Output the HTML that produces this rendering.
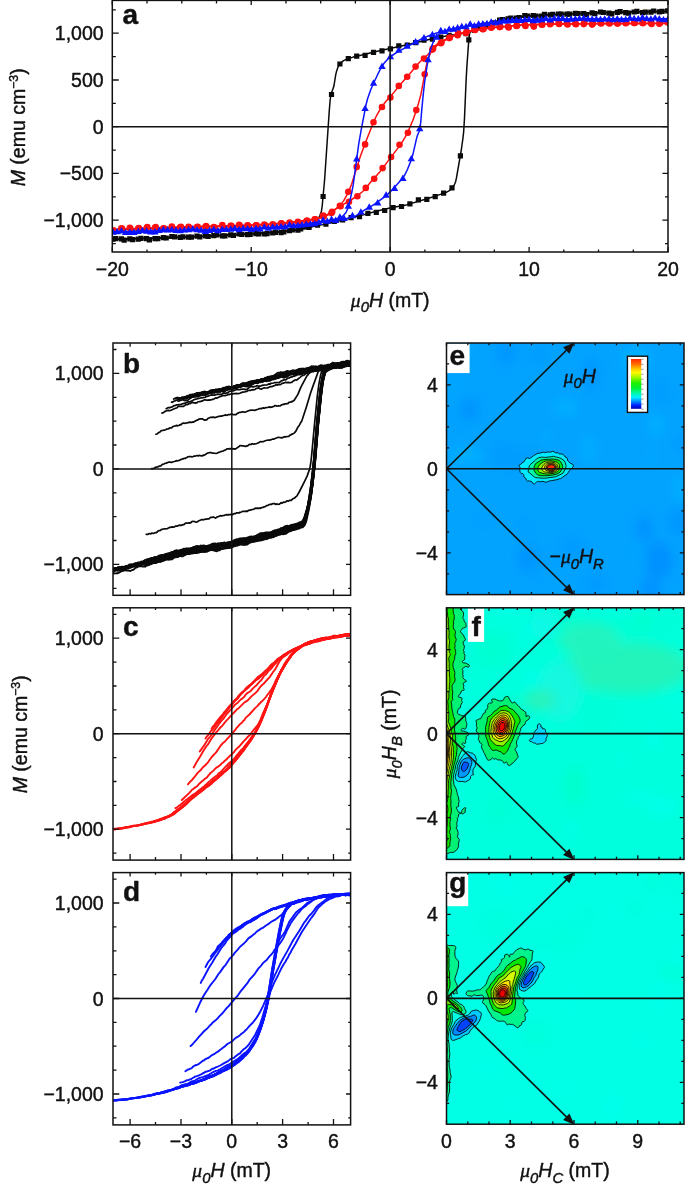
<!DOCTYPE html>
<html lang="en"><head><meta charset="utf-8"><title>Figure</title>
<style>html,body{margin:0;padding:0;background:#fff}svg{display:block;will-change:transform}text{stroke:#111;stroke-width:.42px;stroke-linejoin:round}</style></head>
<body>
<svg width="685" height="1188" viewBox="0 0 685 1188" font-family='"Liberation Sans", sans-serif' fill="#111">
<defs>
<clipPath id="clipA"><rect x="112.3" y="0.4" width="555.7" height="251.6"/></clipPath>
<clipPath id="clipb"><rect x="113.0" y="343" width="237.60000000000002" height="252.3"/></clipPath>
<clipPath id="clipc"><rect x="113.0" y="607.8" width="237.60000000000002" height="252.3"/></clipPath>
<clipPath id="clipd"><rect x="113.0" y="872.6" width="237.60000000000002" height="252.3"/></clipPath>
<clipPath id="clipMe"><rect x="446.5" y="343" width="237.5" height="251.6"/></clipPath>
<clipPath id="clipMf"><rect x="446.5" y="607.8" width="237.5" height="251.6"/></clipPath>
<clipPath id="clipMg"><rect x="446.5" y="872.6" width="237.5" height="251.6"/></clipPath>
<filter id="blur" x="-20%" y="-20%" width="140%" height="140%"><feGaussianBlur stdDeviation="6"/></filter>
<linearGradient id="cb" x1="0" y1="0" x2="0" y2="1"><stop offset="0%" stop-color="#ff2a00"/><stop offset="10%" stop-color="#ff6a00"/><stop offset="20%" stop-color="#ffc800"/><stop offset="27%" stop-color="#fff800"/><stop offset="36%" stop-color="#a8f800"/><stop offset="48%" stop-color="#20f000"/><stop offset="58%" stop-color="#00f030"/><stop offset="68%" stop-color="#00f8a0"/><stop offset="77%" stop-color="#00f0ff"/><stop offset="85%" stop-color="#0090ff"/><stop offset="93%" stop-color="#0020ff"/><stop offset="100%" stop-color="#0000b0"/></linearGradient>
</defs>
<rect width="685" height="1188" fill="#fff"/>
<g clip-path="url(#clipA)">
<path d="M112.3 239.2l42.1-1.2 45.3-1.7 43.8-2.3 32.6-2.1 15.9-1.6 5.5-0.9 4-0.8 4-1.3 3.2-1.4 3.1-1.8 3.2-2.2 2.4-2.2 1.6-2.3 0.8-1.6 1.6-4.3 0.8-5.5 2.4-26.2 4.7-69.4 0.8-9.7 0.8-5.5 0.8-2.9 1.6-4.2 0.8-3.1 1.6-10.1 0.8-3.5 1.6-4.6 0.8-1.7 0.8-1.1 1.6-1.7 2.3-1.6 3.2-1.6 6.4-2 8.7-2 14.3-3.7 28.7-6.2 26.2-6.2 15.1-3.1 15.9-2.4 7.2-1.4 3.9-1.3 18.3-7.3 5.6-2.1 5.5-1.6 8-1.3 10.3-1.3 12.8-1.2 13.5-1 15.1-0.7 50.1-1.7 55.6-1.1" stroke="#0a0a0a" stroke-width="1.5" fill="none" stroke-linejoin="round" stroke-linecap="round"/>
<path d="M110.4 236.6h5.2v5.2h-5.2zM118.8 236.2h5.2v5.2h-5.2zM127.2 236.3h5.2v5.2h-5.2zM135.6 236.5h5.2v5.2h-5.2zM144 236h5.2v5.2h-5.2zM152.4 236h5.2v5.2h-5.2zM160.8 235.1h5.2v5.2h-5.2zM169.2 233.9h5.2v5.2h-5.2zM177.6 234.8h5.2v5.2h-5.2zM186 234.6h5.2v5.2h-5.2zM194.4 233.5h5.2v5.2h-5.2zM202.8 233.2h5.2v5.2h-5.2zM211.2 233h5.2v5.2h-5.2zM219.7 233.2h5.2v5.2h-5.2zM228.1 232.2h5.2v5.2h-5.2zM236.5 231.2h5.2v5.2h-5.2zM244.9 232.1h5.2v5.2h-5.2zM253.3 231h5.2v5.2h-5.2zM261.7 231.4h5.2v5.2h-5.2zM270.1 230.4h5.2v5.2h-5.2zM278.5 230h5.2v5.2h-5.2zM286.9 228.1h5.2v5.2h-5.2zM295.3 227.6h5.2v5.2h-5.2zM303.7 224.2h5.2v5.2h-5.2zM312.1 219.4h5.2v5.2h-5.2zM320.5 193.9h5.2v5.2h-5.2zM328.9 91.9h5.2v5.2h-5.2zM337.3 61.4h5.2v5.2h-5.2zM345.7 56h5.2v5.2h-5.2zM354.1 53.6h5.2v5.2h-5.2zM362.5 52.7h5.2v5.2h-5.2zM370.9 49.8h5.2v5.2h-5.2zM379.4 48.2h5.2v5.2h-5.2zM387.8 46.2h5.2v5.2h-5.2zM396.2 43.2h5.2v5.2h-5.2zM404.6 42.6h5.2v5.2h-5.2zM413 40.1h5.2v5.2h-5.2zM421.4 37.5h5.2v5.2h-5.2zM429.8 36.5h5.2v5.2h-5.2zM438.2 34.4h5.2v5.2h-5.2zM446.6 32.7h5.2v5.2h-5.2zM455 31.6h5.2v5.2h-5.2zM463.4 31h5.2v5.2h-5.2zM471.8 27.7h5.2v5.2h-5.2zM480.2 23.5h5.2v5.2h-5.2zM488.6 22h5.2v5.2h-5.2zM497 17.5h5.2v5.2h-5.2zM505.4 16.2h5.2v5.2h-5.2zM513.8 15.5h5.2v5.2h-5.2zM522.2 12.9h5.2v5.2h-5.2zM530.6 12.9h5.2v5.2h-5.2zM539.1 13.6h5.2v5.2h-5.2zM547.5 12.2h5.2v5.2h-5.2zM555.9 11.4h5.2v5.2h-5.2zM564.3 11.6h5.2v5.2h-5.2zM572.7 10.7h5.2v5.2h-5.2zM581.1 10.9h5.2v5.2h-5.2zM589.5 10.2h5.2v5.2h-5.2zM597.9 9.4h5.2v5.2h-5.2zM606.3 10.6h5.2v5.2h-5.2zM614.7 9.8h5.2v5.2h-5.2zM623.1 10h5.2v5.2h-5.2zM631.5 9.4h5.2v5.2h-5.2zM639.9 10.1h5.2v5.2h-5.2zM648.3 9.5h5.2v5.2h-5.2zM656.7 9.2h5.2v5.2h-5.2zM665.1 8.3h5.2v5.2h-5.2z" fill="#0a0a0a"/>
<path d="M112.3 239.6l61.2-1.9 58-2.5 21.5-1.2 14.3-1 19.1-1.7 11.1-1.4 5.6-0.9 11.1-2.8 11.2-2.2 14.3-3.3 19-4.6 16.7-4.6 11.2-2.8 5.5-1.1 10.4-1.8 3.9-0.9 21.5-6.4 9.6-3.1 8.7-3 3.2-1.8 2.4-2.1 2.3-3.4 0.8-1.6 0.8-2.1 0.8-3.7 4.8-27.7 1.6-11.5 0.8-7.2 0.8-13.2 1.6-37.6 0.8-14.1 1.6-22.5 0.8-8.3 0.7-3.9 0.8-0.7 1.6-1.1 1.6-0.7 5.6-1.4 13.5-5.3 7.2-2.4 3.1-0.7 6.4-1.1 13.5-1.7 22.3-1.7 29.4-1.3 49.3-1.5 43.7-0.8" stroke="#0a0a0a" stroke-width="1.5" fill="none" stroke-linejoin="round" stroke-linecap="round"/>
<path d="M113.2 236.1h5.2v5.2h-5.2zM121.6 237.5h5.2v5.2h-5.2zM130 237h5.2v5.2h-5.2zM138.4 235.8h5.2v5.2h-5.2zM146.8 237.2h5.2v5.2h-5.2zM155.2 236h5.2v5.2h-5.2zM163.6 235.4h5.2v5.2h-5.2zM172 234.2h5.2v5.2h-5.2zM180.4 234.3h5.2v5.2h-5.2zM188.8 234.6h5.2v5.2h-5.2zM197.2 234.3h5.2v5.2h-5.2zM205.6 233.9h5.2v5.2h-5.2zM214 232.4h5.2v5.2h-5.2zM222.4 233.2h5.2v5.2h-5.2zM230.8 232.7h5.2v5.2h-5.2zM239.2 231.8h5.2v5.2h-5.2zM247.6 231.7h5.2v5.2h-5.2zM256.1 231.2h5.2v5.2h-5.2zM264.5 231.1h5.2v5.2h-5.2zM272.9 229.7h5.2v5.2h-5.2zM281.3 229.2h5.2v5.2h-5.2zM289.7 227.3h5.2v5.2h-5.2zM298.1 226.4h5.2v5.2h-5.2zM306.5 224.9h5.2v5.2h-5.2zM314.9 222.5h5.2v5.2h-5.2zM323.3 221.5h5.2v5.2h-5.2zM331.7 218.7h5.2v5.2h-5.2zM340.1 217.4h5.2v5.2h-5.2zM348.5 215h5.2v5.2h-5.2zM356.9 214.1h5.2v5.2h-5.2zM365.3 210.8h5.2v5.2h-5.2zM373.7 209.8h5.2v5.2h-5.2zM382.1 207.9h5.2v5.2h-5.2zM390.5 205h5.2v5.2h-5.2zM398.9 203.9h5.2v5.2h-5.2zM407.3 201.2h5.2v5.2h-5.2zM415.8 197.3h5.2v5.2h-5.2zM424.2 196.8h5.2v5.2h-5.2zM432.6 194h5.2v5.2h-5.2zM441 190.6h5.2v5.2h-5.2zM449.4 185.3h5.2v5.2h-5.2zM457.8 153.2h5.2v5.2h-5.2zM466.2 37.3h5.2v5.2h-5.2zM474.6 25.3h5.2v5.2h-5.2zM483 22.5h5.2v5.2h-5.2zM491.4 20.2h5.2v5.2h-5.2zM499.8 17.1h5.2v5.2h-5.2zM508.2 15.5h5.2v5.2h-5.2zM516.6 15.1h5.2v5.2h-5.2zM525 13.4h5.2v5.2h-5.2zM533.4 13.5h5.2v5.2h-5.2zM541.8 11.7h5.2v5.2h-5.2zM550.2 11.8h5.2v5.2h-5.2zM558.6 11.5h5.2v5.2h-5.2zM567 11.6h5.2v5.2h-5.2zM575.5 10.9h5.2v5.2h-5.2zM583.9 11.9h5.2v5.2h-5.2zM592.3 11.1h5.2v5.2h-5.2zM600.7 9.9h5.2v5.2h-5.2zM609.1 11.3h5.2v5.2h-5.2zM617.5 9.1h5.2v5.2h-5.2zM625.9 10.6h5.2v5.2h-5.2zM634.3 8.8h5.2v5.2h-5.2zM642.7 9.6h5.2v5.2h-5.2zM651.1 8.4h5.2v5.2h-5.2zM659.5 8.7h5.2v5.2h-5.2z" fill="#0a0a0a"/>
<path d="M112.3 229.6l66.8-2.6 65.2-1.7 25.4-1.2 19.1-1.6 15.9-1.9 7.1-1.3 8-1.8 5.6-1.4 3.1-1.3 2.4-1.6 8-7 2.4-2.3 2.3-3 3.2-5.7 2.4-5.1 2.4-5.8 8.7-27.7 4.8-13 7.2-18.4 3.9-8.9 3.2-5.7 3.2-4.9 3.2-4.2 7.1-7.9 8-9.8 8.7-9.8 7.2-8.8 3.2-3.4 7.1-6.5 7.2-7.3 3.2-2.9 3.1-2.2 4-2.4 5.6-3 3.9-1.8 4.8-1.6 5.6-1.5 9.5-2.1 5.6-1.1 17.5-2.1 27-2.3 22.3-0.7 31-0.5 90.6-0.4" stroke="#ff1010" stroke-width="1.5" fill="none" stroke-linejoin="round" stroke-linecap="round"/>
<path d="M109.7 230.5a3.3 3.3 0 1 0 6.6 0a3.3 3.3 0 1 0 -6.6 0zM118.1 228.3a3.3 3.3 0 1 0 6.6 0a3.3 3.3 0 1 0 -6.6 0zM126.5 227.9a3.3 3.3 0 1 0 6.6 0a3.3 3.3 0 1 0 -6.6 0zM134.9 228.5a3.3 3.3 0 1 0 6.6 0a3.3 3.3 0 1 0 -6.6 0zM143.3 228.3a3.3 3.3 0 1 0 6.6 0a3.3 3.3 0 1 0 -6.6 0zM151.7 227.9a3.3 3.3 0 1 0 6.6 0a3.3 3.3 0 1 0 -6.6 0zM160.1 228.2a3.3 3.3 0 1 0 6.6 0a3.3 3.3 0 1 0 -6.6 0zM168.5 226.5a3.3 3.3 0 1 0 6.6 0a3.3 3.3 0 1 0 -6.6 0zM176.9 227.3a3.3 3.3 0 1 0 6.6 0a3.3 3.3 0 1 0 -6.6 0zM185.3 226.8a3.3 3.3 0 1 0 6.6 0a3.3 3.3 0 1 0 -6.6 0zM193.7 227a3.3 3.3 0 1 0 6.6 0a3.3 3.3 0 1 0 -6.6 0zM202.1 226.7a3.3 3.3 0 1 0 6.6 0a3.3 3.3 0 1 0 -6.6 0zM210.5 227a3.3 3.3 0 1 0 6.6 0a3.3 3.3 0 1 0 -6.6 0zM219 225.1a3.3 3.3 0 1 0 6.6 0a3.3 3.3 0 1 0 -6.6 0zM227.4 225.8a3.3 3.3 0 1 0 6.6 0a3.3 3.3 0 1 0 -6.6 0zM235.8 224.9a3.3 3.3 0 1 0 6.6 0a3.3 3.3 0 1 0 -6.6 0zM244.2 225.2a3.3 3.3 0 1 0 6.6 0a3.3 3.3 0 1 0 -6.6 0zM252.6 225.3a3.3 3.3 0 1 0 6.6 0a3.3 3.3 0 1 0 -6.6 0zM261 224.6a3.3 3.3 0 1 0 6.6 0a3.3 3.3 0 1 0 -6.6 0zM269.4 224.2a3.3 3.3 0 1 0 6.6 0a3.3 3.3 0 1 0 -6.6 0zM277.8 223.2a3.3 3.3 0 1 0 6.6 0a3.3 3.3 0 1 0 -6.6 0zM286.2 222.6a3.3 3.3 0 1 0 6.6 0a3.3 3.3 0 1 0 -6.6 0zM294.6 221.7a3.3 3.3 0 1 0 6.6 0a3.3 3.3 0 1 0 -6.6 0zM303 221.2a3.3 3.3 0 1 0 6.6 0a3.3 3.3 0 1 0 -6.6 0zM311.4 219.2a3.3 3.3 0 1 0 6.6 0a3.3 3.3 0 1 0 -6.6 0zM319.8 215.6a3.3 3.3 0 1 0 6.6 0a3.3 3.3 0 1 0 -6.6 0zM328.2 213.1a3.3 3.3 0 1 0 6.6 0a3.3 3.3 0 1 0 -6.6 0zM336.6 205.9a3.3 3.3 0 1 0 6.6 0a3.3 3.3 0 1 0 -6.6 0zM345 191.8a3.3 3.3 0 1 0 6.6 0a3.3 3.3 0 1 0 -6.6 0zM353.4 166.9a3.3 3.3 0 1 0 6.6 0a3.3 3.3 0 1 0 -6.6 0zM361.8 144.4a3.3 3.3 0 1 0 6.6 0a3.3 3.3 0 1 0 -6.6 0zM370.2 122.2a3.3 3.3 0 1 0 6.6 0a3.3 3.3 0 1 0 -6.6 0zM378.7 107a3.3 3.3 0 1 0 6.6 0a3.3 3.3 0 1 0 -6.6 0zM387.1 97.6a3.3 3.3 0 1 0 6.6 0a3.3 3.3 0 1 0 -6.6 0zM395.5 85.9a3.3 3.3 0 1 0 6.6 0a3.3 3.3 0 1 0 -6.6 0zM403.9 76.8a3.3 3.3 0 1 0 6.6 0a3.3 3.3 0 1 0 -6.6 0zM412.3 66.6a3.3 3.3 0 1 0 6.6 0a3.3 3.3 0 1 0 -6.6 0zM420.7 58.6a3.3 3.3 0 1 0 6.6 0a3.3 3.3 0 1 0 -6.6 0zM429.1 49.6a3.3 3.3 0 1 0 6.6 0a3.3 3.3 0 1 0 -6.6 0zM437.5 43.2a3.3 3.3 0 1 0 6.6 0a3.3 3.3 0 1 0 -6.6 0zM445.9 38.1a3.3 3.3 0 1 0 6.6 0a3.3 3.3 0 1 0 -6.6 0zM454.3 35.2a3.3 3.3 0 1 0 6.6 0a3.3 3.3 0 1 0 -6.6 0zM462.7 33a3.3 3.3 0 1 0 6.6 0a3.3 3.3 0 1 0 -6.6 0zM471.1 29.5a3.3 3.3 0 1 0 6.6 0a3.3 3.3 0 1 0 -6.6 0zM479.5 29.3a3.3 3.3 0 1 0 6.6 0a3.3 3.3 0 1 0 -6.6 0zM487.9 27.7a3.3 3.3 0 1 0 6.6 0a3.3 3.3 0 1 0 -6.6 0zM496.3 27.1a3.3 3.3 0 1 0 6.6 0a3.3 3.3 0 1 0 -6.6 0zM504.7 26.6a3.3 3.3 0 1 0 6.6 0a3.3 3.3 0 1 0 -6.6 0zM513.1 25.9a3.3 3.3 0 1 0 6.6 0a3.3 3.3 0 1 0 -6.6 0zM521.5 24.5a3.3 3.3 0 1 0 6.6 0a3.3 3.3 0 1 0 -6.6 0zM529.9 24.9a3.3 3.3 0 1 0 6.6 0a3.3 3.3 0 1 0 -6.6 0zM538.4 24.5a3.3 3.3 0 1 0 6.6 0a3.3 3.3 0 1 0 -6.6 0zM546.8 24.3a3.3 3.3 0 1 0 6.6 0a3.3 3.3 0 1 0 -6.6 0zM555.2 23.3a3.3 3.3 0 1 0 6.6 0a3.3 3.3 0 1 0 -6.6 0zM563.6 23.5a3.3 3.3 0 1 0 6.6 0a3.3 3.3 0 1 0 -6.6 0zM572 23.6a3.3 3.3 0 1 0 6.6 0a3.3 3.3 0 1 0 -6.6 0zM580.4 24.1a3.3 3.3 0 1 0 6.6 0a3.3 3.3 0 1 0 -6.6 0zM588.8 24.6a3.3 3.3 0 1 0 6.6 0a3.3 3.3 0 1 0 -6.6 0zM597.2 23a3.3 3.3 0 1 0 6.6 0a3.3 3.3 0 1 0 -6.6 0zM605.6 23a3.3 3.3 0 1 0 6.6 0a3.3 3.3 0 1 0 -6.6 0zM614 23.6a3.3 3.3 0 1 0 6.6 0a3.3 3.3 0 1 0 -6.6 0zM622.4 23.1a3.3 3.3 0 1 0 6.6 0a3.3 3.3 0 1 0 -6.6 0zM630.8 23a3.3 3.3 0 1 0 6.6 0a3.3 3.3 0 1 0 -6.6 0zM639.2 22.9a3.3 3.3 0 1 0 6.6 0a3.3 3.3 0 1 0 -6.6 0zM647.6 22.8a3.3 3.3 0 1 0 6.6 0a3.3 3.3 0 1 0 -6.6 0zM656 23.7a3.3 3.3 0 1 0 6.6 0a3.3 3.3 0 1 0 -6.6 0zM664.4 22.4a3.3 3.3 0 1 0 6.6 0a3.3 3.3 0 1 0 -6.6 0z" fill="#ff1010"/>
<path d="M112.3 229.7l66.8-2.4 64.4-1.6 24.6-1.1 21.5-1.8 18.3-2.1 6.3-1.1 5.6-1.4 3.2-1 2.4-1.3 11.1-7.6 13.5-7.8 4.8-3 3.9-2.8 4-3.2 2.4-2.6 5.6-6.8 9.5-10.7 20.7-27.3 4-6.4 3.9-7.8 4-9.4 3.2-9 2.4-7.8 2.4-8.8 1.5-7.7 3.2-17.6 1.6-7.4 1.6-5 2.4-5.3 1.6-2.9 1.6-2.3 1.6-1.7 1.6-1.2 3.1-1.9 9.6-4.9 3.9-1.7 5.6-1.8 5.6-1.4 7.9-1.7 6.4-1.2 18.3-2.1 26.2-2.3 22.3-0.6 31-0.5 90.6-0.5" stroke="#ff1010" stroke-width="1.5" fill="none" stroke-linejoin="round" stroke-linecap="round"/>
<path d="M110.4 230.5a3.3 3.3 0 1 0 6.6 0a3.3 3.3 0 1 0 -6.6 0zM118.8 228.8a3.3 3.3 0 1 0 6.6 0a3.3 3.3 0 1 0 -6.6 0zM127.2 228.7a3.3 3.3 0 1 0 6.6 0a3.3 3.3 0 1 0 -6.6 0zM135.6 228.1a3.3 3.3 0 1 0 6.6 0a3.3 3.3 0 1 0 -6.6 0zM144 227.1a3.3 3.3 0 1 0 6.6 0a3.3 3.3 0 1 0 -6.6 0zM152.4 227.1a3.3 3.3 0 1 0 6.6 0a3.3 3.3 0 1 0 -6.6 0zM160.8 228.5a3.3 3.3 0 1 0 6.6 0a3.3 3.3 0 1 0 -6.6 0zM169.2 228.6a3.3 3.3 0 1 0 6.6 0a3.3 3.3 0 1 0 -6.6 0zM177.6 226.7a3.3 3.3 0 1 0 6.6 0a3.3 3.3 0 1 0 -6.6 0zM186 227.7a3.3 3.3 0 1 0 6.6 0a3.3 3.3 0 1 0 -6.6 0zM194.4 226.8a3.3 3.3 0 1 0 6.6 0a3.3 3.3 0 1 0 -6.6 0zM202.8 226.1a3.3 3.3 0 1 0 6.6 0a3.3 3.3 0 1 0 -6.6 0zM211.2 227.5a3.3 3.3 0 1 0 6.6 0a3.3 3.3 0 1 0 -6.6 0zM219.6 227.6a3.3 3.3 0 1 0 6.6 0a3.3 3.3 0 1 0 -6.6 0zM228.1 225.9a3.3 3.3 0 1 0 6.6 0a3.3 3.3 0 1 0 -6.6 0zM236.5 225.8a3.3 3.3 0 1 0 6.6 0a3.3 3.3 0 1 0 -6.6 0zM244.9 225.7a3.3 3.3 0 1 0 6.6 0a3.3 3.3 0 1 0 -6.6 0zM253.3 225.2a3.3 3.3 0 1 0 6.6 0a3.3 3.3 0 1 0 -6.6 0zM261.7 225.3a3.3 3.3 0 1 0 6.6 0a3.3 3.3 0 1 0 -6.6 0zM270.1 225.2a3.3 3.3 0 1 0 6.6 0a3.3 3.3 0 1 0 -6.6 0zM278.5 223.6a3.3 3.3 0 1 0 6.6 0a3.3 3.3 0 1 0 -6.6 0zM286.9 223.4a3.3 3.3 0 1 0 6.6 0a3.3 3.3 0 1 0 -6.6 0zM295.3 222.9a3.3 3.3 0 1 0 6.6 0a3.3 3.3 0 1 0 -6.6 0zM303.7 220.5a3.3 3.3 0 1 0 6.6 0a3.3 3.3 0 1 0 -6.6 0zM312.1 219.4a3.3 3.3 0 1 0 6.6 0a3.3 3.3 0 1 0 -6.6 0zM320.5 216.5a3.3 3.3 0 1 0 6.6 0a3.3 3.3 0 1 0 -6.6 0zM328.9 211.8a3.3 3.3 0 1 0 6.6 0a3.3 3.3 0 1 0 -6.6 0zM337.3 206.3a3.3 3.3 0 1 0 6.6 0a3.3 3.3 0 1 0 -6.6 0zM345.7 201.7a3.3 3.3 0 1 0 6.6 0a3.3 3.3 0 1 0 -6.6 0zM354.1 196.3a3.3 3.3 0 1 0 6.6 0a3.3 3.3 0 1 0 -6.6 0zM362.5 187.9a3.3 3.3 0 1 0 6.6 0a3.3 3.3 0 1 0 -6.6 0zM370.9 178.7a3.3 3.3 0 1 0 6.6 0a3.3 3.3 0 1 0 -6.6 0zM379.3 168.1a3.3 3.3 0 1 0 6.6 0a3.3 3.3 0 1 0 -6.6 0zM387.8 157a3.3 3.3 0 1 0 6.6 0a3.3 3.3 0 1 0 -6.6 0zM396.2 144.7a3.3 3.3 0 1 0 6.6 0a3.3 3.3 0 1 0 -6.6 0zM404.6 132.8a3.3 3.3 0 1 0 6.6 0a3.3 3.3 0 1 0 -6.6 0zM413 110.1a3.3 3.3 0 1 0 6.6 0a3.3 3.3 0 1 0 -6.6 0zM421.4 74.3a3.3 3.3 0 1 0 6.6 0a3.3 3.3 0 1 0 -6.6 0zM429.8 48.4a3.3 3.3 0 1 0 6.6 0a3.3 3.3 0 1 0 -6.6 0zM438.2 42.4a3.3 3.3 0 1 0 6.6 0a3.3 3.3 0 1 0 -6.6 0zM446.6 37.5a3.3 3.3 0 1 0 6.6 0a3.3 3.3 0 1 0 -6.6 0zM455 33.4a3.3 3.3 0 1 0 6.6 0a3.3 3.3 0 1 0 -6.6 0zM463.4 31.8a3.3 3.3 0 1 0 6.6 0a3.3 3.3 0 1 0 -6.6 0zM471.8 29.9a3.3 3.3 0 1 0 6.6 0a3.3 3.3 0 1 0 -6.6 0zM480.2 28.9a3.3 3.3 0 1 0 6.6 0a3.3 3.3 0 1 0 -6.6 0zM488.6 26.9a3.3 3.3 0 1 0 6.6 0a3.3 3.3 0 1 0 -6.6 0zM497 26.8a3.3 3.3 0 1 0 6.6 0a3.3 3.3 0 1 0 -6.6 0zM505.4 27.5a3.3 3.3 0 1 0 6.6 0a3.3 3.3 0 1 0 -6.6 0zM513.8 25.8a3.3 3.3 0 1 0 6.6 0a3.3 3.3 0 1 0 -6.6 0zM522.2 26a3.3 3.3 0 1 0 6.6 0a3.3 3.3 0 1 0 -6.6 0zM530.6 26.6a3.3 3.3 0 1 0 6.6 0a3.3 3.3 0 1 0 -6.6 0zM539 24.6a3.3 3.3 0 1 0 6.6 0a3.3 3.3 0 1 0 -6.6 0zM547.5 23.2a3.3 3.3 0 1 0 6.6 0a3.3 3.3 0 1 0 -6.6 0zM555.9 23.9a3.3 3.3 0 1 0 6.6 0a3.3 3.3 0 1 0 -6.6 0zM564.3 24.5a3.3 3.3 0 1 0 6.6 0a3.3 3.3 0 1 0 -6.6 0zM572.7 24.3a3.3 3.3 0 1 0 6.6 0a3.3 3.3 0 1 0 -6.6 0zM581.1 22.8a3.3 3.3 0 1 0 6.6 0a3.3 3.3 0 1 0 -6.6 0zM589.5 23.4a3.3 3.3 0 1 0 6.6 0a3.3 3.3 0 1 0 -6.6 0zM597.9 23.4a3.3 3.3 0 1 0 6.6 0a3.3 3.3 0 1 0 -6.6 0zM606.3 23.4a3.3 3.3 0 1 0 6.6 0a3.3 3.3 0 1 0 -6.6 0zM614.7 23.3a3.3 3.3 0 1 0 6.6 0a3.3 3.3 0 1 0 -6.6 0zM623.1 22.8a3.3 3.3 0 1 0 6.6 0a3.3 3.3 0 1 0 -6.6 0zM631.5 22.9a3.3 3.3 0 1 0 6.6 0a3.3 3.3 0 1 0 -6.6 0zM639.9 23.1a3.3 3.3 0 1 0 6.6 0a3.3 3.3 0 1 0 -6.6 0zM648.3 23.9a3.3 3.3 0 1 0 6.6 0a3.3 3.3 0 1 0 -6.6 0zM656.7 22.9a3.3 3.3 0 1 0 6.6 0a3.3 3.3 0 1 0 -6.6 0z" fill="#ff1010"/>
<path d="M112.3 232l114.5-2.6 24.6-0.8 17.5-0.9 19.1-1.5 15.9-1.6 17.5-3 11.9-1.7 4.8-1.2 2.4-1.1 1.6-1 1.5-1.4 2.4-2.7 1.6-3.5 1.6-5.4 2.4-10.3 1.6-8.4 5.5-40.8 2.4-13.8 4.8-25 1.6-6.3 3.2-9.3 2.4-5.5 4.7-10 3.2-6.2 3.2-4.9 4-4.3 3.9-3.3 4-2.6 20.7-11.6 6.3-3.2 6.4-2.6 6.4-2.2 8.7-2.4 8-1.9 9.5-1.8 14.3-2.3 16.7-2.4 8.8-1 12.7-1 12.7-0.6 30.2-0.5 110.5-0.4" stroke="#0a14ff" stroke-width="1.5" fill="none" stroke-linejoin="round" stroke-linecap="round"/>
<path d="M113 228.4l3.7 6.4h-7.4zM121.4 227.1l3.7 6.4h-7.4zM129.8 228.5l3.7 6.4h-7.4zM138.2 227.6l3.7 6.4h-7.4zM146.6 227.3l3.7 6.4h-7.4zM155 228l3.7 6.4h-7.4zM163.4 225.8l3.7 6.4h-7.4zM171.8 225.8l3.7 6.4h-7.4zM180.2 226.8l3.7 6.4h-7.4zM188.6 225.8l3.7 6.4h-7.4zM197 225.9l3.7 6.4h-7.4zM205.4 227.7l3.7 6.4h-7.4zM213.8 225.6l3.7 6.4h-7.4zM222.3 225.6l3.7 6.4h-7.4zM230.7 225.3l3.7 6.4h-7.4zM239.1 225.8l3.7 6.4h-7.4zM247.5 224.9l3.7 6.4h-7.4zM255.9 224.5l3.7 6.4h-7.4zM264.3 223.2l3.7 6.4h-7.4zM272.7 223.2l3.7 6.4h-7.4zM281.1 222.8l3.7 6.4h-7.4zM289.5 221.1l3.7 6.4h-7.4zM297.9 221.7l3.7 6.4h-7.4zM306.3 220.5l3.7 6.4h-7.4zM314.7 219.9l3.7 6.4h-7.4zM323.1 216.3l3.7 6.4h-7.4zM331.5 215.5l3.7 6.4h-7.4zM339.9 213.3l3.7 6.4h-7.4zM348.3 202.3l3.7 6.4h-7.4zM356.7 155l3.7 6.4h-7.4zM365.1 104.7l3.7 6.4h-7.4zM373.5 79.3l3.7 6.4h-7.4zM382 62.5l3.7 6.4h-7.4zM390.4 52.8l3.7 6.4h-7.4zM398.8 46.4l3.7 6.4h-7.4zM407.2 42.3l3.7 6.4h-7.4zM415.6 38l3.7 6.4h-7.4zM424 34.1l3.7 6.4h-7.4zM432.4 30.8l3.7 6.4h-7.4zM440.8 26.8l3.7 6.4h-7.4zM449.2 25.4l3.7 6.4h-7.4zM457.6 24l3.7 6.4h-7.4zM466 22.8l3.7 6.4h-7.4zM474.4 21.9l3.7 6.4h-7.4zM482.8 20l3.7 6.4h-7.4zM491.2 18.2l3.7 6.4h-7.4zM499.6 18l3.7 6.4h-7.4zM508 17.2l3.7 6.4h-7.4zM516.4 16.5l3.7 6.4h-7.4zM524.8 15.9l3.7 6.4h-7.4zM533.2 16.8l3.7 6.4h-7.4zM541.7 15.8l3.7 6.4h-7.4zM550.1 16.1l3.7 6.4h-7.4zM558.5 14.8l3.7 6.4h-7.4zM566.9 15.9l3.7 6.4h-7.4zM575.3 14.9l3.7 6.4h-7.4zM583.7 14.2l3.7 6.4h-7.4zM592.1 15.4l3.7 6.4h-7.4zM600.5 15.6l3.7 6.4h-7.4zM608.9 15l3.7 6.4h-7.4zM617.3 15.1l3.7 6.4h-7.4zM625.7 15.7l3.7 6.4h-7.4zM634.1 14.7l3.7 6.4h-7.4zM642.5 13.7l3.7 6.4h-7.4zM650.9 15.2l3.7 6.4h-7.4zM659.3 15.1l3.7 6.4h-7.4zM667.7 15.7l3.7 6.4h-7.4z" fill="#0a14ff"/>
<path d="M112.3 232.2l118.4-2.6 23.9-0.8 17.5-1 15.1-1.2 14.3-1.3 19.1-3 15.1-1.8 11.1-2 4.8-1.2 4-1.4 3.1-1.7 6.4-4.6 6.4-3.4 3.1-2 9.6-7.1 4-3.3 3.9-3.9 9.6-10.6 3.2-4.6 2.3-4.7 3.2-7.9 2.4-7.3 4-17.4 0.8-2.4 1.6-3.8 0.8-2.8 0.8-6.7 0.8-10.1 1.5-16 1.6-13.9 2.4-16 2.4-12.4 1.6-5.6 1.6-4.3 1.6-3.6 1.6-2.7 0.8-1 2.3-1.9 3.2-1.7 6.4-2.3 6.3-1.7 7.2-1.4 13.5-2.3 17.5-2.5 8.8-1 13.5-1 12.7-0.6 30.2-0.5 109.7-0.4" stroke="#0a14ff" stroke-width="1.5" fill="none" stroke-linejoin="round" stroke-linecap="round"/>
<path d="M117.2 227.9l3.7 6.4h-7.4zM125.6 228.7l3.7 6.4h-7.4zM134 228.5l3.7 6.4h-7.4zM142.4 226.7l3.7 6.4h-7.4zM150.8 228l3.7 6.4h-7.4zM159.2 226.5l3.7 6.4h-7.4zM167.6 226l3.7 6.4h-7.4zM176 226.6l3.7 6.4h-7.4zM184.4 226.2l3.7 6.4h-7.4zM192.8 225.1l3.7 6.4h-7.4zM201.2 226.4l3.7 6.4h-7.4zM209.6 226.5l3.7 6.4h-7.4zM218 226.8l3.7 6.4h-7.4zM226.4 225.6l3.7 6.4h-7.4zM234.8 224.5l3.7 6.4h-7.4zM243.2 224.6l3.7 6.4h-7.4zM251.6 225.5l3.7 6.4h-7.4zM260 225.1l3.7 6.4h-7.4zM268.4 224.4l3.7 6.4h-7.4zM276.9 223.3l3.7 6.4h-7.4zM285.3 222.9l3.7 6.4h-7.4zM293.7 221.9l3.7 6.4h-7.4zM302.1 221l3.7 6.4h-7.4zM310.5 220.2l3.7 6.4h-7.4zM318.9 218.6l3.7 6.4h-7.4zM327.3 217.4l3.7 6.4h-7.4zM335.7 216.6l3.7 6.4h-7.4zM344.1 214.7l3.7 6.4h-7.4zM352.5 211.8l3.7 6.4h-7.4zM360.9 208.2l3.7 6.4h-7.4zM369.3 203.3l3.7 6.4h-7.4zM377.7 199.1l3.7 6.4h-7.4zM386.1 191.3l3.7 6.4h-7.4zM394.5 184.5l3.7 6.4h-7.4zM402.9 174.6l3.7 6.4h-7.4zM411.3 154.9l3.7 6.4h-7.4zM419.7 124.8l3.7 6.4h-7.4zM428.1 55.9l3.7 6.4h-7.4zM436.6 33.3l3.7 6.4h-7.4zM445 27.7l3.7 6.4h-7.4zM453.4 25.3l3.7 6.4h-7.4zM461.8 22.7l3.7 6.4h-7.4zM470.2 20.2l3.7 6.4h-7.4zM478.6 20.2l3.7 6.4h-7.4zM487 19.7l3.7 6.4h-7.4zM495.4 18.8l3.7 6.4h-7.4zM503.8 17.2l3.7 6.4h-7.4zM512.2 16.6l3.7 6.4h-7.4zM520.6 16.7l3.7 6.4h-7.4zM529 15.6l3.7 6.4h-7.4zM537.4 16.3l3.7 6.4h-7.4zM545.8 14.7l3.7 6.4h-7.4zM554.2 14.6l3.7 6.4h-7.4zM562.6 14.5l3.7 6.4h-7.4zM571 15.4l3.7 6.4h-7.4zM579.4 14.7l3.7 6.4h-7.4zM587.8 15.1l3.7 6.4h-7.4zM596.3 15.3l3.7 6.4h-7.4zM604.7 15.2l3.7 6.4h-7.4zM613.1 15.8l3.7 6.4h-7.4zM621.5 15.8l3.7 6.4h-7.4zM629.9 14.3l3.7 6.4h-7.4zM638.3 15l3.7 6.4h-7.4zM646.7 14.7l3.7 6.4h-7.4zM655.1 14.2l3.7 6.4h-7.4zM663.5 15.9l3.7 6.4h-7.4z" fill="#0a14ff"/>
</g>
<path d="M112.3 252v-5M112.3 0.4v4.5M251.2 252v-5M251.2 0.4v4.5M390.1 252v-5M390.1 0.4v4.5M529.1 252v-5M529.1 0.4v4.5M668 252v-5M668 0.4v4.5M147 252v-2.6M147 0.4v3M181.8 252v-2.6M181.8 0.4v3M216.5 252v-2.6M216.5 0.4v3M286 252v-2.6M286 0.4v3M320.7 252v-2.6M320.7 0.4v3M355.4 252v-2.6M355.4 0.4v3M424.9 252v-2.6M424.9 0.4v3M459.6 252v-2.6M459.6 0.4v3M494.3 252v-2.6M494.3 0.4v3M563.8 252v-2.6M563.8 0.4v3M598.5 252v-2.6M598.5 0.4v3M633.3 252v-2.6M633.3 0.4v3M112.3 220.2h6.4M668 220.2h-5.6M112.3 173.4h6.4M668 173.4h-5.6M112.3 126.7h6.4M668 126.7h-5.6M112.3 80h6.4M668 80h-5.6M112.3 33.2h6.4M668 33.2h-5.6M112.3 243.6h3.5M668 243.6h-3M112.3 196.8h3.5M668 196.8h-3M112.3 150.1h3.5M668 150.1h-3M112.3 103.3h3.5M668 103.3h-3M112.3 56.6h3.5M668 56.6h-3M112.3 9.8h3.5M668 9.8h-3" stroke="#111" stroke-width="1.3" fill="none"/>
<path d="M112.3 126.7H668M390.1 0.4V252" stroke="#111" stroke-width="1.5" fill="none"/>
<rect x="112.3" y="0.4" width="555.7" height="251.6" fill="none" stroke="#111" stroke-width="1.5"/>
<text transform="translate(112.29 275.6) scale(0.99 1)" font-size="19.7" text-anchor="middle" >−20</text>
<text transform="translate(251.22 275.6) scale(0.99 1)" font-size="19.7" text-anchor="middle" >−10</text>
<text transform="translate(390.15 275.6) scale(0.99 1)" font-size="19.7" text-anchor="middle" >0</text>
<text transform="translate(529.08 275.6) scale(0.99 1)" font-size="19.7" text-anchor="middle" >10</text>
<text transform="translate(668.01 275.6) scale(0.99 1)" font-size="19.7" text-anchor="middle" >20</text>
<text transform="translate(103.6 227.2) scale(0.99 1)" font-size="19.7" text-anchor="end" >−1,000</text>
<text transform="translate(103.6 180.45) scale(0.99 1)" font-size="19.7" text-anchor="end" >−500</text>
<text transform="translate(103.6 133.7) scale(0.99 1)" font-size="19.7" text-anchor="end" >0</text>
<text transform="translate(103.6 86.95) scale(0.99 1)" font-size="19.7" text-anchor="end" >500</text>
<text transform="translate(103.6 40.2) scale(0.99 1)" font-size="19.7" text-anchor="end" >1,000</text>
<text transform="translate(122.6 24) scale(1 1)" font-size="28" text-anchor="start" font-weight="bold">a</text>
<text transform="translate(390.2 306.6) scale(0.99 1)" font-size="19.7" text-anchor="middle"><tspan font-family='Liberation Serif, DejaVu Serif, serif' font-style="italic" font-size="19.7">μ</tspan><tspan font-style="italic" font-size="15" dy="5.3">0</tspan><tspan font-style="italic" dy="-5.3">H</tspan><tspan> (mT)</tspan></text>
<text transform="translate(25.2 127.3) rotate(-90) scale(0.99 1)" font-size="19.7" text-anchor="middle"><tspan font-style="italic">M</tspan> (emu cm<tspan font-size="12.5" dy="-7">−3</tspan><tspan dy="7">)</tspan></text>
<g clip-path="url(#clipb)">
<path d="M171.6 402.1l0.7 0.2 0.7-0.5 1.4-0.8 1.4-0.4 0.7-0.5 2.7-0.5 1.4-0.8 4.1-1.2 1.4-0.7 0.7 0.1 0.7-0.5 1.4-0.4 0.7-0.2 0.7 0.3 1.4-0.9 0.6-0.3 0.7-0.1 0.7 0.3 0.7-0.7 0.7 0 0.7 0.7 0.7 0 0.7 0.3 0.7-0.2 0.7 0.3 1.3-1.1 0.7-0.1 1.4-1.7 0.7-0.2 3.4 0.8 4.9-1.7 0.7 0 1.4-0.4 1.3 0.7 1.4-0.1 0.7-0.3 0.7 0.4 1.4-0.7 1.4 0.6 0.6 0 0.7-0.8 2.1-0.8 0.7-0.8 0.7 0.4 0.7 0.1 0.7-0.2 1.4-1.1 0.6-0.2 0.7-0.9 1.4-0.5 1.4 0.4 0.7-0.1 0.7-0.5 1.4-0.1 1.3-0.8 2.1 0 2.1-0.2 0.7-0.4 0.7 0.5 2-0.5 0.7 0.4 0.7-0.2 1.4-1.1 0.7 0 1.4-1 0.7-0.2 1.3 0.3 0.7-0.3 0.7 0.2 0.7-0.4 0.7 0 1.4-0.5 0.7-0.1 0.7-0.5 1.3 0.1 2.1-2.1 0.7 0 1.4-1 0.7 0.1 0.7 0.6 0.7 0.2 0.6-0.3 0.7 0.1 0.7 0.5 0.7 0.1 0.7-0.6 1.4 0 2.1-1.7 2-0.5 0.7 0.1 1.4-0.6 0.7 0.1 1.4-0.6 0.7-0.6 0.7 0.4 0.6 0.1 0.7-0.3 0.7-0.8 0.7-0.5 0.7 0 1.4-1.6 0.7-0.1 0.7 0.5 2-0.7 0.7 0.5 1.4-1.3 1.4-0.1 0.7 0.5 0.7-0.4 1.4 0.5 2.7-0.3 2.1 0.3 1.4-0.1 2-1.2 0.7-0.7 1.4-0.4 3.5 1.5 0.7-0.6 0.6 0 0.7-0.4 1.4-0.3 0.7-0.5 0.7 0.1 0.7-0.4 0.7 0.4 0.7-0.1 2-1.8 2.1-1.2 2.1 1 1.4-0.2 1.3 0.4 0.7 0 0.7-0.7 1.4-0.3 1.4-0.8 0.7 0.1 0.7 0.5 1.3-0.6 0.7 0 2.1-0.7 0.7 0.2 0.7-0.4 1.4 0.8 2-0.7 1.4-0.3 0.7-0.5 0.7-0.1 0.7 0.2 0.7-0.1 0.7 0.4 2 0.3 1.4-0.1 0.7-0.4 0.7-1 2.1-0.3 2 0.6" stroke="#0a0a0a" stroke-width="1.7" fill="none" stroke-linejoin="round" stroke-linecap="round"/>
<path d="M173.7 399.2l0.6-0.6 2.8-1 0.7 0.3 2-0.1 0.7 0.3 1.4-1 1.3 0.3 0.7-0.1 0.7-0.4 0.7 0.3 0.6-0.1 0.7-0.3 0.7-0.7 1.4-0.2 1.3-1.3 1.4 0 1.4-0.4 1.3 0.9 0.7-0.4 1.4-0.1 2.7 0.3 1.4-0.8 0.7 0.2 1.3-1.2 0.7-0.3 1.4 0 0.7-0.7 0.6-0.1 1.4 0.5 1.4-0.9 1.3-0.4 0.7-0.6 0.7-0.2 0.7 0.3 0.7-0.7 1.3-0.1 0.7 0.1 1.4-0.8 1.3 1 2.8-0.6 0.7-0.3 0.6-0.7 0.7 0 1.4-0.9 2-0.1 0.7-0.8 1.4 0.6 1.4-0.3 1.3 0.2 1.4-0.5 0.7 0 0.6 0.3 1.4-0.5 1.4 0 2-0.8 0.7 0.3 1.4-1.4 2.7-1.6 1.4 0.1 0.6 0.6 0.7-0.5 0.7 0 0.7-0.5 0.7-0.2 0.7 0.3 0.6-0.5 1.4-0.4 2.1 0.2 0.6-0.4 2.1-0.5 1.4-1.2 1.3 0.2 0.7-0.5 0.7 0.2 2-0.5 0.7-0.6 0.7 0.1 0.7-0.2 0.7 0.2 1.3-1.3 0.7 0.1 0.7-0.3 0.7-0.7 4.1-0.4 0.7-0.4 1.3-0.1 3.4-2.4 0.7-0.8 0.7 0.2 0.7-0.3 0.7 0.1 1.3-0.8 0.7 0.8 1.4-0.3 0.7-0.4 1.3 0.4 1.4-1.3 1.4-0.2 0.6 0.6 0.7-0.3 0.7 0.2 1.4-0.3 0.6 0.3 0.7-0.7 0.7 0.2 0.7-0.1 0.7 0.5 2.7-1.2 1.4-1.1 2.7-0.4 0.7 0.2 1.4-0.3 0.6 0.3 2.1-0.5 0.7 0 1.3-0.6 0.7 0.2 0.7-0.6 0.7-0.1 0.7-0.7 0.6-0.3 2.8 0.2 2 0.7 0.7-0.2 0.7 0.5 0.7-0.1 1.3 0 0.7-0.5 1.4-0.5 0.7 0.4 2 0.3 1.4-0.7 0.7-0.6 0.6-0.1 0.7-0.6 0.7-0.3 0.7 0.3 2-1.3 1.4-0.1 0.7-0.2 2 0.1 0.7-0.5 1.4 0.3 0.7-0.4 1.3 0.2 0.7 0.4 1.4-0.5 1.3-0.9 1.4 0 1.4-0.6 0.7 0.6 0.6 0.3 1.4-1 0.7-0.2 0.7 0.4 0.6 0.1" stroke="#0a0a0a" stroke-width="1.7" fill="none" stroke-linejoin="round" stroke-linecap="round"/>
<path d="M175.7 398.7l1.3-0.6 0.7-0.6 0.7 0.2 0.7 0.5 1.3 0.1 0.7-0.2 0.7 0.6 0.6 0 1.4-0.4 0.7-0.6 0.6 0.2 1.4-1.3 0.7 0.3 2-0.3 0.7-0.2 0.6 0.3 2.1-1.2 0.6 0.1 1.4-1.4 1.3 0 1.4-1.1 1.3 0.7 0.7-0.3 0.7 0 0.7 0.6 4-0.4 0.7 0.1 2-1.3 2-0.7 0.7 0.2 0.7-0.2 0.7 0.2 1.3-0.5 1.4 0 0.6 0.2 0.7-0.5 0.7 0.4 0.7-0.4 0.6-0.2 0.7 0.3 0.7-0.1 0.7 0.3 1.3-0.4 1.4-0.9 0.6-0.2 0.7-1.1 2-0.5 0.7-1 0.7-0.7 0.6 0.2 1.4-0.6 0.7 0.2 0.6 0.6 1.4 0.2 1.3-0.2 0.7-0.9 1.4-0.4 2-1.1 0.7 0.5 0.6-0.2 0.7 0.2 2.7-0.2 0.7-0.2 1.3-1 2.7 0.2 0.7-0.5 0.7 0.5 2.7-1.1 0.7 0.3 0.6-0.6 0.7-0.2 0.7 0.4 2-0.3 1.4-0.5 0.6-0.8 0.7 0 1.4-1.1 1.3-0.7 0.7 0.1 1.3-0.3 0.7 0.4 1.4 0.3 0.6-0.1 1.4 0.4 3.4-2.3 1.3-0.5 1.4-0.1 0.6-0.7 0.7-0.2 2 0 0.7 0.2 2-0.6 1.4-1.4 0.7-0.4 0.6 0.3 0.7 0 0.7-0.6 1.3-0.3 2.1-1.7 0.6-0.2 1.4 0.5 2.7 0.4 1.3-0.8 2-0.6 1.4-0.8 0.7 0.7 2.7 0.7 1.3-0.9 0.7 0 0.7-0.7 0.6-0.2 1.4 0.3 1.3-0.5 0.7 0.2 4.1-0.8 0.6-0.2 0.7-1 0.7 0.1 2.7-0.8 0.7 0.4 0.6-0.6 2.1 0.2 2.7-0.4 1.3-1.1 0.7 0 2 1.2 0.7-0.2 0.7 0.4 1.3-0.9 1.4-1.5 0.6 0.3 0.7-0.3 1.4 0.2 0.6 0.4 0.7 0.1 0.7-0.5 0.7 0.3 0.6-0.2 0.7 0.2 1.4-0.6 0.6 0.3 0.7-0.7 0.7 0.3 0.7-0.6 0.6 0.1 1.4-0.2 0.7 0.7 0.6-0.3 0.7 0.1 0.7-0.6 1.3-0.2 2.1-1.5 1.3 0.3 0.7 0.3 0.6-0.6" stroke="#0a0a0a" stroke-width="1.7" fill="none" stroke-linejoin="round" stroke-linecap="round"/>
<path d="M177.7 401l1.4 0.1 1.3-0.8 0.7 0 0.6-0.3 1.4-0.1 2 0.7 1.3-0.3 1.3 0.1 2-1.8 1.4-0.6 0.6-0.8 2-0.2 0.7-0.4 0.7-0.1 0.6 0.4 1.4-0.6 0.6 0.5 0.7 0 1.3-1.1 0.7 0 0.7-0.2 0.6-0.6 1.4 0.1 1.3-0.3 0.7 0.5 0.6 0.1 1.4-1.4 0.6 0.5 0.7-0.9 1.3-0.8 0.7-0.2 0.7 0 0.6-0.7 0.7 0.7 0.7-0.5 0.6 0.2 0.7 0.8 0.7-0.6 0.6-0.3 0.7-0.8 0.7 0.2 0.6-0.6 0.7-1.1 1.3 0.2 0.7 0.5 0.7-0.3 1.3 1.4 1.3 0.3 1.4-0.5 1.3-2 0.7-0.1 0.6-0.6 2 0.1 0.7 0.4 0.7 0 0.6 0.4 1.4-0.9 0.6 0.3 0.7-0.5 1.3-0.2 0.7 0.2 0.7-0.1 0.6-0.8 1.4-0.4 1.3-0.9 0.7 0 0.6 0.3 0.7-0.1 0.7-0.5 0.7 0.2 0.6-0.2 0.7 0.5 1.3 0.2 1.4-0.1 0.6-0.3 0.7-0.6 0.7 0 0.6-0.3 0.7 0 1.3-1.2 1.4-0.7 0.6-0.7 0.7 0 0.7-0.4 1.3 1 0.7-0.8 1.3-0.5 0.7 0.1 0.6-0.3 0.7-0.8 0.7 0.8 0.6 0.3 0.7-0.5 2-0.8 0.7-1 1.3-0.3 1.3 0.8 0.7-0.4 0.7 0.6 0.6-0.4 0.7-0.1 1.3-0.7 0.7 0.3 5.3-1.7 2-1.4 1.4 0 0.6 0.4 0.7 0.7 1.3 0.1 2-0.9 0.7 0 0.7-0.7 2.6-1.6 0.7-0.3 0.7 0 0.6-0.6 0.7 0.6 2.7-0.8 0.6 0.2 0.7-0.2 0.7 0 0.6 0.5 2 0.6 0.7-0.4 1.3-0.1 1.4-1.3 0.6-0.3 1.4 0 0.6-0.6 0.7 0.3 0.7 0.6 0.6-0.1 0.7-0.9 0.7 0.3 1.3-0.4 1.3-0.7 0.7 0.9 0.7-0.6 0.6-0.2 1.4 0 0.6 0.2 1.4-0.8 0.6 0.5 0.7-0.4 0.7 0.1 1.3-0.4 0.7 0.9 0.6-0.3 0.7 0.3 1.3-0.6 0.7 0.2 2.7-1.9 0.6 0.1 2.7-0.8 0.7 0.2 0.6 0 2-0.5 2 0.3 1.4-0.7 0.6 0.3 0.7 0.1 0.7-0.4 1.3 0.6 1.3-0.2 4-2.6 2 0 2 0.6" stroke="#0a0a0a" stroke-width="1.7" fill="none" stroke-linejoin="round" stroke-linecap="round"/>
<path d="M179.8 398.4l0.6-0.2 0.7 0.1 2-0.8 0.6-0.4 0.7 0 2-0.8 0.6-0.1 0.7 0.2 0.6-0.6 1.3 0.6 2 0.3 0.7 0.3 0.6-0.7 0.7-0.2 4-2.2 1.3 0 1.3-0.2 1.3 0.2 2-0.9 0.6-0.1 0.7 0.3 1.3-0.2 0.7-0.4 1.3-0.1 2-1 0.6 0.3 0.7-0.7 0.7-0.3 0.6-0.6 1.3-0.4 1.4 0.6 0.6-0.1 1.3 0.7 1.3-0.6 2-0.3 0.7-0.7 0.6 0.4 0.7 0 1.3-0.6 1.3 0.1 2-0.9 0.7 0.1 1.3-1 1.3-0.5 0.7 0.5 0.6 0 0.7 0.6 2 0.2 0.6-0.5 0.7 0 0.6-0.6 0.7 0.1 1.3-0.2 0.7 0.2 0.6-0.3 0.7 0.2 2-1.3 1.3-0.5 1.3-0.4 0.7 0.4 1.9-0.8 1.4-0.9 0.6-0.7 1.3-0.6 1.4-1.1 0.6 0 0.7-0.4 1.3-0.3 1.3 0.4 0.7-0.4 0.6 0.4 2-1.1 1.3 0.2 0.7-0.7 0.6 0.2 0.7-0.2 0.7 0.4 0.6-0.8 1.3-0.3 0.7 0.1 0.7-0.4 0.6-0.7 0.7-0.2 0.6-0.1 0.7 0.2 0.6-1.1 0.7 0.1 2-0.1 0.6-0.6 1.4-0.2 0.6 0 1.3-1.1 2-0.2 0.7-0.6 1.3 0.9 0.7-0.2 0.6 0.3 0.7-0.9 1.3-0.5 0.6-0.7 1.4-0.7 0.6 0.7 0.7-0.2 0.6-0.7 0.7 0.2 0.7 0.5 1.3-0.7 1.3 0.5 0.7-0.1 0.6-0.3 0.7 0 1.3-0.9 0.7 0.2 1.9-0.8 0.7-0.1 0.6 0.1 1.4-0.4 1.3 0.8 2-0.5 0.6 0.5 0.7-0.1 0.6-0.3 0.7 0.2 0.7-0.4 0.6 0.4 0.7-0.6 1.3-0.3 0.6-0.4 0.7 0 2.6-1.2 0.7 0 1.3-0.8 0.7 0.1 1.3-0.5 1.3 0.5 0.7-0.7 0.6 0.1 2-1.1 0.7 0 1.3 0.4 0.6-0.3 1.4 0.3 1.3-0.2 0.6-0.4 0.7 0.4 1.3 0.3 2-0.1 0.7-0.4 0.6 0.3 0.7-0.7 0.6-0.2 0.7-0.1 1.3 0.4 0.7-0.4 0.6 0.2 0.7-0.1 2-2 1.3 0 0.6-0.3 1.4-0.1 0.6 0.3 1.3-1 1.4-0.2 2.6-0.1 0.6 0.2" stroke="#0a0a0a" stroke-width="1.7" fill="none" stroke-linejoin="round" stroke-linecap="round"/>
<path d="M181.8 398.3l1.3 0.4 0.7-0.1 0.6-0.7 0.7 0.2 2.6-1.4 1.9-0.1 0.7-0.4 1.3 0.2 1.3 0.5 1.9-0.6 0.7 0.1 1.3-1.3 1.9-0.7 0.7-0.7 0.6 0.3 0.7-0.1 1.3 0.3 0.6-0.6 0.7 0 1.9-0.5 1.3 0.2 2-0.4 0.6 0.1 1.3-1.5 1.4-0.5 0.6-0.7 0.7-0.4 1.3 0.4 0.6-0.2 0.7-0.5 0.6 0.4 0.7-0.6 0.6 0 0.7-0.2 0.6 0.1 1.3-0.3 0.7 0.3 0.6-0.5 1.3-0.4 0.7 0.3 0.6 0.1 0.7-0.1 1.3 0.3 2.6-0.8 0.6-0.5 0.7 0.3 1.3-0.4 0.6-0.4 1.3 0.5 2-0.8 0.6 0 0.7-0.4 3.3-0.5 1.9-0.9 0.7 0.2 1.3-1 1.3 0.7 1.3-0.4 0.6 0.5 1.3 0.2 0.7-0.2 0.6-0.5 0.7-0.2 2.6-1.9 1.3-0.1 0.6-0.6 0.7-0.2 0.6 0.2 3.9-2 0.7-0.2 0.6 0.3 0.7-0.1 0.6 0.2 1.3-0.8 0.7 0.3 1.3-0.5 0.6 0.2 0.7 0.7 0.7-0.1 0.6-0.7 0.7-0.3 0.6 0.1 0.7-0.6 0.6-0.3 0.7-0.1 0.6 0.2 0.7 0 0.6-0.5 0.7 0.4 2.6-1.4 0.6 0.2 0.7-0.8 0.6-0.4 0.7-0.1 1.3 0.4 0.6-0.7 0.7-0.2 0.6 0 2-1.1 1.9 0.6 0.7-0.1 0.6-0.6 1.3 0.3 1.3-0.4 0.7 0.6 0.6 0 3.3-2.1 2 0.2 0.6 0.3 1.3-0.2 2-1.5 0.6-0.1 1.3-0.9 0.7 0.2 0.6-0.3 1.3 0.4 1.3 0.6 2.6-0.6 0.7-0.3 0.6-0.1 2 0.7 2.6-0.6 0.6 0.2 0.7-0.9 0.6 0.2 2-1.1 0.6-0.1 0.7 0 0.6-0.8 0.7 0.5 0.6 0.1 2-1.2 0.7 0.4 0.6-0.4 0.7 0.1 0.6-0.3 0.7 0.1 0.6 0.9 0.7-0.2 0.6 0 0.7-0.8 0.6 0.5 0.7-0.3 1.3-1.3 0.6-0.1 0.7 0.1 0.6-0.3 1.3 0 1.3 0.3 0.7-0.1 0.6 0.3 1.3-0.7 1.3-0.2 0.7 0.2 0.6-0.5 1.3 0 2-0.7 0.6 0.4 1.3-0.2 0.7 0.2 0.6-0.5 0.7-0.2 0.6 0.2" stroke="#0a0a0a" stroke-width="1.7" fill="none" stroke-linejoin="round" stroke-linecap="round"/>
<path d="M183.8 399.1l0.7-0.7 1.9-0.1 0.6-0.5 0.7-0.1 1.3-0.5 1.3-0.3 0.6 0.4 1.9-0.6 0.7 0.3 1.9-1.4 1.3-0.6 0.6-0.6 1.3-0.4 0.7-0.5 0.6 0.4 1.3-0.1 1.3 0.3 0.6 0.8 0.7-0.6 0.6 0.4 0.7-0.4 0.6 0.2 1.3-1.4 0.6-0.1 0.7-0.1 0.6 0.1 0.7-0.2 0.6 0.4 1.9-0.2 2-0.7 0.6-0.5 1.3-0.7 1.3 0.2 1.9 0.7 1.3-0.5 0.6-0.5 0.7-0.8 0.6 0.2 0.7-0.2 0.6 0 0.7-0.4 0.6 0.1 0.6 0.5 1.3 0.1 1.3-0.9 0.7-0.1 1.3-1.2 0.6-0.2 0.6 0.1 0.7 0.5 1.3-0.5 0.6 0.3 1.3-0.7 0.6-0.1 0.7-0.3 0.6 0.1 0.7-0.6 1.3-0.3 0.6 0.2 1.3-1 1.3-0.6 0.6 0.4 0.7-0.6 1.2 0.9 0.7-0.1 0.6 0.3 0.7-0.5 0.6 0.3 1.3-0.6 0.6 0.2 0.7-0.1 0.6-0.7 0.7-0.3 1.3 0.1 1.3-1.4 0.6 0.2 1.3-0.6 0.6-0.6 0.7 0.3 0.6 0 1.9-1.2 0.7-0.1 0.6-0.7 0.7 0.4 1.3-0.1 1.9 0.4 0.6-0.2 0.7 0.5 0.6 0 2.6-2.3 1.3-0.8 0.6 0.1 0.7 0.6 0.6 0.2 1.9 0 1.3-0.6 0.7-0.6 1.3-0.3 0.6-0.4 1.3-0.1 0.6 0.2 2-1.1 0.6 0.2 1.9-0.4 1.3 0.4 0.7-0.7 0.6-0.3 0.6 0.1 1.3-0.9 1.3-0.3 0.7 0.1 0.6-0.6 1.3 0.5 0.6-0.2 0.7 0.3 0.6-0.3 0.7 0.1 1.3-0.4 0.6 0.7 0.6-0.3 0.7 0.3 0.6-0.1 1.3-0.7 0.7-0.8 0.6-0.1 0.6-0.5 2 0.5 0.6-0.5 3.2-1.2 0.7 0.1 0.6-0.3 2 0.1 0.6-0.5 1.3 0.2 1.9-1.3 0.7 0.4 0.6-0.8 0.6-0.2 1.3 0.3 2 0.8 0.6-0.1 1.3 0.2 1.3-0.4 0.6 0.3 1.3-0.6 1.3-1.7 1.3-0.3 0.6 0.9 0.7 0.3 0.6 0.7 0.7-0.2 1.2-0.8 0.7-1 1.3-0.8 1.9 0.8 1.3-0.6 1.3 0 1.3-0.7 1.2 0.5 0.7 0 1.9-0.8 1.3-0.1 0.6 0.1 0.7-0.4 0.6 0.2 1.3-0.2 0.7 0.2 0.6-0.4 0.6 0.3" stroke="#0a0a0a" stroke-width="1.7" fill="none" stroke-linejoin="round" stroke-linecap="round"/>
<path d="M185.9 399l0.6-0.2 1.3-1 1.9-0.9 0.6 0 0.6-0.4 1.3-0.2 0.7 0.1 1.2-0.6 1.3 0.1 0.6-0.4 0.7-1 1.2-0.2 0.7-0.3 0.6 0.2 0.6 0 0.7 0.6 0.6-0.6 1.3 0.1 0.6-0.7 1.3-0.3 1.3 0.3 1.2-0.6 1.3-1 0.6-0.2 0.7-0.8 1.2-0.7 3.2 0.2 3.2 1.4 1.9-0.1 0.6-0.8 2.6-2.1 1.3-0.4 1.9-0.2 0.6 0.5 0.6-0.3 1.3 0.4 0.6 0 0.7 0.5 0.6-0.1 1.9-1.1 0.7 0.3 1.2-0.5 1.3-0.1 0.6-0.2 0.7-0.6 1.9-0.9 3.8-1 0.6-0.5 1.3-0.2 1.9-0.8 0.6 0.1 0.7 0.6 0.6-0.4 2.5 0.4 0.7-1.1 1.3 0.3 0.6-0.6 0.6-0.1 0.7-0.8 1.2 1 0.7-0.5 1.2-0.1 0.7 0.8 0.6-0.5 0.6-1.1 0.7 0.3 0.6-0.5 0.6-0.2 0.7-1.2 0.6-0.2 0.7 0.3 0.6-0.9 1.3-0.1 1.9 0.4 0.6-0.4 2.5-0.1 0.7-0.3 0.6 0.4 0.7-0.1 1.9-1.1 1.2-1.1 1.3-0.3 0.6 0.3 0.7-0.5 0.6-0.2 2.5-0.6 2-0.1 0.6-0.7 3.2-1.2 2.5 0.2 1.3-1.1 0.6 0 0.7-0.7 1.2-0.5 1.3 0.2 0.6-0.7 1.3 0.3 0.6-0.3 1.3 0.2 0.6 1.2 0.7-0.3 0.6-0.6 0.6 0 0.7-0.4 1.3-1.4 0.6-0.1 1.3 0.4 0.6-0.1 1.3 0.4 1.9-0.2 1.9 0.1 0.6 0.2 0.7-0.6 1.2 0 1.3-0.9 0.6-0.1 0.7 0.4 1.2-0.7 1.3 0.5 1.3-1.1 0.6-0.1 0.6 0.2 1.3-0.7 0.7-0.1 0.6 0.4 1.3-0.2 0.6 0.3 1.3-0.1 1.2-0.4 0.7 0.1 0.6-0.3 1.3-0.3 0.6-0.5 0.7 0.3 1.9-0.3 0.6-0.6 1.3-0.1 0.6-0.7 1.3 0.5 1.2-0.2 0.7-0.5 0.6 0 1.3-1.3 1.9 0.9 0.6-0.3 1.3-0.2 0.6 0.1 1.3-0.6 0.6-0.2 0.7 0.1 1.2-0.2 1.3-0.7 0.6 0.1" stroke="#0a0a0a" stroke-width="1.7" fill="none" stroke-linejoin="round" stroke-linecap="round"/>
<path d="M187.9 395.6l0.6-0.1 0.7 0.7 0.6-0.3 1.2 0.4 1.3 0 1.2-1.4 1.3-1.1 0.6 0.2 0.7 0 0.6 0.3 0.6 0.7 1.3 0.5 0.6-0.3 1.9 0 1.9-1.2 1.8-1.6 0.7 0.3 0.6-0.7 0.6-0.1 1.3 0.2 1.2-0.1 0.7 0.5 0.6 0 3.1-1.5 1.3 0.2 0.6-0.3 0.6 0.3 0.7-0.8 0.6 0 0.6-0.7 1.9-0.4 0.6 0.7 0.7-0.4 0.6 0.2 0.6-0.1 1.3-0.5 0.6-0.5 1.9-0.3 1.2-0.7 1.3 0.2 0.6 0.4 0.6-0.2 1.9 0.2 0.7-0.2 0.6-0.9 0.6-0.4 0.6 0.2 1.3-1.1 0.6-0.2 0.7 0.4 2.5 0.5 1.2-0.6 1.3-1 0.6 0 1.9 0.6 1.9 0 3.7-1.9 1.3-0.3 0.6-0.6 1.3-0.5 1.2-1.3 0.7 0 1.2-0.5 1.9 0.4 0.6-0.4 0.6 0.3 0.7-0.4 1.2-0.1 0.7-0.2 1.2-0.8 0.6 0.4 1.9-1.6 0.7 0.3 0.6 0 0.6-0.3 0.6 0.4 0.7 0.1 0.6 0 0.6-0.3 0.6 0 1.9-1.8 0.7 0.3 0.6-0.3 0.6-0.5 1.3 0.4 0.6-0.2 0.6-0.7 0.6 0.1 0.7 0.7 2.5 0 1.9-1.6 1.2-0.3 0.7 0.1 1.2-1.3 2.5 0 0.6 0.6 0.7 0.3 1.2-0.8 1.9-0.3 0.6-0.3 0.7 0.2 0.6-0.5 0.6-0.2 1.3-1.1 0.6-0.1 1.3 0.8 0.6-0.5 1.9-0.6 1.2-0.8 0.7 0.3 1.2-0.2 0.6 0.2 0.7-0.2 1.2-0.6 0.6 0.3 0.7-0.4 3.1-1.3 1.9 0.4 0.6 0.8 0.6-0.2 0.7 0.4 1.9-0.3 0.6-0.6 0.6 0.1 0.6-0.7 1.9-1.3 1.9-0.2 0.6 0.5 1.3 0.1 0.6-0.3 1.9 0 0.6-0.3 1.3 0.4 0.6-0.4 0.6 0.4 1.9-0.3 0.6-0.8 0.7 0.9 0.6-1.1 0.6-0.6 0.7-0.2 0.6-0.4 0.6 0.4 0.6-0.5 0.7 0 0.6 0.6 0.6 0.2 0.7-0.4 0.6 0.2 0.6-0.2 1.3 0 0.6-0.4 1.2 0 0.7-0.2 0.6 0.2 0.6-0.3 1.3 0.3 0.6-0.7 0.6 0.1 0.7-0.5 1.8-0.7" stroke="#0a0a0a" stroke-width="1.7" fill="none" stroke-linejoin="round" stroke-linecap="round"/>
<path d="M189.9 396.2l0.7-0.4 0.6-0.1 3.1 0.1 1.2-0.7 0.6 0.3 1.9-0.7 1.2 0.6 0.6-0.4 0.7 0.4 1.2-0.1 1.2-1 1.3 0 0.6-0.3 1.2 0 1.3-0.4 0.6-1 0.6-0.3 0.6-0.6 1.3-0.1 0.6-0.4 1.2 0.4 1.9-0.9 0.6 0 0.6 0.4 1.3-0.5 0.6-0.1 0.6 0.4 1.3-0.5 0.6 0.1 0.6 0.8 0.6 0.3 0.6-0.6 1.3-0.2 1.2-1.4 3.7 0.2 0.7-0.6 0.6 0.2 0.6-0.2 0.6-0.9 0.6 0 0.7 0.2 0.6-0.2 1.2-1 0.6 0.6 1.3-0.9 1.8 0.4 0.7-0.5 0.6 0 0.6-0.3 0.6-0.6 1.3-0.6 1.2 0.7 0.6-0.3 0.6 0.5 1.3 0 1.8-0.9 0.7 0.1 1.2-1.1 1.2-0.5 0.6 0 0.7-1.1 1.2 0.7 1.2-0.4 1.3 0 1.2-0.5 3.1 0 1.3-0.9 0.6 0 0.6-0.5 0.6 0 0.6-0.6 0.7 0.2 1.2-0.8 0.6 0.2 1.3-0.9 0.6 0.3 1.2-0.4 1.3 0.2 0.6-0.2 1.2-1.3 0.6-0.1 1.3-1.1 0.6 0.2 0.6-0.5 0.6 0.2 0.7 0 1.8-0.7 0.6 0.3 0.7 0.1 1.2-0.1 1.2 0.5 2.5-1.3 0.6-0.7 0.7-0.4 0.6-0.9 0.6-0.3 1.2-0.1 0.7 1.1 0.6-0.2 0.6 0.6 0.6-0.3 0.6 0.3 1.3-1.4 0.6-0.3 1.2 0.8 0.7-0.4 0.6 0.2 0.6-0.2 0.6 0.3 0.6-0.9 3.1-1.5 1.3 0.8 0.6-0.3 1.8 0.1 1.3-0.9 1.2 0.6 0.6-0.6 0.7-0.3 1.2 0.3 0.6-0.1 0.6-0.4 1.3 0.2 1.2-0.6 1.9-0.2 0.6-0.7 1.2-0.1 0.7-0.6 1.2 0.6 0.6 0.7 1.3-0.5 0.6 0.1 1.8-1.4 1.3 0 1.2-0.4 0.6 0.2 1.3-0.2 1.2 0.5 0.6-0.1 1.9-0.7 1.2-1.3 0.7-0.2 1.2 0.5 0.6-0.1 1.3 0.4 1.2-0.2 0.6-0.6 0.6 0 0.7-0.3 1.2 0.4 0.6-0.3 0.6 0.3 0.7-0.5 1.8-0.8 0.6 0.3 0.7 0 0.6 0.4 1.2-0.1 1.3-1.1 1.2-0.7 1.8-0.1" stroke="#0a0a0a" stroke-width="1.7" fill="none" stroke-linejoin="round" stroke-linecap="round"/>
<path d="M192 395.6l0.6-0.3 0.6 0.4 0.6-0.2 1.2-1.6 0.6-0.3 1.9-0.6 0.6 0.2 0.6 0.4 0.6-0.8 1.2-0.1 1.9-0.9 0.6 0.2 1.2-0.6 3.1 0.9 0.6-0.1 0.6 0.3 1.8-1.1 0.6 0.1 1.3-0.8 1.2 0.5 0.6-0.1 0.6-0.6 2.5-0.7 1.2 0.2 0.6 0.6 0.6-0.1 1.8-1.2 1.9 0 1.2-0.6 0.6 0.1 1.8-1.6 1.3 0.3 0.6-0.4 0.6 0.3 0.6 0 0.6 0.6 1.2-0.3 0.7 0 0.6-0.2 1.2-1.1 0.6 0 1.8-1.3 0.6 0.5 0.7-0.1 0.6-0.5 0.6 0.1 0.6-0.3 0.6 0.2 0.6-0.7 1.2-0.6 1.3-0.2 0.6-0.4 0.6 0.3 0.6-0.1 1.2 0.3 0.6-0.2 1.3-1.3 2.4-0.9 0.6 0.1 1.2-0.5 0.7 0.3 0.6-0.1 0.6 0.4 1.8-0.2 1.2-1.1 0.7-0.2 1.2 0.1 1.2-0.2 0.6 0.1 0.6-0.8 0.6 0.1 1.9-0.6 0.6 0 0.6 0.4 0.6-0.8 1.8-0.3 3.7-1.1 1.2 0.1 0.7 0.4 0.6-0.3 1.2 0.1 1.2-0.9 0.6 0 2.5-1.7 0.6-0.1 1.2-0.8 0.6 0.1 1.2-0.3 0.7 0 0.6-0.3 0.6 0.3 0.6-1 1.2 0 0.6-0.5 0.6-0.2 1.3 0.5 1.8-0.9 1.2-0.9 0.6-0.1 3.7 0.6 1.2-1.4 0.6 0.1 0.7-0.3 0.6 0 0.6-0.6 1.2 0.5 1.2-0.2 1.9 0.3 3-1.2 3.7-0.3 1.8 0.3 0.6-0.3 1.3 0.7 1.2-0.6 0.6-0.1 0.6 0.1 0.6-0.4 0.6 0.1 0.6-0.4 0.7 0.1 1.8-0.8 0.6-0.5 1.2-0.1 0.6-0.6 2.5-0.1 0.6-0.4 0.6 0.6 1.2 0.2 0.6-0.1 0.7-0.8 0.6 0.8 1.2-0.9 1.2 0.1 0.6 0.3 0.6-1.1 1.3 0.7 1.2-1.2 0.6 0.1 0.6 0.8 1.2-1.1 0.6-0.1 0.7 0.2 0.6 0 0.6-0.5 0.6-0.1 0.6-0.5 0.6 0.6 0.6 0.2 0.6-0.6 0.7-0.2 0.6 0.6 0.6 0.2 1.2-0.8 0.6 0.4 1.8-0.6" stroke="#0a0a0a" stroke-width="1.7" fill="none" stroke-linejoin="round" stroke-linecap="round"/>
<path d="M194 394.5l1.2-0.7 0.6 0 1.2-0.9 1.2 0.1 1.2-0.3 1.9 1.2 1.8-0.6 0.6 0.1 1.2-1.1 0.6-0.2 0.6 0 0.6 0.2 0.6-0.3 0.6 0.6 0.6 0 0.6 0.4 1.2-0.5 1.2-1.2 0.6-0.2 0.6-0.6 0.6 0.1 0.6-0.3 1.2 0.2 2.5-0.6 1.2-0.7 0.6-0.1 0.6 0.4 0.6-0.1 0.6 0.2 0.6 0.8 1.8-1.1 1.2-0.1 0.6-0.8 1.2 0.4 0.6-0.7 1.2-0.7 0.6 0.1 1.2-0.4 1.3 0.3 0.6-0.1 1.2-1.1 1.2 0.4 0.6 0 0.6-0.3 1.2 0 1.2-0.4 0.6-0.5 1.8 0.2 1.2-0.9 1.2 0.4 1.2-0.4 1.2 0.1 0.6-0.2 0.7-0.9 1.2-0.3 1.2-0.1 0.6-0.3 1.2 0.4 0.6-0.1 0.6-0.6 2.4-1.5 1.2 0.3 0.6-0.4 0.6 0.1 2.4-1.4 0.6 0.2 2.5-0.6 1.2-0.1 0.6 0.2 0.6-0.3 0.6 0.5 0.6-0.1 0.6-0.8 1.2-0.3 0.6 0.1 0.6-1 0.6-0.1 0.6 0.2 1.2-0.6 0.6-0.9 1.8 0.1 1.2-0.6 0.6 0.4 1.3-0.2 0.6-0.4 1.2-0.1 0.6 0.3 0.6 0 0.6-0.4 1.2 0.1 0.6-0.3 0.6-0.6 1.8-0.3 0.6-0.7 0.6 0.4 1.2-0.1 0.6-0.3 0.6-0.5 0.6 0.2 0.6-0.8 0.6-0.1 0.6-1 0.7-0.4 0.6-0.2 1.2 0.2 0.6-0.6 0.6 0.4 1.2 0.2 0.6-0.1 0.6-0.6 0.6 0.1 0.6-0.2 1.2-0.2 3.6-1.4 0.6 0.3 0.6 0 1.9 0.4 0.6 0.3 0.6-0.6 0.6 0 0.6-0.5 1.2 0.1 0.6-0.8 0.6 0 0.6-0.4 0.6 0.2 0.6 0 0.6-0.6 0.6-0.1 1.8 0 0.6-0.6 0.6 0.2 0.6 0.7 0.6-0.6 0.6 0.1 0.6-0.7 0.6-0.1 1.3-0.8 1.2 0.3 1.8 1.7 1.2-0.4 1.2-1.3 0.6 0 0.6-0.8 1.2 0.2 0.6 1 1.2-0.6 0.6 0.3 1.2-0.8 0.6-0.7 1.2 0.4 1.9-0.4 1.2 0.4 0.6-0.5 0.6 0 0.6-0.4 0.6 0.1 1.2-1.3 0.6 0 0.6-0.5 1.2 0.5 1.2 0 1.8-1.1 1.2-0.5 1.2 0.5 0.6 0.7 0.6-0.3 0.6 0.2" stroke="#0a0a0a" stroke-width="1.7" fill="none" stroke-linejoin="round" stroke-linecap="round"/>
<path d="M196 395.5l0.6-0.8 0.6 0.4 0.6-0.4 1.2 0.2 0.6-0.3 1.2 0 1.2-0.2 0.6-0.5 1.2 0.1 0.6-0.9 0.6 0.4 1.2-1.1 1.8 0.8 0.6-0.4 1.1-0.2 1.2-0.8 0.6 0.7 0.6-0.3 1.2 0.2 1.2-0.3 0.6-1.1 1.2-0.9 1.2 0.2 0.6-0.3 1.2 0.8 0.6 0 1.2-0.8 0.6-0.1 1.2-1 0.6 0.6 1.2 0.1 0.5-0.5 0.6 0.2 0.6 0 1.2-1 1.8 0.1 1.2-0.4 0.6 0.4 1.8-0.9 0.6-0.1 1.2-1.3 0.6 0.2 0.6-0.3 0.6 0.3 0.6-0.5 0.6 0.1 1.2-0.5 0.6 0.3 0.6-0.8 1.7 0.4 0.6-0.4 0.6-0.7 0.6 0.6 0.6-0.4 1.2 0 1.8-1.1 0.6 0.6 1.2-0.7 1.2 0.7 0.6-0.1 1.8-0.6 1.8-0.9 0.6-0.6 1.2 0.2 1.7-1 0.6 0.1 0.6-0.2 1.2 0.7 3-2 0.6 0 1.8 0.8 0.6-0.1 1.8 0.3 0.6 0.5 0.6 0 1.2-0.5 1.7-2 1.8-0.8 1.2-0.1 0.6 0.5 0.6-0.1 0.6 0.2 1.8-0.4 1.2-1.4 1.2-0.8 1.8-0.3 1.2 0.3 1.2-0.5 1.2-0.2 0.6-0.7 0.5-0.3 1.8-0.5 1.2 0.5 0.6-0.6 0.6 0.4 0.6-0.6 0.6 0 1.2-0.6 0.6 0.2 0.6-0.5 0.6 0.7 0.6-0.5 0.6 0.1 0.6-0.5 0.6 0.1 1.2-0.3 1.2 0 0.6 0.3 0.6-0.1 1.7-0.5 0.6-0.7 1.2 0.7 2.4-0.2 0.6-0.1 0.6-0.8 0.6 0.2 1.2-1.2 0.6 0.2 0.6-0.3 0.6 0.3 0.6-0.3 0.6 0 0.6 0.6 0.6-0.4 0.6 0.1 0.6-0.1 0.6 0.4 1.2-0.8 0.6 0.1 0.5-0.2 0.6-0.6 0.6 0 0.6 0.4 0.6-0.6 0.6 0 0.6-0.2 0.6 0 0.6-0.4 0.6-0.1 0.6 0.2 1.2-0.4 0.6 0.1 0.6-0.3 1.8-0.5 0.6 0 0.6 0.4 1.2-0.4 1.2 1 0.6 0.1 0.6-0.9 1.1 0.5 0.6-0.4 0.6-0.8 0.6-0.4 0.6 0.2 0.6-0.2 1.2-0.9 1.2 0.4 0.6 0.1 0.6-0.4 0.6 0.5 0.6-0.1 0.6-0.2 1.2-0.9 1.2-0.1 0.6 0.2 0.6-0.6 1.2 0.4 1.2-0.4 0.5 0" stroke="#0a0a0a" stroke-width="1.7" fill="none" stroke-linejoin="round" stroke-linecap="round"/>
<path d="M198.1 394.3l0.6 0 1.1 0.4 3-1.2 1.2 0.3 0.5 0.4 0.6-0.3 0.6 0.1 0.6-0.2 0.6-0.5 0.6-0.1 0.6-0.5 0.6 0.2 1.7 0.1 1.8-0.4 0.6 0.2 2.3-1.1 1.2-1.4 0.6-0.2 2.3 0.8 1.2-0.2 1.8-1.1 1.2-0.3 1.1 0.1 1.2-0.2 1.2 0.1 0.6-0.8 0.6-0.2 1.7 0.1 1.2-0.2 0.6-0.6 2.4-1.2 1.1 0.6 2.4-0.5 0.6 0.4 1.2-1.2 0.5-0.2 1.2 0.3 0.6-0.7 1.8 1 1.1-1 0.6 0.4 0.6-0.4 2.4 0.8 0.6-0.9 0.6 0.3 0.5-0.5 0.6-0.9 1.2-0.8 0.6 0.2 1.2-0.3 0.6 0.3 0.6-0.2 2.3-1.9 1.2 0.5 0.6 0.6 0.6 0.1 0.5-0.2 0.6 0.2 1.2-1.7 2.4-1.4 0.6 0.5 0.5 0.1 3-1.5 0.6-0.1 0.6 0.1 0.5-0.2 0.6 0.4 0.6-0.1 1.8-1.2 0.6 0.4 0.6-0.8 0.6 0.1 0.5-0.4 0.6 0 0.6-0.3 0.6-0.9 0.6 0.2 0.6-0.5 0.6 0.5 0.6-0.2 1.1 0.4 1.2 0.1 0.6-0.8 0.6 0.5 1.2-0.2 0.6-0.4 1.1 0.3 1.8-1.2 0.6 0.2 0.6-0.2 0.6 0.3 1.1-0.4 0.6 0.3 0.6-0.5 0.6 0.4 0.6 0 1.2 0.5 0.6-0.3 0.5 0.2 1.2-1.3 0.6-0.3 1.2 0.2 0.6-0.6 0.6 0.5 0.6 0.1 1.1-1.1 0.6-0.2 0.6 0.4 0.6-0.9 0.6-0.4 0.6 0.4 2.3-1.1 1.2 0.3 0.6 0 0.6-0.4 1.2 0.1 0.5-0.7 1.2-0.4 0.6 0.4 2.4 0 1.1 0.4 0.6-0.2 1.2 0.2 1.2-0.2 0.6-0.7 0.6 0 1.7-0.7 0.6 0.2 1.8-0.4 0.6 0.5 1.1 0.2 0.6 0.4 0.6-0.3 0.6 0 1.8-1.8 0.6-0.3 1.1 0.1 0.6 0.4 1.8-0.3 1.2 0.2 1.1-1 1.2 0.4 0.6 0.6 0.6-0.1 0.6 0.2 0.6 0.6 3.5-2.6 0.6-0.1 0.6 0.5 0.6-0.3 1.1 0.7 0.6-0.5 0.6 0.4 1.2-0.3 1.2-0.8 1.1-0.3" stroke="#0a0a0a" stroke-width="1.7" fill="none" stroke-linejoin="round" stroke-linecap="round"/>
<path d="M166.2 408.7l2.1-1.1 0.7-0.1 0.8 0.3 1.4-0.7 0.7 0 0.7-0.4 1.4-1.2 0.7 0.1 0.8-0.2 1.4-0.6 1.4 0.1 0.7-0.4 0.7 0.1 1.4-0.2 2.9-1.1 0.7 0 0.7-0.4 0.7-0.1 0.7-0.5 0.7 0 0.8-0.5 1.4 0 1.4-0.4 0.7-0.5 0.7-0.1 0.7-0.7 1.5-0.7 4.2-0.9 2.2-0.7 0.7 0.1 2.1-0.5 0.7 0.1 0.7-0.2 0.7-0.6 2.2-0.5 1.4-0.9 1.4-0.1 0.7-0.3 2.2 0.3 0.7-0.1 2.8-1 3.6 0.3 0.7-0.2 2.1-1.1 0.7 0 1.5 0.3 0.7-0.5 0.7 0.1 1.4-1.2 1.4-0.7 0.7 0.2 0.8-0.4 1.4 0.1 2.8-1.3 1.4-0.2 0.8 0.2 2.1 0 0.7-0.6 0.7 0.2 1.4-0.3 0.7 0.3 0.8-0.2 0.7 0.6 2.1-0.6 2.1-1.8 0.7-0.4 1.5-0.4 1.4 0.4 2.8-0.7 0.7-0.4 0.8 0 1.4 0.4 0.7-0.1 0.7 0.1 0.7-0.2 0.7-0.5 0.7 0 0.8-0.4 0.7 0.2 0.7-0.3 2.8-0.1 0.7-0.5 1.5-0.5 0.7 0.2 0.7-0.7 2.8-0.4 0.7-0.3 5-0.2 0.7-0.4 0.7-0.8 1.5-0.7 2.1-0.8 2.1-0.2 0.7-0.9 0.7-0.6 1.5-0.1 0.7-0.6 2.8-0.8 0.7-0.5 0.8 0.2 0.7-0.5 1.4-0.4 2.1-1.3 1.4-0.3 0.8-0.3 4.2-0.3 2.2-0.7 1.4-0.8 0.7 0 0.7-0.9 0.7-0.5 2.1-1 1.5 0.3 1.4 0 0.7-0.5 2.1-0.3 1.5 0.2 1.4-0.3 4.3-2.3 0.7 0.3 3.5 0.2 0.7-0.6 0.7-0.3 0.8 0.1 2.8-1.5 0.7 0.1 0.7-0.3 1.4 0.3 0.8-0.2 0.7 0.4 0.7 0 0.7-0.5 1.4 0.2 0.7-0.2 0.7-0.6 0.7-0.1 1.5-0.7 0.7 0.1 0.7 0.7 0.7 0.2 1.4-0.1 1.4-0.4" stroke="#0a0a0a" stroke-width="1.7" fill="none" stroke-linejoin="round" stroke-linecap="round"/>
<path d="M161.8 413l0.7 0.1 1.5-0.8 0.7-0.9 0.7-0.1 1.5-0.7 1.5-0.3 0.7 0.4 1.4-0.2 3.7-1.7 2.9-1.1 0.7-0.9 1.5-0.5 0.7 0.2 1.5-0.1 0.7 0.1 0.7-0.3 0.7 0.1 2.2-1.7 0.8-0.1 0.7 0.2 1.4-1 0.8-0.1 0.7 0.1 1.5-1.2 2.9 0.3 0.7 0.3 0.7-0.3 0.8 0.1 0.7-0.9 2.2-0.5 0.7 0.1 0.7-0.4 0.8 0 0.7-0.3 0.7-0.6 0.7-0.2 0.8-0.4 1.4 0.4 0.8-0.1 0.7 0.3 1.4-0.4 0.8 0.2 0.7-0.3 0.7 0.1 0.8-0.5 1.4-0.1 2.2-1.4 1.5 0.2 1.4-1 0.7-0.1 0.8-0.4 0.7-0.1 0.7-0.6 1.5-0.2 2.2 0 0.7-0.4 1.5-0.3 0.7-0.6 0.7 0.2 1.5-0.6 1.4 0.2 0.8 0 0.7-0.6 2.2 0 0.7-0.2 1.4 0.2 2.2-0.3 2.9-1.2 2.2-0.1 0.8-0.5 1.4-0.2 0.7-0.6 1.5-0.5 0.7 0.2 0.8-0.1 0.7-0.4 0.7 0.1 0.7-0.4 0.8 0.3 1.4-0.4 0.8-0.8 0.7-0.3 1.4-0.2 0.8-0.4 0.7 0.4 0.7 0.8 1.5 0.1 0.7-0.6 2.2-0.7 0.7 0.2 2.2-0.1 2.2-0.9 0.7-0.5 0.8 0.2 0.7 0 1.4-0.8 1.5-0.2 1.5-1.2 1.4 0.6 1.5-0.8 1.4 0.3 0.8-0.5 0.7-0.7 0.7-0.2 0.7 0 2.2-1 0.8 0.5 2.1-0.3 1.5 0.4 0.7-0.3 0.8 0 1.4-1.2 2.2-1.3 0.7-0.1 0.7 0.2 0.8-0.4 1.4-1.4 0.8-0.3 2.1-2 2.2-0.7 1.5-1.2 2.2-1 1.4-1.1 0.8 0 2.1-0.5 1.5-0.8 1.5-0.4 0.7-0.8 0.7-0.3 1.5-0.1 1.4-1 2.9-0.6 1.5 0.4 1.5-0.1 2.9-1.5 0.7 0 0.7-0.7 0.8 0.1 1.4-0.1 1.5-0.7 0.7 0.3 2.2-0.3 0.7 0.2 0.7-0.3 0.8 0 1.4-0.6 1.5 0 0.7 0.5 0.7-0.4 0.8-0.1 0.7 0.3 0.7-0.4 0.8 0 0.7-0.5 1.4-0.2 0.8-0.4 1.4-0.1 0.7 0.5" stroke="#0a0a0a" stroke-width="1.7" fill="none" stroke-linejoin="round" stroke-linecap="round"/>
<path d="M156 434.3l1.5-0.6 0.8-1 1.5-0.6 1.5-1.4 1.5-0.2 0.7-0.3 0.8 0 1.5-0.5 0.7-0.6 1.5-0.2 2.3-1 0.7 0.1 0.8-0.2 0.7-1.1 1.5-0.5 1.6-0.2 0.7-0.7 0.8 0.6 2.2-0.6 0.8-0.6 0.7 0.1 1.5-1.4 1.5-0.3 0.8 0.2 0.7 0 0.8-0.4 0.7 0.1 1.5-0.3 0.8-0.5 3 0.1 0.7-0.4 0.8 0.2 3-1.8 0.7-0.1 1.5-1 0.8 0 0.7-0.4 0.8 0.1 1.5-0.1 0.7 0.7 1.5 0.7 0.8-0.3 0.7 0.1 0.8-0.4 0.7-1.1 3-1.3 0.8 0.2 1.5-0.3 2.2 0.5 0.8-0.5 0.7 0 1.5-0.7 0.8 0 1.5-0.3 0.7 0.1 0.8-0.4 0.7 0 3-0.9 0.8 0.5 1.5-0.7 1.5 0 2.2-0.8 0.8 0.6 0.7 0.2 2.3-0.1 0.8-0.2 0.7-0.9 1.5-0.6 0.8-0.5 1.5-0.1 1.5-0.6 1.5 0.4 2.2-0.3 3.8-1.5 2.2-0.3 3 0.3 0.8-0.4 2.2-0.6 1.5-0.7 1.5 0 2.3-0.7 1.5 0.2 0.7-0.5 2.3-0.1 1.5-0.7 0.7 0.5 2.3-0.4 0.7-0.4 0.8 0 0.7-0.8 0.8-0.1 0.7 0.2 0.8 0.4 1.5-0.5 0.7 0.3 0.8-0.1 0.7-0.3 0.8-0.8 0.7 0.1 0.8-0.5 0.7-0.2 0.8 0.1 0.7-0.5 0.8 0.1 2.2-0.5 0.8-1 1.5-0.2 0.7-0.5 0.8 0.1 2.3-1.6 3.7-5.8 3-7.3 6-11.2 1.5-1.6 0.8-1 2.2-1.7 0.8-0.9 0.7-0.4 4.5-1.4 1.5-0.7 2.3 0.2 2.2-0.4 2.3-1.2 0.7 0.1 1.5-0.2 0.8-0.7 1.5 0.1 0.7-0.5 2.3-0.6 2.2-0.9 0.8 0 0.7-0.4 0.8 0 0.7-0.2 0.8 0.2 0.7 0 0.8-0.4 0.7 0.4 0.8-0.4 2.2-0.1 1.5-0.5 0.8 0.3 1.5-0.5 2.2 0.9" stroke="#0a0a0a" stroke-width="1.7" fill="none" stroke-linejoin="round" stroke-linecap="round"/>
<path d="M151.6 468.6l0.8 0 1.5-0.3 2.3-1.2 1.6-0.1 0.7-0.6 2.3-0.5 1.6-1.5 1.5-0.4 0.8-0.5 1.5-0.4 2.3-0.9 1.6-0.1 1.5 0.4 0.8-0.5 3-0.8 0.8-0.6 0.8 0.4 1.5-0.5 0.8-0.1 0.7-0.6 0.8-0.1 1.5-0.8 0.8 0.1 0.8-0.6 1.5 0 0.8-0.6 0.7-0.3 0.8-0.6 0.8-0.2 2.3-0.1 0.7 0.2 1.6-0.2 0.7-0.5 1.6 0 0.8-0.5 0.7 0.2 0.8-0.2 0.8 0.4 0.7-0.6 0.8 0.1 0.8 0.3 1.5 0 0.8-0.7 0.7 0.3 1.6-0.8 0.7-0.7 1.6-0.9 2.3-0.4 0.7 0.1 0.8-0.1 0.8 0.5 0.7-0.1 3.1 0.5 0.8-0.2 1.5-0.9 1.5-0.3 1.6-0.8 1.5-0.2 1.6-0.9 0.7-0.1 1.6-1.3 1.5 0.1 1.5-0.3 1.6 0.3 1.5-0.2 0.8 0.4 0.7-0.3 0.8 0.3 3.8-2.6 0.8-0.8 1.5 0 0.8 0.2 0.8-0.2 2.3 0.7 0.7-0.1 0.8-0.5 0.8 0.1 1.5-1.3 0.8-0.3 1.5 0 0.8-0.6 1.5 0.5 0.8-0.3 0.8 0.1 2.3-0.7 0.7-0.6 0.8-0.2 0.8-0.7 0.7-0.2 0.8 0.2 1.5-0.1 3.1-1.2 2.3-0.5 0.8 0.1 1.5-0.2 1.5-0.7 1.6 0 0.8-0.5 3.8-1.4 1.5 0.2 1.6 0.4 0.7-0.3 0.8 0 1.5-0.9 0.8 0.4 0.8-0.5 0.7 0.2 0.8-0.3 1.5-0.2 0.8-1.2 0.8 0.1 0.7-0.8 1.6-0.5 1.5-1 1.5-1.8 1.6-3.3 1.5-2 1.6-3 0.7-1 0.8-1.7 3.8-11.7 4.6-15.1 2.3-6.7 5.4-14.8 0.8-1.1 0.7-0.7 0.8-1.1 1.5-0.5 2.3-1.1 0.8 0.2 1.6-1.1 3.8-0.3 0.8 0.3 3-1.9 0.8 0.1 0.8-0.7 1.5 0.3 0.8-0.1 0.7 0.3 0.8-0.5 0.8 0.1 0.7-0.2 1.6 0.3 2.3-0.6 3 0.2 1.6 0.6 0.7-0.2" stroke="#0a0a0a" stroke-width="1.7" fill="none" stroke-linejoin="round" stroke-linecap="round"/>
<path d="M146.2 534.3l1.6 0.1 0.8-0.6 0.8-0.2 1.5 0.3 0.8-0.7 0.8 0 0.8 0.3 2.4-1 0.8 0.2 1.5-1.6 0.8-0.4 0.8 0 0.8-0.3 0.8-0.8 3.1-0.8 3.2-0.2 2.4-1.4 0.7 0.2 1.6-0.5 1.6 0.2 0.8-0.3 0.8-0.7 1.6 0 2.3-0.9 1.6 0.2 2.4-0.8 0.8 0 0.7-0.9 0.8-0.5 0.8-0.1 0.8 0.1 1.6-0.4 0.8 0.3 1.6-0.7 0.7-0.9 0.8-0.1 0.8 0.1 0.8-0.1 0.8 0.4 1.6 0.3 0.8-0.3 0.8-0.8 3.1-1.3 0.8-0.1 0.8 0.4 1.6-0.7 3.1-0.4 0.8 0 0.8-0.3 0.8-0.9 0.8-0.4 1.5 0 0.8-0.4 2.4 1.2 1.6-1.2 0.8-0.1 2.3-1.1 1.6 0.3 0.8-0.4 1.6-0.1 0.8-0.5 0.8 0 0.7-0.4 1.6 0.3 0.8-0.4 0.8 0.3 0.8-0.4 1.6 0.4 0.7-0.7 0.8-0.2 0.8-0.4 0.8 0.2 0.8-0.6 0.8-0.3 2.4 0 0.7-0.6 0.8 0.2 1.6-1 2.4 0 1.6-0.3 0.7 0.4 1.6-1.2 2.4-0.4 0.8-0.4 1.6-0.2 2.3-1.2 1.6 0.3 0.8-0.3 0.8 0.3 0.8-0.4 0.7 0.3 0.8-0.6 1.6-0.2 0.8-0.6 0.8 0 2.4-1.3 0.7-0.1 2.4-1.2 1.6 0 0.8-0.6 0.8-0.2 1.5 0.1 0.8 0.8 1.6-0.5 0.8 0.4 1.6-0.2 1.6-1.5 0.7 0.6 1.6-1 0.8 0.1 1.6-0.4 0.8-0.8 0.8-0.3 0.8 0.4 1.5-0.9 1.6 0.1 1.6-1.7 1.6-0.6 1.5-1.5 0.8-0.5 2.4-4.1 5.5-10.8 2.4-5.1 2.3-6.4 0.8-3.2 0.8-5.3 0.8-7.5 2.4-26 3.1-31.5 1.6-12.1 1.6-8.4 0.8-3.3 0.8-1.9 1.5-1.7 0.8-0.4 0.8 0.3 2.4-1.4 0.8 0 2.3-0.7 0.8-0.1 0.8 0.2 0.8-0.6 2.4-1 0.8 0.1 0.7-0.5 0.8-0.1 0.8 0.5 0.8-0.5 0.8 0.3 0.8-0.3 1.6 0.2 0.8-0.4 0.7 0.3 1.6 0.1 0.8-0.6 0.8 0.2 2.4-0.4 0.7-0.4" stroke="#0a0a0a" stroke-width="1.7" fill="none" stroke-linejoin="round" stroke-linecap="round"/>
<path d="M112 569l0.9 0.2 0.9-0.8 0.9-0.4 2.8-0.4 0.9-0.4 0.9 0.3 2.8 0.3 0.9-0.3 0.9-0.5 1.9-0.5 0.9 0.1 1.8-0.7 1.9 0.2 2.7-1.2 1-0.2 1.8-1.2 0.9 0.2 0.9-0.4 1 0 0.9-0.5 1.8-0.2 1.9-1.4 3.7-1.8 0.9-0.2 2.7-0.3 1-0.7 2.7-0.3 1.9-0.6 0.9 0.5 0.9 0.2 0.9-0.4 0.9 0 1.9-0.7 1.8-2 1.9-0.9 2.7 0 1 0.6 0.9-0.3 0.9-0.4 0.9-0.7 1.9-0.6 0.9-0.6 2.7 0 1-0.7 1.8-0.7 0.9-0.1 0.9-0.9 2.8-0.2 0.9 0.1 0.9-0.6 1 0.1 0.9-0.4 1.8-0.2 1-0.3 2.7-0.2 1.9 0.3 1.8 0 1.8-0.6 1 0.1 0.9-0.6 0.9 0.3 1.8-0.1 1 0.7 1.8-0.2 0.9-0.7 0.9-0.4 1 0 0.9-1.2 0.9-0.5 0.9 0.1 1-0.5 1.8-0.6 0.9 0.1 0.9-0.2 1-0.5 1.8 0.4 0.9-0.4 2.8 0.3 1.8-0.6 0.9 0.1 1.9-0.8 1.8-0.1 2.8-1.2 0.9-0.3 0.9-0.7 1-0.4 0.9 0.1 3.7-1.4 4.6-0.2 0.9 0.2 1.8-0.9 0.9 0.2 1.9-0.6 2.7 0.2 1.9-0.5 0.9-0.3 0.9-0.9 3.7-2.3 3.7 0.1 1.8 0.3 1-0.3 0.9 0.2 1.8-0.5 3.7-1.8 1.8 0 1.9 0.6 0.9-0.5 0.9 0 0.9-0.4 1.9-1.6 0.9-1.2 0.9-0.3 1.9-1.7 2.7-0.4 1.9 0.5 0.9 0.5 0.9-0.7 2.8-0.9 1.8-1.3 0.9 0.3 1.9-0.2 1.8-0.8 1.9-2.1 0.9-1.8 0.9-2.3 3.7-11.7 0.9-3.8 0.9-5.6 1-6.3 2.7-23.2 3.7-43.9 2.8-28.2 0.9-7.5 2.7-12.7 1-2.6 1.8-1.5 1.9-1.1 1.8-0.2 0.9-0.4 0.9-0.2 1-0.3 0.9 0.4 0.9-0.9 1.8-0.7 1-0.8 0.9-0.4 0.9-0.7 0.9 0.2 1.9-0.6 0.9 0.3 1.8-0.2 0.9-0.3 1 0.7 2.7 0.1 0.9 0.6" stroke="#0a0a0a" stroke-width="1.9" fill="none" stroke-linejoin="round" stroke-linecap="round"/>
<path d="M112 570.3l1.8-0.3 2.8-1.2 0.9-1.1 0.9-0.6 2.8-0.1 0.9-0.2 0.9 0.5 0.9 0.1 1-0.9 3.6-1.2 1-0.8 0.9 0.1 0.9-0.5 0.9 0.4 2.8-1.2 0.9-0.1 0.9 0.4 0.9-1.1 1 0 1.8 0.8 0.9-0.5 0.9-0.9 1.9-0.5 0.9-1.2 1.9-0.1 0.9 0.3 1.8-1 0.9 0.1 1-0.6 0.9-0.2 0.9-0.7 0.9 0.4 4.6-1.5 0.9-1.1 2.8-0.6 3.7-0.1 0.9-0.3 1.9-1.4 2.7-1.2 1.9-0.5 0.9 0.3 0.9-0.5 0.9 0.2 2.8-1 0.9-0.6 0.9 0.3 0.9-0.8 1.9-0.2 0.9 0 1.8-1 2.8 0.3 1.9-0.6 1.8-0.1 0.9-0.8 1.9-0.3 1.8 0.5 0.9-0.4 2.8 0.1 0.9-0.2 0.9-0.8 1.9 0.4 0.9-0.3 0.9 0 1.8 0.7 1.9-0.4 0.9 0.1 1.9-1.2 1.8-0.3 3.7-1.5 0.9 0.5 2.8 0.1 0.9 0.4 0.9-0.3 0.9-1 1.9-0.6 0.9 0 0.9-0.4 3.7 0.1 1.8-0.4 1-0.4 0.9 0 0.9-1 0.9-0.5 0.9 0 2.8-1.1 0.9 0.4 0.9 0 1-0.9 1.8 0.1 1.8-0.7 1-0.2 0.9 0.4 0.9-0.9 0.9-0.2 0.9 0 1-0.6 0.9 0 0.9-0.5 0.9-0.1 1.9-0.9 0.9-0.1 0.9-0.6 2.8-1 0.9 0 1.8-0.7 1-0.1 2.7 0.1 0.9 0.3 1-0.3 0.9 0.1 0.9-0.7 0.9-0.1 1.9-1.2 0.9-0.2 0.9-0.6 0.9 0.2 0.9-0.4 3.7-1.9 1-0.3 0.9 0.1 1.8-0.5 0.9 0.1 1-0.4 1.8-1.4 0.9-0.4 0.9-0.2 2.8 0 0.9-0.5 0.9 0.1 1-0.1 3.6-2.1 1.9-1.9 1.8-4.4 2.8-9.6 1.8-9.1 2.8-19.7 0.9-8.6 3.7-42.6 3.7-36.7 1.8-11.7 1.9-8 0.9-1.4 0.9-0.6 0.9-1 1-0.4 1.8-1.5 0.9 0.4 0.9-0.6 1-0.3 1.8 0.2 0.9 0.6 0.9-0.8 1.9 0.3 0.9-0.7 1.8-1 1 0.1 0.9-0.5 0.9 0 0.9-0.3 1.9 0.2 0.9-0.3 2.7 0.7" stroke="#0a0a0a" stroke-width="1.9" fill="none" stroke-linejoin="round" stroke-linecap="round"/>
<path d="M112 573.6l0.9-0.4 0.9 0.3 1.8-0.1 1-0.3 0.9 0.2 3.7-1.9 3.7-1 0.9 0 0.9 0.2 1.8-0.2 1 0.5 0.9 0.1 1.8-1 0.9-0.1 1-0.6 0.9-1.2 1.8-0.7 0.9-0.6 1.9-0.7 0.9 0.3 0.9-0.3 0.9 0.4 1 0 0.9-0.2 0.9 0.4 0.9-0.7 4.6-2.3 1 0 1.8-0.6 0.9 0 0.9-0.5 1 0.1 2.7-0.8 1.9-0.2 3.6-1.3 1.9-0.9 0.9-0.2 0.9 0.4 1-0.2 0.9 0.1 1.8-0.2 1.9-1.4 1.8-0.8 2.8-0.5 1.8-0.9 2.8-2 2.7 0 0.9 0.4 1-0.6 0.9 0.4 3.7-0.9 0.9 0.3 0.9-0.5 0.9 0.2 1.9-0.1 1.8-0.5 0.9 0 1-0.5 0.9 0 1.8-0.7 4.6-0.1 3.7-1.3 0.9 0.1 1 0.4 3.6 0.9 1.9-1.1 0.9 0 0.9-0.8 1.9-1 1.8-0.4 0.9-0.9 0.9 0.7 1 0.2 0.9-0.2 0.9 0.2 0.9-0.7 0.9 0.5 2.8-1.2 0.9-0.6 1 0 0.9-1.1 2.7-0.7 1.9 0.1 0.9 0.4 0.9-0.2 2.8 0.3 0.9-0.4 0.9 0.1 1.9-1.8 1.8-1.1 0.9 0 0.9-0.9 2.8 0.4 0.9-0.5 0.9-0.2 2.8 0.2 0.9-0.5 1 0.1 1.8-0.7 1.8-1.4 1 0.5 1.8-1 0.9 0.3 1.9-0.2 0.9-0.5 0.9 0 0.9-0.3 1.9-1.2 0.9 0.1 1.8-1.3 0.9-0.2 1 0.2 1.8-0.8 0.9-0.1 1-0.3 0.9 0.2 0.9-1.3 0.9 0 1.9-1.1 0.9 0.3 0.9-0.8 0.9 0.1 0.9-0.6 1.9-0.4 1.8-1.2 0.9-0.1 1.9 0.2 1.8-1 1.9-0.3 0.9-1.1 0.9-0.7 0.9-1.8 1-2.6 2.7-12.4 1.9-11.3 1.8-13.9 2.8-24.7 2.7-33.7 2.8-28.2 1.8-14 1.9-8.2 0.9-3 0.9-1.1 1.9-1.1 1.8-2 0.9 0 0.9-0.9 1.9 0.4 2.7-0.5 1 0.4 0.9-0.9 0.9-0.4 0.9 0.4 3.7-0.6 1.8 0 1 0.3 1.8-0.6 1.8 0" stroke="#0a0a0a" stroke-width="1.9" fill="none" stroke-linejoin="round" stroke-linecap="round"/>
<path d="M112 571.6l1.8-0.1 1.8-1.3 1 0.1 0.9 0.5 0.9-0.2 2.8-1.1 1.8-0.5 1.9-1.2 0.9-0.2 0.9 0.4 1.8-0.9 1 0.1 0.9 0.3 0.9-0.2 1.8-0.9 1 0 1.8-0.7 2.8 0.3 0.9-0.1 0.9-0.6 0.9-0.1 1.9-0.8 0.9-0.7 0.9-0.4 0.9 0.1 1-0.7 3.6-1.3 1-0.8 2.7-1.2 0.9 0.3 1-0.3 0.9 0.1 2.7-0.5 1.9-0.6 0.9-0.6 0.9 0 0.9-0.5 1-0.7 0.9-0.4 0.9 0 0.9 0.2 1-0.6 0.9-0.2 1.8 0 0.9-0.3 1-0.7 1.8 0 2.8-1.1 3.6-0.5 1-0.4 1.8-0.2 0.9-0.5 1.9-0.1 2.7-1.2 1 0.1 1.8-1.1 2.8-0.1 0.9-0.8 0.9 0.4 3.7-0.4 2.7 0 1-0.2 2.7 0.1 1.9-0.7 1.8-1 0.9 0.2 1-0.6 1.8 0.1 0.9 0.6 1.9-0.7 0.9 0.2 2.7-0.9 1 0.3 1.8-0.2 0.9-0.5 2.8-0.4 0.9-0.4 1.8 0.1 1-0.6 0.9-0.3 0.9-0.6 0.9 0.6 1-0.4 0.9 0.4 0.9 0.1 0.9-0.3 0.9 0.2 1-0.9 1.8-0.9 1.8 0.1 1.9-0.8 0.9 0 1.8-0.7 1-0.7 0.9-0.4 0.9 0.3 1.8 0 1-0.6 0.9 0 2.7-0.7 1-0.5 2.7-0.2 1.9-0.9 0.9-0.3 0.9-0.1 0.9 0.2 2.8-0.6 1.8-0.5 1-0.9 1.8-0.9 1.8-0.1 1-0.6 0.9-0.1 0.9 0.2 0.9-0.2 1.9-1.2 1.8-0.4 1.9-0.7 0.9-0.1 0.9 0.2 1.8-0.3 2.8-2.1 0.9-1 0.9-0.3 1-0.9 1.8-0.1 0.9 0.2 0.9 0 2.8-1.6 0.9-0.9 0.9-1.5 1-0.6 1.8-3.3 2.8-9.7 1.8-10 1.9-12.8 2.7-24.1 2.8-33.6 1.8-20 1.9-17.2 0.9-6.8 0.9-5.2 1.8-6.5 1-1.8 0.9-1.2 1.8-1.2 1-1.2 1.8 0.2 1.8-0.3 1.9 0.2 0.9-0.8 2.8 0.3 0.9-0.5 0.9-0.2 0.9 0.5 0.9-0.7 1.9-0.6 1.8-0.3 0.9-0.8 1 0 0.9-0.5 2.7-0.6" stroke="#0a0a0a" stroke-width="1.9" fill="none" stroke-linejoin="round" stroke-linecap="round"/>
<path d="M112 569.7l0.9 0 2.7-1 1 0 1.8-0.8 3.7-0.9 0.9-0.2 1.9 0.6 1.8-0.4 0.9-0.9 0.9 0.1 1-0.6 2.7-0.5 0.9 0.2 1-0.6 0.9 0 1.8-1.1 3.7-1.4 0.9-0.7 0.9 0.6 1-0.2 0.9 0.4 1.8-0.4 1-0.6 2.7-2.7 1.9-0.7 0.9 0.2 0.9-0.2 4.6-0.1 0.9-0.4 1.9-0.1 1.8-1.1 1.8-0.6 1-0.6 1.8-0.1 0.9-0.4 1 0.3 1.8-0.4 1.8-1.1 1 0 0.9-0.5 0.9 0 0.9-0.4 0.9-1.1 1 0.4 1.8-0.7 0.9-0.6 0.9-0.1 1 1.1 0.9-1 0.9 0 0.9-0.2 0.9 0.4 1 0 0.9-0.7 0.9 0 0.9-0.6 1-0.1 0.9-0.6 1.8-0.6 3.7-0.2 1.8-0.4 1 0.1 4.6-1.5 0.9 0.2 1.8-0.4 0.9 0.3 1-0.1 0.9-0.4 0.9-0.7 0.9 0.6 1-0.1 0.9-0.7 1.8 0.6 0.9 0.1 1-1 2.7-0.6 0.9 0 1-0.5 1.8 0.4 0.9 0 0.9-0.5 2.8-0.2 0.9-0.5 1.9 0.2 0.9-0.3 0.9 0.2 1.9-0.1 1.8-0.6 0.9-0.1 2.8-2.2 0.9 0.1 1.8-1 1 0 0.9 0.4 0.9 0 0.9-0.8 2.8-0.2 2.7-1 1 0.1 1.8-0.6 1.8-0.4 2.8-0.1 1.9-1.1 0.9-0.3 0.9 0 1.8-1.1 1.9 0.3 0.9-0.2 0.9-0.6 0.9-0.1 1.9-0.9 1.8-0.6 0.9 0 1-0.7 0.9-0.2 0.9 0.2 0.9-0.1 0.9-0.6 2.8-0.7 0.9-1 1.9-0.6 0.9-0.1 1.8-0.9 1 0.4 0.9-0.7 0.9 0 0.9-0.4 0.9-0.2 1 0.2 2.7-1.4 0.9-0.2 1 0.1 1.8-1.9 0.9-0.2 0.9 0 1-0.5 0.9-1 0.9-0.1 0.9-1.8 1-2.5 2.7-10.6 1.9-9.2 1.8-12.6 1.8-16 3.7-44.1 2.8-27.8 1.8-13.9 0.9-4.9 1-3.7 0.9-3 0.9-1.4 0.9-1.1 2.8-1.9 1.8-0.6 1 0.3 0.9 0 0.9 0.4 1.8-0.4 1 0.3 0.9-0.6 0.9 0 0.9-0.5 1.9-0.3 0.9-0.8 0.9 0.1 0.9-0.3 0.9 0.1 1.9-0.1 0.9 0.3 1.8 0" stroke="#0a0a0a" stroke-width="1.9" fill="none" stroke-linejoin="round" stroke-linecap="round"/>
<path d="M112 568.9l0.9-0.4 1.8-0.3 0.9 0.3 2.8 0.4 1.9-0.8 0.9 0.4 0.9-0.3 0.9-0.7 0.9-0.2 1-0.2 0.9 0.2 0.9-0.9 0.9 0.1 0.9 0.4 1-0.3 0.9-0.7 0.9-0.5 0.9 0.3 2.8-1.9 0.9 0.6 0.9 0 0.9-0.4 3.7-0.8 3.7-1.3 0.9 0.1 1-0.4 2.7-1.9 0.9-0.1 1-0.7 0.9-0.3 0.9 0.1 0.9 0 0.9 0.5 1-0.2 0.9 0.2 4.6-2.4 0.9-0.7 1.8-0.9 1-0.1 1.8-0.8 0.9 0.3 2.8-1.7 0.9-0.1 0.9 0.2 1-0.3 2.7-0.1 0.9-0.3 1-0.9 2.7-0.8 0.9 0.1 1-0.4 0.9 0.3 0.9-0.1 1.8 0.9 1-0.6 0.9 0 1.8-0.5 1.9-1 1.8 0.5 1.9-0.7 1.8-0.2 1.8-1.5 1 0.1 0.9-0.2 0.9-0.9 1.8-0.5 1 0.9 0.9-0.7 0.9 0 0.9 0.8 0.9-0.3 1 0 0.9-1 1.8-0.2 1-0.4 3.6 0.5 1-0.1 1.8-0.9 1.8-1.2 1.9 0 2.7 0.7 1 0.6 1.8-0.5 0.9-0.6 0.9-0.4 1 0 1.8-1.1 0.9-0.4 1.9-0.2 0.9-0.4 0.9 0.2 1.9-0.6 0.9 0.2 0.9-0.7 0.9 0.1 0.9-0.7 1.9 0.2 0.9-0.2 0.9 0.1 0.9-0.5 1 0.2 1.8-0.4 1.8-0.8 1 0.2 0.9-0.4 1.8 0.2 1.9-0.3 0.9-0.9 0.9-0.1 1.9-2 1.8-1.2 4.6-0.7 1.8 0.3 1-0.5 0.9-0.2 0.9 0.3 0.9-0.3 1.9-1 1.8-0.7 2.8-0.6 1.8-1 0.9 0.4 3.7-2.1 0.9 0.2 1-0.7 0.9 0 0.9-0.4 0.9 0.3 0.9-0.2 1.9-1.4 1.8-0.1 0.9-0.8 1 0.3 1.8-0.2 0.9-1.2 1.9-1.2 0.9-1.1 0.9-1.8 0.9-2.6 1.9-6.6 1.8-8 0.9-5.5 1.9-13 1.8-15.3 3.7-43.8 3.7-35.2 1.8-10.4 1.9-7.2 1.8-2.6 0.9-0.6 1-0.2 0.9-0.8 0.9 0.3 0.9-0.2 0.9 0.4 1.9-0.9 0.9-0.2 0.9-1 1.9-0.3 0.9-0.5 0.9 0.1 0.9-0.1 0.9 0.5 1 0.2 0.9-0.7 0.9 0.2 0.9-0.3 0.9 0.1 1-0.3 0.9-0.6 0.9 0.5 0.9 0.1 0.9-0.3" stroke="#0a0a0a" stroke-width="1.9" fill="none" stroke-linejoin="round" stroke-linecap="round"/>
<path d="M112 571.5l1.8-0.1 1.8-1.1 1.9-0.4 0.9-0.5 2.8 0.5 5.5-0.9 0.9-0.5 0.9-0.1 2.8-1.3 1.8-0.4 3.7-1.1 0.9-0.6 1-0.2 0.9-0.6 1.8 0 0.9-0.4 1 0.3 0.9-0.5 0.9 0.1 0.9-0.4 1-0.8 3.6-1.2 1.9 0.4 0.9-0.2 0.9-0.5 0.9 0.1 1-0.4 1.8-1.2 0.9-0.1 3.7-1.9 0.9 0.2 0.9-0.6 1-0.1 0.9-0.6 1.8 0.2 2.8-1.1 2.8-0.5 0.9-0.6 1.8-0.3 0.9-0.4 1-0.1 0.9 0.3 1.8-0.9 1.9 0.1 0.9-0.6 0.9-1 1.8-0.3 1.9-0.9 0.9-0.2 0.9 0.1 4.6-0.9 1.9 0 0.9 0.6 0.9 0.3 0.9-0.4 1 0.2 0.9-0.4 0.9 0.3 0.9-1.1 0.9-0.5 1 0.1 1.8-0.5 0.9-0.9 1.9 0.5 2.7-0.6 1 0.3 2.7-1.1 0.9 0.5 1 0.2 0.9-0.4 0.9 0.1 0.9-0.2 2.8-1.3 0.9 0.1 1.8-0.1 1 0.6 0.9 0.2 1.8-0.7 0.9-0.6 1-0.2 1.8-1.4 1.9 0 2.7-0.4 0.9-0.6 1 0 0.9-0.9 0.9 0.1 0.9-0.5 0.9-0.2 1 0.3 0.9-0.1 0.9 0.4 0.9-0.4 0.9 0.3 1 0 2.7-0.8 0.9 0.1 1-0.6 2.7-0.8 0.9-0.9 1-0.4 0.9 0.2 2.8-0.9 0.9 0.6 1.8-1.3 0.9-0.2 1 0.1 2.7-1.3 1.9-0.1 0.9-0.6 0.9 0 0.9-0.3 0.9 0.3 1.9-0.9 1.8-0.5 0.9 0 1-0.5 1.8-0.6 0.9-0.2 1 0.1 4.6-2.5 0.9-0.7 1.8-0.2 2.8-1.2 1.8-1.3 4.6-1 1.9-1.4 0.9-0.9 1.8-5.3 2.8-12.7 1.8-11 2.8-21.4 0.9-8.7 2.8-34.6 3.7-36.6 1.8-12.3 0.9-4.8 0.9-3.5 1-2.2 0.9-0.6 2.8-1 1.8 0.3 3.7-0.6 1.8-1.3 0.9 0.1 1-0.6 0.9 0.1 0.9-0.6 1.8 0.2 1-0.6 0.9 0.2 0.9-0.3 1.8 0.2 1-0.2 0.9 0.3 0.9-0.3 0.9 0.3 0.9 0" stroke="#0a0a0a" stroke-width="1.9" fill="none" stroke-linejoin="round" stroke-linecap="round"/>
<path d="M112 569.7l1.8-0.6 0.9 0.3 0.9 0 3.7-0.9 1 0.2 0.9-0.5 0.9 0.1 1.8-0.3 1 0.2 0.9-0.6 0.9 0 0.9-0.3 2.8-1.2 0.9 0 1.8-1.1 1-0.2 0.9 0.1 3.7-0.7 0.9-0.3 0.9-0.7 0.9-0.4 0.9-0.3 1 0 0.9-0.6 0.9 0.3 0.9 0 1.9-0.8 0.9-0.8 0.9-0.2 0.9-0.9 1 0 1.8-0.5 0.9 0.2 1.9-0.1 2.7-1.8 0.9-0.3 1 0.1 1.8-1 1.8 0.1 1.9-0.9 0.9-0.3 0.9 0.2 1-0.1 0.9-0.4 0.9 0.2 0.9-0.5 1.9-0.4 0.9-0.7 0.9-0.1 0.9-0.7 0.9-0.2 1-0.1 0.9-0.3 0.9 0.3 0.9-0.2 0.9 0.1 1.9-1 0.9 0 0.9-0.7 1.9-0.7 1.8 0 0.9-0.3 6.5-0.3 0.9-0.2 0.9-0.5 1.9-0.2 1.8-0.8 1.8-0.4 1 0.1 0.9-0.3 1.8 0.3 0.9-0.5 1.9 0 1.8-0.4 1-0.6 1.8 0.4 0.9-0.6 1.9-0.4 0.9 0.2 1.8-0.4 1.9 0.1 1.8-0.3 0.9-0.3 0.9 0.2 1-0.3 0.9 0 1.8-0.5 0.9 0 1-0.6 0.9 0.1 0.9-0.5 0.9 0.1 1.9-0.4 0.9-0.3 0.9-0.7 1.9-0.9 2.7-0.5 0.9-0.4 1.9 0.1 1.8-0.8 0.9-0.1 1.9 0.7 2.7-0.8 1 0.2 1.8-0.8 0.9-0.8 1.9 0 0.9-0.9 0.9 0 0.9-0.8 1.9 0.2 0.9-0.6 0.9 0.2 0.9-0.7 2.8-0.3 0.9-0.5 0.9-0.8 1 0.3 2.7-1.8 1.9 0.2 0.9-0.8 1.8 0.2 1.9-1.3 2.7 0 1-0.7 1.8-0.1 1.8-0.6 1-0.7 0.9-0.3 0.9-0.7 0.9-0.1 1.9-1.1 0.9 0 0.9-0.7 0.9 0.1 0.9-0.2 1-0.1 0.9-0.5 1.8-0.5 1.9-1.2 1.8-2.1 1.9-4.8 3.6-15.3 1.9-11.3 0.9-6.2 1.8-15.7 3.7-44.7 2.8-28 0.9-7.2 0.9-5.3 0.9-4.4 1-3.1 0.9-2.4 0.9-0.7 4.6-2.6 0.9-1 1.9-1.1 1.8 0.5 0.9-0.1 1.9 0.6 1.8 0.1 0.9-0.9 1.9 0.1 0.9-0.4 0.9 0.2 0.9-0.7 1 0 0.9-0.2 2.7 0.3" stroke="#0a0a0a" stroke-width="1.9" fill="none" stroke-linejoin="round" stroke-linecap="round"/>
<path d="M112 570.2l1.8-0.1 0.9-0.5 0.9-0.1 4.7-1.8 1.8 0.3 3.7-0.9 0.9-1 0.9 0.1 0.9-0.3 1-0.7 0.9-0.3 0.9 0.1 0.9 0.4 1.9-0.4 0.9 0.3 3.7-0.4 2.7-0.9 1.9-1.4 0.9-0.3 0.9 0.1 1.9-1.1 0.9 0.1 0.9-0.2 1.8-1.1 1 0.1 1.8-1 0.9 0 0.9-0.6 1.9-0.4 0.9-0.6 0.9 0.1 0.9-0.3 1 0 0.9-0.3 0.9-0.7 0.9 0.1 3.7-2.9 0.9-0.2 1 0.3 2.7 0.2 0.9 0.3 1 0.1 0.9-0.6 1.8-0.7 0.9 0.4 2.8-1.4 0.9-0.4 0.9 0 1-0.7 2.7-0.9 1.9-0.3 0.9-0.5 1.8 0.1 1 0.5 1.8 0 2.8-0.3 0.9-0.5 1.8-1.8 0.9 0.4 1.9-0.1 1.8 0.6 0.9-0.4 1-0.8 1.8-0.5 1.8-0.9 1.9 1.4 2.8-1.3 0.9 0 0.9-0.8 0.9-0.4 0.9 0.2 1-0.5 3.6-0.1 1.9 0.4 1.8-0.8 0.9 0.4 1.9-1.2 0.9 0.1 0.9 0.7 0.9-0.2 1-0.7 0.9-0.1 0.9 0.4 0.9 0 1-1 2.7-0.3 1.9-1.1 1.8 0.3 1.8-0.4 1.9-0.8 0.9-0.1 0.9-0.9 0.9 0.1 2.8-1 1.8 0 1-0.7 0.9-0.5 0.9 0.5 0.9 0.2 0.9-0.7 1 0.1 0.9-0.3 0.9 0.3 0.9-1.1 1-0.5 1.8-0.1 0.9 0.2 0.9-0.4 1.9-0.3 0.9-0.8 0.9-0.1 0.9 0.3 2.8-0.5 0.9 0.2 0.9-0.7 1-1.5 0.9-0.3 1.8-0.2 0.9-0.9 1.9-0.2 1.8-1.3 1.9-0.3 0.9-0.5 1.8-0.6 1 0.1 0.9-0.5 0.9 0 3.7-0.7 1.8-0.7 0.9-0.1 1-0.4 0.9-0.2 0.9-0.5 0.9 0.1 0.9-0.7 1.9-0.9 0.9-0.7 0.9-2.1 1.9-6 2.7-13.3 1.9-11.3 2.7-22.3 3.7-43.7 2.8-27.7 1.8-13.9 1.9-8.6 0.9-3.3 0.9-1.3 2.8-1.4 0.9 0.1 0.9-0.2 0.9 0.2 1-0.8 0.9-0.4 0.9-0.1 0.9-0.7 0.9-0.1 1-0.7 0.9 0.3 0.9 0.1 0.9-0.3 2.8-0.4 0.9-0.5 0.9-0.1 0.9-0.4 1 0 0.9-0.3 0.9 0.2 0.9-0.1 0.9 0.3" stroke="#0a0a0a" stroke-width="1.9" fill="none" stroke-linejoin="round" stroke-linecap="round"/>
<path d="M145.4 565.5l1.5-0.5 0.8 0.4 0.8-0.3 1.6-1 0.8 0.1 1.6-1 1.6-0.5 0.8 0.3 1.5-0.3 0.8-0.7 0.8 0.1 1.6-0.7 0.8 0.1 0.8-0.9 0.8 0.6 0.8-0.9 0.8 0.1 0.8-0.4 0.8-1.1 0.7 0.6 1.6-0.6 0.8-0.6 0.8 0 0.8 0.3 1.6-1.1 1.6-0.3 0.8-0.4 0.8-0.5 0.7-0.8 3.2-0.1 3.2 1 0.8-0.1 1.6-0.9 0.7-0.2 2.4-1.7 1.6 0 0.8-0.7 0.8-0.1 0.8 0.2 0.8 0.4 3.1-0.6 2.4-1.6 0.8 0.1 1.6-0.2 1.6 0.2 0.8 0.4 0.8-0.3 0.8 0.7 3.1-0.5 1.6-1.5 0.8 0.1 0.8-0.5 0.8-0.1 0.8-0.1 0.8 0.5 0.8 0 0.7-0.4 0.8 0.2 2.4-0.5 0.8-0.1 1.6 0.2 1.6-0.3 0.8 0.1 0.8-0.3 3.1-0.4 0.8-0.3 2.4-0.4 1.6-1.1 3.1-1.1 0.8 0.1 1.6-0.9 1.6-0.2 0.8-0.4 0.8-0.7 0.8 0.3 1.6-0.4 1.5-0.8 0.8 0.3 0.8-0.2 0.8 0.2 0.8-0.5 0.8-0.1 0.8 0.1 0.8-0.5 0.8 0.1 0.8-0.4 0.8 0.6 2.3-0.2 4-1.1 2.4-1 0.8 0 0.8-0.4 3.1-0.2 0.8-0.3 0.8 0.1 0.8-1 1.6-0.3 2.4-1.7 0.8 0.5 0.7 0 0.8-1 2.4-0.1 0.8-0.7 0.8-0.3 0.8 0.5 2.4-0.9 0.8 0.1 0.7-0.4 0.8 0.4 0.8-0.5 0.8 0.3 0.8-0.2 0.8-0.7 0.8-0.4 0.8-0.9 0.8 0 0.8-0.8 0.8-0.3 0.8 0.2 0.8-0.7 2.3-0.2 0.8-0.4 1.6-0.3 0.8-0.5 0.8-1 4.7-1.1 0.8-0.8 0.8-1.2 0.8-2.4 1.6-6.3 2.4-12 2.3-15.1 1.6-12.1 1.6-14.7 3.2-39.5 3.2-31.8 1.5-10.2 1.6-6.5 0.8-2.3 0.8-0.3 4-3.1 0.8-0.9 3.1-1.6 2.4-0.3 0.8 0.3 0.8-0.3 0.8 0.4 3.1-0.2 0.8 0.3 0.8-0.6 2.4-1 0.8 0.1 2.4-0.6 0.8 0.8 0.7 0" stroke="#0a0a0a" stroke-width="1.9" fill="none" stroke-linejoin="round" stroke-linecap="round"/>
<path d="M145.4 563.5l1.5-0.6 1.6-0.2 0.8 0 0.8-0.6 0.8-0.1 0.8 0.1 1.6-0.2 1.6-0.8 2.3-2 2.4-1 0.8-0.5 1.6 0.7 0.8-0.5 0.8-0.1 1.6 0.5 0.7-0.3 1.6-0.2 3.2-1.7 0.8-0.7 2.4 0.2 0.8-0.2 0.7-0.3 0.8-0.7 3.2-1.2 0.8 0.3 0.8 0.6 0.8-0.2 0.8-0.7 1.6 0.4 1.5-0.5 1.6 0.1 1.6-0.3 0.8 0.2 0.8-0.8 0.8-0.2 1.6 0 1.6-0.8 0.7 0.3 1.6-0.7 0.8-0.1 0.8 0.1 1.6-1 1.6 0.2 2.4-0.9 0.7 0.3 0.8-0.5 1.6-0.2 0.8 0 0.8 0.4 2.4 0.1 1.6-0.7 1.5-1 0.8 0.2 0.8-0.2 3.2 0.3 0.8-0.9 2.4-0.7 1.6-1.1 0.7-0.1 3.2-0.2 0.8 0.4 2.4 0 2.4-0.4 0.7 0.5 1.6-0.8 0.8-0.1 1.6-0.7 1.6-0.9 0.8-0.1 1.6-0.9 0.8 0 0.7-0.3 0.8 0.4 0.8-0.5 0.8 0.1 0.8 0.5 1.6-1 2.4-0.8 0.8-1 0.8-0.3 0.7 0.1 0.8-0.3 0.8 0.2 0.8-0.1 0.8 0.3 0.8 0.1 0.8-0.4 0.8 0.1 0.8-0.3 1.6-0.9 1.6-0.2 1.5-0.9 0.8 0.5 2.4-0.6 0.8 0.3 0.8-0.2 0.8-0.9 0.8 0.5 0.8-0.7 0.8-0.3 0.7-0.7 0.8 0.2 0.8-0.2 0.8-0.8 2.4-0.3 0.8-0.7 0.8 0.2 0.8-0.4 0.8 0.3 1.5-0.2 0.8-0.4 0.8 0 0.8 0.2 1.6-1.3 0.8-1.1 0.8-0.4 1.6-1.4 0.8 0.2 0.8 0 3.1 0.7 1.6-1.2 1.6-0.7 1.6-1 0.8-0.3 1.6 0 2.3-2.1 1.6-3.9 3.2-13 1.6-8.5 1.5-10.5 3.2-26.9 3.2-38.1 2.4-24.9 1.5-12.6 1.6-8.5 0.8-3.2 1.6-3.7 2.4-1.7 1.6-0.7 1.5 0.1 3.2-0.4 2.4-0.9 1.6-1 0.8 0 0.8-0.3 1.5-0.1 1.6 0.5 0.8 0.1 0.8 0.6 1.6-0.6 0.8 0.1 1.6-0.6 0.8-0.6 0.7 0.2" stroke="#0a0a0a" stroke-width="1.9" fill="none" stroke-linejoin="round" stroke-linecap="round"/>
<path d="M145.4 564.2l0.7-0.3 0.8-0.9 1.6-0.5 0.8-0.6 1.6-0.2 1.6-1.3 0.8-0.3 2.3-1.3 1.6 0.8 1.6-1.4 1.6 0.4 0.8-0.2 0.8-0.5 1.6 0.1 0.8-0.2 1.5-1.3 1.6-0.1 1.6-1 2.4 0 0.8-0.5 1.6-0.2 1.5-1 1.6 0.1 0.8-0.5 1.6-0.1 0.8 0.4 0.8-0.6 1.6 0.9 3.1-1.5 0.8-0.9 1.6-1.1 1.6 0 0.8-0.7 0.8-0.4 1.6-0.3 0.8-0.6 1.5 0.1 0.8 0.4 0.8 0.1 0.8-0.4 0.8 0.6 0.8-0.3 0.8 0.7 1.6-0.2 0.8 0.5 0.8-0.7 0.8 0.2 0.7-0.5 2.4 0.1 1.6-0.3 2.4-0.7 0.8-0.7 2.3 0 0.8 0.4 0.8-0.2 1.6 0.4 0.8-0.6 0.8 0.1 0.8-1.3 0.8 0.1 1.6-1.5 2.3 0.1 0.8-0.2 1.6 0.5 0.8 0 0.8-0.3 1.6 0.6 0.8-0.1 1.6-1.4 1.5-0.7 1.6-1.2 1.6 0.5 0.8-0.1 1.6-1.1 1.6 0.7 1.6-0.7 1.5 0.1 1.6-0.7 0.8 0.5 0.8-0.2 2.4 0.2 1.6-0.7 0.8-0.1 1.5-0.7 0.8-0.8 1.6-0.6 0.8-0.7 0.8-0.4 1.6-0.3 1.6-1.2 0.8 0.1 0.8-0.3 2.3 0.3 2.4-0.2 1.6-0.6 0.8 0.1 1.6-0.8 0.8 0.1 1.5-0.8 0.8-0.6 1.6 0.6 1.6-0.8 1.6-0.1 2.4-1.2 0.7 0.6 0.8 0.2 1.6-1 1.6-0.6 0.8-1 0.8-0.4 0.8-0.1 1.6-0.8 0.8 0 0.8-0.2 0.7-0.7 1.6 0 0.8-0.1 0.8-0.5 0.8 0.3 0.8-0.5 3.2-0.9 0.8-1.1 0.7-0.4 0.8-1.3 0.8-0.6 0.8-1.7 2.4-7.5 2.4-10.9 1.6-9.5 3.1-23.9 0.8-7.9 3.2-39.7 1.6-17.1 1.6-14.3 0.7-5.2 1.6-7.1 1.6-5.2 0.8-1.2 0.8 0.1 0.8-1.1 0.8-0.2 0.8-0.4 0.8-0.6 1.5-1.8 1.6-0.6 1.6-0.3 0.8 0.3 2.4-0.5 0.8-1 1.6 0.4 0.7-0.2 1.6 0.1 0.8 0.7 0.8-0.4 0.8 0 1.6 0.6 1.6-1.1 1.6 0.2 0.7-0.1" stroke="#0a0a0a" stroke-width="1.9" fill="none" stroke-linejoin="round" stroke-linecap="round"/>
<path d="M145.4 563.8l1.5-0.3 0.8 0 0.8 0.6 0.8 0.1 2.4-1.1 2.4-0.5 0.8-0.6 1.5-0.6 0.8 0.2 0.8-0.5 0.8-0.2 1.6 0.1 0.8-0.2 1.6-1.8 0.8-0.6 3.1-1.5 0.8 0.5 0.8-0.1 4-2.1 0.8 0 0.8 0.5 0.8 0.1 1.5 0 2.4-1.1 1.6-1 1.6 0 1.6-1 0.8 0 0.7 0.6 0.8-0.6 0.8-0.2 2.4 0.3 0.8-0.6 0.8 0.2 0.8-0.2 0.8 0.1 2.4-1.4 1.5 0.1 0.8-0.7 2.4 0.7 0.8-0.5 1.6 0.8 2.4-0.8 0.7 0.3 0.8 0 1.6-0.7 1.6-0.1 2.4-1.3 0.8 0.2 0.8-0.4 2.3 0.9 1.6 0.1 0.8-0.1 0.8-0.9 1.6-1.2 1.6-0.8 1.6 0.3 2.3-0.5 0.8 0.4 3.2-0.6 0.8 0.1 1.6-0.8 1.6-0.5 1.5-1 1.6-0.5 1.6 0.1 0.8-0.5 0.8 0.1 0.8-0.1 0.8-0.5 0.8 0.1 0.8-0.1 0.7 0.6 0.8 0 1.6 0.5 1.6-1.4 1.6-0.7 0.8-0.1 0.8-0.5 1.6 0.2 1.5-0.4 0.8-0.4 1.6 0.2 1.6-0.5 3.2-1.4 0.8-0.9 0.8 0.3 0.7-0.4 2.4-0.7 0.8 0.3 0.8-0.4 0.8 0.4 0.8-0.1 0.8 0.2 1.6-1.1 0.8 0.4 1.5-0.5 0.8-0.7 1.6-0.1 0.8-1.2 0.8-0.8 0.8-0.6 1.6-0.6 2.3 0.5 0.8-0.2 0.8-0.8 2.4-0.7 0.8-0.6 1.6 0.1 0.8-0.4 0.8 0 0.8-0.6 1.5-0.3 0.8-0.4 0.8 0 0.8-0.6 0.8 0.3 1.6-1 1.6-0.6 0.8-0.6 0.8-1.1 2.3-1.4 0.8-1.6 1.6-4.7 1.6-6.3 1.6-7.2 2.4-15.3 1.5-12.8 1.6-15.4 3.2-38.6 2.4-24.1 1.6-12.8 1.5-7.3 1.6-5 0.8-1.3 3.2-3.6 0.8-0.1 1.6 0.6 0.7-0.1 0.8-0.1 0.8-0.6 0.8-0.1 1.6-1 0.8-0.2 1.6 0.9 2.4 0 3.9-1.8 0.8 0.2 1.6-0.3 2.4 0.3 1.5-0.4" stroke="#0a0a0a" stroke-width="1.9" fill="none" stroke-linejoin="round" stroke-linecap="round"/>
<path d="M145.4 563.7l1.5-0.7 1.6-0.3 0.8-0.4 1.6 0.1 0.8-0.5 0.8 0 0.8-0.4 0.8 0.1 1.5-1 0.8-0.6 1.6-0.2 0.8-0.8 0.8-0.5 0.8 0 0.8 0.4 0.8-0.7 1.6-0.3 0.8 0.1 0.8-0.5 1.5 0 0.8-0.2 0.8-0.6 1.6-0.5 1.6-0.8 0.8-0.8 0.8 0.3 1.6-0.8 1.5-0.2 0.8 0.2 0.8-0.7 2.4 0 1.6-0.6 1.6 0 1.5-0.6 1.6 0 0.8 0.5 0.8-0.5 0.8-0.2 0.8 0.2 0.8-0.2 1.6-1 0.8-0.2 1.6-0.3 0.7 0.1 0.8 0.3 0.8-0.5 1.6-0.2 1.6-0.9 1.6 0.1 1.6 0.3 0.8-0.1 0.7 0.2 0.8-0.4 0.8 0.4 1.6-0.8 0.8 0.3 1.6 0 0.8-0.5 1.6 0 1.5-0.9 0.8-0.3 0.8 0.2 3.2-1.7 0.8-0.2 0.8-0.7 0.8 0.2 0.8-0.2 0.8 0.5 0.8 0.3 0.7-0.3 0.8 0.1 0.8-0.7 0.8 0.5 1.6-0.5 1.6 0.5 0.8-0.1 0.8-0.5 2.3 0.1 0.8-0.9 1.6 0 2.4-1.4 0.8-0.1 1.6-0.7 0.8 0.2 3.1-0.4 0.8 0.2 1.6-0.8 0.8-0.1 0.8 0.1 1.6-0.9 2.3-0.4 1.6-0.8 1.6-0.4 1.6-0.2 0.8-0.3 0.8-0.1 0.8-0.2 1.6-1 0.8-0.8 0.7 0.1 0.8-0.4 3.2-0.6 0.8-0.9 0.8 0.2 1.6-0.3 2.3 0.3 0.8-0.4 2.4-0.6 1.6-1 1.6-0.1 0.8 0.1 1.6-1.2 0.7 0.3 2.4-1.4 0.8 0 0.8 0.5 0.8-0.4 1.6-0.4 2.4-1.5 0.8-0.2 1.5-1 0.8-0.1 3.2-1.7 0.8 0.6 3.2-0.3 0.7-0.3 0.8-1.2 1.6-1.3 0.8-2.1 2.4-8.6 3.2-15.1 2.3-18.5 1.6-14.9 3.2-38.6 3.2-31.3 0.7-7 0.8-5 2.4-11.8 0.8-1.5 0.8-0.5 2.4-2.5 3.9-2.9 0.8 0.7 1.6 0 0.8 0.2 0.8 0.4 0.8 0.1 0.8-0.3 0.8 0 0.8-0.3 0.7 0.1 2.4-0.6 0.8 0.4 1.6-0.4 0.8 0.3 0.8-0.2 0.8 0.2 0.8-0.5 0.8 0.9 0.7-0.3" stroke="#0a0a0a" stroke-width="1.9" fill="none" stroke-linejoin="round" stroke-linecap="round"/>
<path d="M145.4 565.5l0.7-0.5 0.8-0.2 0.8-0.5 0.8-0.2 0.8-0.8 0.8-0.3 0.8 0.1 0.8-0.6 0.8 0.1 0.8-0.3 0.8 0.2 3.1-1.1 0.8 0.2 2.4-0.8 1.6-0.7 0.8-0.8 1.6-0.3 0.8-0.7 0.7 0.4 1.6-0.2 1.6-0.7 0.8 0.3 0.8-0.6 1.6 0.2 0.8-0.6 1.6 0 1.5-0.7 1.6 0.5 1.6-1.3 1.6-0.7 0.8-1.1 1.6 0.1 0.8-0.4 0.7 0.1 0.8-0.2 0.8 0.4 0.8-0.3 2.4 0.4 1.6-0.6 0.8-0.7 1.6-0.1 0.8-0.9 1.5-0.3 0.8 0.2 0.8-0.6 0.8-0.3 0.8 0.9 0.8-0.1 0.8 0.2 0.8-0.4 1.6 0.2 0.8-0.7 1.5-0.5 1.6-0.1 0.8 0.2 1.6-0.7 0.8-0.6 1.6 0.1 0.8-0.7 2.3-0.4 0.8 0.2 0.8-0.6 0.8-0.1 0.8 0.6 1.6 0.9 0.8-0.3 1.6 0.1 1.6-0.9 1.5-0.6 3.2-0.6 0.8-0.4 0.8 0.1 0.8-0.4 1.6-0.3 1.5 0 0.8-0.3 2.4 0.3 4-1.6 1.6-0.1 1.5 0.5 0.8-0.1 1.6-0.9 0.8-0.1 0.8-0.6 2.4-0.2 0.8-0.7 0.8-0.1 2.3-1.3 1.6 0 0.8-0.3 0.8 0.2 0.8-0.3 0.8-0.1 2.4-1.5 0.8 0.2 0.7-0.1 0.8 0.3 1.6 0 0.8 0.3 1.6-0.9 1.6-1.3 0.8-0.1 1.6-1.6 1.5-0.4 0.8 0.4 4.8-1.3 1.6 0.1 0.8-0.2 1.5 0.4 0.8-0.8 1.6-0.5 0.8 0.4 1.6-2 0.8 0 0.8-0.8 0.8-0.2 1.6-1.3 0.7-0.3 1.6-0.1 1.6-0.3 1.6 0.2 4.7-3 0.8-0.9 0.8-1.5 1.6-5.3 4-18.9 1.6-10.3 2.3-19.4 3.2-38.9 4-39.3 2.3-15.7 1.6-6.7 1.6-1.3 1.6-0.8 1.6 0 1.6-0.8 1.5-0.2 0.8-0.3 0.8-1 0.8 0.3 0.8-0.5 2.4-0.9 0.8 0.4 0.8-0.7 0.8 0 0.7-0.2 0.8 0.1 1.6-1.2 1.6 0.3 1.6-0.6 0.8 0.2 0.8 0.5 1.6 0.1 0.7-0.3" stroke="#0a0a0a" stroke-width="1.9" fill="none" stroke-linejoin="round" stroke-linecap="round"/>
<path d="M145.4 560.3l3.1-1.2 2.4-0.3 0.8-0.8 0.8 0.1 0.8-0.2 0.8-0.8 0.8-0.2 1.5 0.2 0.8-0.2 1.6-1.3 0.8 0 0.8-0.3 1.6-0.2 1.6 0.5 0.8-0.7 2.3-0.2 1.6-1.2 0.8 0.4 0.8-0.1 1.6-1.5 0.8-0.2 0.8 0 1.6-1.4 0.7 0 0.8-0.4 2.4 0.3 0.8 0.2 0.8-0.3 1.6 0.1 2.4-2 1.5 0.4 0.8-0.4 1.6 1.1 0.8 0 1.6-0.9 0.8 0.1 1.6-1.6 0.8-0.4 0.8 0 1.5-0.7 1.6-0.2 0.8 0.3 1.6-0.4 0.8-0.4 0.8 0.3 0.8 0.1 0.8-0.4 0.8 0 1.5 0.6 1.6-0.2 0.8 0.2 4.8-2.4 2.3-0.2 1.6 0.5 1.6-0.1 0.8-0.2 0.8 0.2 0.8-0.6 2.4-0.3 1.5-0.5 1.6 0.6 2.4 0.1 0.8-0.6 0.8 0.1 1.6-0.6 0.8-0.7 1.5 0 0.8-0.8 1.6-1.1 1.6 0.1 1.6-0.1 2.4 0.5 1.5-0.7 2.4-0.3 0.8-0.3 0.8-0.8 0.8-0.1 1.6-1.2 0.8 0.1 0.8-0.3 0.8 0.5 1.5 0.6 1.6-0.8 0.8 0 1.6-1.4 0.8 0 0.8 0.2 1.6-0.8 1.6 0 1.5-1.1 0.8 0.1 3.2-0.6 0.8 0.5 0.8-0.7 1.6-0.5 0.8-0.7 3.1-1.5 0.8 0.2 1.6-0.5 0.8-0.5 0.8 0.2 0.8-0.5 0.8-1 2.3 0 0.8-0.6 0.8-0.1 0.8 0.3 0.8-0.2 1.6-0.8 1.6-0.4 0.8-0.5 0.8-0.1 0.8-0.5 0.7 0 4-1.6 1.6-0.4 0.8-0.6 1.6-0.4 0.8 0.2 0.7-0.9 0.8-0.3 0.8-0.6 0.8-0.8 0.8-2.1 3.2-12.3 2.4-12.1 1.5-10.8 2.4-21.3 3.2-38.9 3.2-30.2 0.7-6.2 1.6-9.6 1.6-6.5 2.4-2.4 1.6-2 0.8-0.5 1.5-0.1 0.8 0.4 2.4 0.4 1.6-0.3 0.8-0.5 0.8 0.1 0.8-0.5 0.8 0.1 0.8-0.7 1.5-0.4 0.8-0.7 0.8 0.5 0.8-0.1 0.8 0.3 0.8-0.6 1.6 0.7 1.6-0.9 1.5 0.3" stroke="#0a0a0a" stroke-width="1.9" fill="none" stroke-linejoin="round" stroke-linecap="round"/>
</g>
<path d="M130.1 595.3v-6M130.1 343v3.8M181 595.3v-6M181 343v3.8M231.8 595.3v-6M231.8 343v3.8M282.6 595.3v-6M282.6 343v3.8M333.5 595.3v-6M333.5 343v3.8M155.5 595.3v-3M155.5 343v2.2M206.4 595.3v-3M206.4 343v2.2M257.2 595.3v-3M257.2 343v2.2M308.1 595.3v-3M308.1 343v2.2M113 564.4h6.3M350.6 564.4h-4.6M113 468.9h6.3M350.6 468.9h-4.6M113 373.4h6.3M350.6 373.4h-4.6M113 588.3h3.5M350.6 588.3h-2.4M113 540.5h3.5M350.6 540.5h-2.4M113 516.6h3.5M350.6 516.6h-2.4M113 492.8h3.5M350.6 492.8h-2.4M113 445h3.5M350.6 445h-2.4M113 421.1h3.5M350.6 421.1h-2.4M113 397.3h3.5M350.6 397.3h-2.4M113 349.5h3.5M350.6 349.5h-2.4" stroke="#111" stroke-width="1.3" fill="none"/>
<path d="M113 468.9H350.6M231.8 343V595.3" stroke="#111" stroke-width="1.5" fill="none"/>
<rect x="113" y="343" width="237.6" height="252.3" fill="none" stroke="#111" stroke-width="1.5"/>
<text transform="translate(103.6 571.4) scale(0.99 1)" font-size="19.7" text-anchor="end" >−1,000</text>
<text transform="translate(103.6 475.9) scale(0.99 1)" font-size="19.7" text-anchor="end" >0</text>
<text transform="translate(103.6 380.4) scale(0.99 1)" font-size="19.7" text-anchor="end" >1,000</text>
<text transform="translate(122.9 373) scale(1 1)" font-size="28" text-anchor="start" font-weight="bold">b</text>
<g clip-path="url(#clipc)">
<path d="M223.3 714.5l1.5-2.1 0.5-0.3 1-1.8 1.4-1.9 0.5-1 1.5-1.2 0.5-0.1 0.5-0.3 1.5-1.8 1.4-2.2 3.5-3.3 3.4-4.7 2-1.4 0.5-0.7 1.4-1 1-1.3 1-0.5 1-1.1 1-0.3 2.4-2.6 2.5-2.1 0.9-1.2 0.5-0.2 0.5-0.7 1-0.9 1-0.4 0.5-0.7 0.5 0.1 0.5-0.3 1.4-1.8 0.5-0.3 1-1.4 1.5-1 0.5-0.6 0.5-0.1 0.5-0.6 0.9-0.5 1-1 0.5-0.8 0.5-0.4 1.5-1.9 1.4-0.5 1-0.9 2-2.7 1-0.6 1.9-2.1 1-1.6 1-0.5 0.5-0.8 2-0.9 2.9-2.8 1.5-0.3 2.9-2.4 1-0.5 1.5-0.6 1-0.8 0.9-0.2 1-0.8 2.5-0.8 0.5 0 1.4-0.8 0.5-0.7 2-0.5 0.5-0.1 0.5 0.2 0.9-0.5 0.5 0.1 0.5-0.1 1-0.6 1-0.1 0.5-0.6 1.5-0.3 0.9-0.6 0.5 0.1 0.5-0.4 1-0.1 1.5-0.8 1.4-0.4 0.5 0.3 0.5-0.1 2-1.1 0.5-0.5 1.5 0 0.9-0.4 0.5 0.1 1-0.6 1.5-0.1 1-0.6 0.5 0.2 0.9-0.1 0.5-0.3 1 0.1 1-0.6 1.5 0.2 0.5-0.2 0.4 0.2 1-0.2 0.5 0.1 3.9-1.4 1 0.1 0.5 0.3 1 0.1 1.5-0.5 0.5-0.4 0.9-0.2 1 0.1 1-0.2 0.5-0.3 1 0.2 1-0.4 0.9 0.1 1-0.5 1 0.3 0.5-0.1 2.4 0.1" stroke="#ff1414" stroke-width="1.9" fill="none" stroke-linejoin="round" stroke-linecap="round"/>
<path d="M217.4 722.6l1.5-2.5 5.2-6.4 1-1.8 2.6-2.9 3-4.3 0.6-0.3 0.5-0.9 2-2.3 3.1-2.7 1-1.8 1.1-1.3 2-1.8 0.5-0.8 1.1-0.9 1-0.6 1.5-1.6 1.6-2.1 1-0.6 1.5-1.6 3.1-1.7 2.1-2.7 1-0.9 2.1-1 0.5-0.5 0.5-0.1 2.6-2.3 3-2.9 7.2-8.3 2.1-1.4 0.5-0.8 0.5-0.2 1-1.1 0.6-0.2 0.5-0.5 0.5-0.1 1-1.2 2.1-1.7 1.5-0.7 1.6-1.3 2.5-1.6 0.5-0.1 2.1-1.7 1-0.4 0.5-0.5 1.6-0.6 1-0.8 2.1-0.9 3-2 2.1-0.4 0.5-0.4 1.5-0.6 1.1-0.9 0.5 0 2-1 0.6 0.2 0.5-0.4 1-0.1 1.5-1.1 0.6 0.1 2-0.5 0.5 0.2 1.6-0.8 1 0.1 0.5-0.3 2.1-0.2 0.5-0.3 0.5 0 1-0.9 0.5-0.2 1.1 0.2 0.5-0.2 0.5 0.2 1.5-0.7 1-0.8 0.6-0.2 1.5-0.1 1 0.3 0.5-0.3 1.1 0.4 0.5-0.3 0.5 0.1 0.5-0.3 0.5 0 1.1-0.8 0.5 0.1 1.5-0.5 1 0.1 1.1-0.7 0.5 0.2 2-0.3 0.5 0.1 0.6-0.3 2.5-0.5 0.5 0.2 1.1 0 1.5 0.4 1.6-0.4 0.5 0.1 1.5-0.1 0.5-0.4 1-0.1" stroke="#ff1414" stroke-width="1.9" fill="none" stroke-linejoin="round" stroke-linecap="round"/>
<path d="M211.6 728.8l1.1-2 1.1-1.3 0.5-0.3 1.1-1.8 2.7-3.7 1-1.1 1.1-1.5 1.6-1.6 1.6-2 0.6-1 3.7-3.7 3.2-4.1 1.6-1.3 2.2-2.6 3.2-2.5 2.7-3.8 3.7-3.6 1.1-1.7 2.1-2.4 1.1-0.5 0.5-0.5 0.6-0.2 1.1-1 0.5-0.3 0.5-0.8 0.6-0.3 0.5-0.9 1.1-0.9 3.7-4.4 0.6-0.2 2.1-1.4 3.2-3 2.2-1.8 3.2-3 1.6-2.2 1.6-1.6 1.6-0.5 1.1-1.1 0.5-0.3 1.6-1.7 0.6-0.2 3.2-2.1 0.5-0.1 1.1-1 1.6-0.3 1.6-1 1.1-0.9 0.5-0.8 1.1-0.6 1.6-1.8 1.6-0.3 0.5 0 1.1-0.4 2.1-1.8 1.1-0.5 2.7-0.6 1.1-0.5 0.5-0.6 0.5 0 2.2-1.1 0.5-0.1 0.6-0.4 1-0.1 1.6-0.6 0.6 0.1 1.6-0.8 1.1-0.1 1-0.7 0.6 0 1-0.6 0.6-0.5 0.5 0.2 1.1-0.6 0.5 0.3 1.6-0.3 1.1 0.2 0.5-0.5 1.1-0.1 1.6-0.9 0.5 0.1 1.1-0.5 1.1 0.2 1.1-0.6 2.1-0.6 0.5 0.2 2.2-0.3 2.1-1.1 1.6-0.2 0.6 0.3 0.5-0.3 1.1 0 1.1-0.4 0.5-0.6 3.2 0.8 3.8-1.5 1-0.1 1.1-0.3 1.1 0.1 1-0.2 0.6 0.2 1-0.3" stroke="#ff1414" stroke-width="1.9" fill="none" stroke-linejoin="round" stroke-linecap="round"/>
<path d="M205.5 738.5l1.1-1.7 1.7-2 2.8-4.1 1.1-0.7 1.7-2 1.7-2.6 6.2-7.7 1.6-2.7 3.4-3.9 1.7-2.5 3.9-4.3 2.2-3 3.9-4.1 0.6-1 1.1-1.3 4.5-4.5 1.7-1.1 5.6-6 1.1-1 0.5-0.2 5.6-5.7 1.2-0.8 2.2-1 3.4-4.1 2.8-2.5 2.8-3.2 2.2-1.9 3.9-4 1.1-0.5 1.1-0.9 1.7-0.9 1.7-1.5 2.2-1 2.3-1.5 1.1-0.3 1.1-0.8 1.1-0.5 1.2-1.1 1.1-0.2 3.3-1.7 0.6-0.1 0.6-0.5 1.1-0.2 2.8-1.5 2.2-0.7 3.4-1.2 0.5 0 3.4-1.7 1.7-0.5 2.8-0.3 1.1-0.4 0.5-0.6 1.7-0.8 3.4-0.1 0.5 0.1 1.2-0.6 0.5 0 1.7-0.8 1.1 0.3 1.1-0.7 0.6 0.2 1.7-0.4 1.1 0.1 2.8-1 1.1-0.3 1.1 0.1 2.3-0.6 2.2 0.1 5.6-1 1.1 0 1.1 0.5 1.1-0.1" stroke="#ff1414" stroke-width="1.9" fill="none" stroke-linejoin="round" stroke-linecap="round"/>
<path d="M199.8 751.4l3.5-4.9 0.5-0.5 4.1-6.8 2.3-2.7 8.8-12.6 2.3-3 2.3-2.3 1.2-2 2.3-3.1 1.8-1.9 0.5-0.4 0.6-0.9 1.8-1.7 2.9-3.5 3.5-2.9 2.9-3 0.6-0.2 1.7-1.4 1.2-1.3 0.5-1 1.2-1.4 1.8-1.4 1.1-0.4 1.8-1.4 1.7-2.1 2.9-2.7 0.6-0.3 3.5-4.1 1.2-0.9 0.5-0.7 2.9-4.4 1.2-0.7 3.5-4.3 1.2-0.8 1.7-1.9 1.8-2.4 1.7-1.9 1.2-1 1.7-2.3 0.6-0.3 1.7-2.2 0.6-0.3 1.2-1.2 1.7-1.1 0.6-0.8 2.9-1.6 1.2-0.3 0.6-0.6 1.1-0.5 4.1-2.6 2.3-0.7 1.8-1.1 1.7-0.3 2.3-0.9 1.2-0.7 1.8-0.1 1.1-0.9 1.2-0.2 1.1-0.8 1.8-0.2 1.2-0.6 0.5 0 0.6-0.7 1.2-0.3 1.7-0.4 0.6 0.3 0.6 0 1.2-0.3 1.1 0.2 1.2-0.6 1.1-0.2 1.2-0.9 1.8-0.4 1.1-0.5 1.2-0.2 2.3 0.1 3.5-1.5 2.3-0.4 1.2 0.2 2.3-0.4 0.6-0.2 0.6-0.6 0.6 0.3 2.3-0.1 0.6 0.4 2.3-0.5 1.7-0.8 0.6 0 0.6 0.4 1.2-0.3 0.5 0.2" stroke="#ff1414" stroke-width="1.9" fill="none" stroke-linejoin="round" stroke-linecap="round"/>
<path d="M193.7 767.5l3-5.5 3.6-5.8 4.3-7.4 1.2-1.5 0.6-1.2 1.2-1.2 3.6-6 4.9-6.5 1.2-1.1 1.2-1.6 2.4-2.7 1.2-1 3.6-4.7 3.1-3.1 3.6-4.1 1.2-1 0.6-0.9 1.8-1.7 1.2-1.5 0.7-0.1 6.6-6.5 3-1.8 3.7-4 6-5.2 3.1-4.6 1.8-1.8 1.8-1.4 1.2-1.6 4.8-5.2 3.7-5.5 1.8-2.3 3.6-6.8 1.2-1.8 1.8-2.3 0.6-0.4 0.7-0.8 1.8-1.4 2.4-1.4 1.8-1.9 0.6-0.3 0.6-0.1 0.6-0.5 1.8-0.5 1.3-1 0.6-0.2 0.6-0.5 0.6-0.1 1.2-0.8 0.6-0.2 4.2-2.3 0.6 0 2.4-1 0.7 0 1.2-0.7 4.2-1.4 1.8-1 1.8-0.1 1.2-0.4 0.7 0.1 1.8-0.4 1.2 0 1.2-0.8 1.8-0.7 3.6-0.7 0.6-0.4 2.5-0.2 0.6-0.2 0.6 0.1 1.8-0.4 0.6 0.1 3-0.9 0.6-0.4 1.2-0.1 0.6 0.1 1.3-0.4 0.6 0 0.6-0.3 1.2-0.3 1.2 0.5 0.6-0.4 1.2-0.3 0.6 0.1 1.2-0.6 1.8 0.4 0.6-0.2 1.2 0.1" stroke="#ff1414" stroke-width="1.9" fill="none" stroke-linejoin="round" stroke-linecap="round"/>
<path d="M187.9 784.3l2.5-2.9 1.9-1.6 0.6-1.1 1.3-1.2 1.9-2.6 1.8-2.3 2.6-2.3 2.5-3.1 2.5-2.2 2.5-2.7 3.7-5.3 4.4-4.6 3.8-5.7 3.1-3.8 1.9-1.4 2.5-2.9 0.7-0.5 1.2-1.6 1.3-1.1 1.2-1.6 0.7-0.5 1.2-1.7 1.9-2.1 0.6-1.1 1.9-2 0.6-0.9 1.9-1.9 1.3-0.9 1.2-1.6 1.3-1.1 1.2-2.1 3.8-3.4 5.7-6.4 2.5-2.2 0.6-0.9 2.5-2.5 0.6-0.9 0.7-0.3 2.5-2.6 1.9-2.2 1.2-2.1 1.3-1.2 1.2-2.1 1.3-1.4 2.5-4.9 1.9-4.3 6.9-12.9 1.2-2.8 2.5-3.8 1.3-1.2 3.8-6.1 1.8-1.4 1.3-1.5 2.5-1.9 1.9-1.2 1.9-0.7 1.9-1.4 1.8-1.8 3.2 0.2 0.6-0.2 3.1-1.7 0.7-0.2 0.6 0.1 1.2-0.5 1.9-0.4 0.7-0.4 1.8-0.3 2.6-1 0.6 0 1.9-0.6 0.6 0.4 1.2-0.3 0.7 0.1 1.9-0.8 1.2 0.2 0.6-0.2 0.7 0.2 1.8-0.7 3.8-0.6 1.9-1 6.3-0.7 3.7-1 2.5 0.1" stroke="#ff1414" stroke-width="1.9" fill="none" stroke-linejoin="round" stroke-linecap="round"/>
<path d="M181.8 800l7.8-7.4 2.6-3.1 0.7-0.2 1.3-1.2 1.9-1.2 1.3-1 1.3-1.6 3.3-3 1.3-0.9 1.9-1.9 1.3-0.7 2-2.5 1.3-1.3 0.6-1.1 0.7-0.3 1.3-1.3 0.7-0.3 1.9-2.2 2-1.6 0.6-0.2 3.3-2.5 0.6-1 2-1.3 1.3-1.5 1.9-1.5 0.7-0.9 1.3-1 0.6-0.9 1.3-1.2 0.7-0.3 1.3-1.6 1.3-1.1 1.3-1.9 2.6-2.7 1.3-0.9 0.7-1 0.6-0.5 3.9-4.6 0.7-0.5 1.9-2.3 2.6-2.5 1.3-1.5 3.3-4.5 3.2-3.6 1.3-2.1 2-4.2 2.6-6.6 2.6-5.3 2-4.7 3.9-11 1.3-2.6 1.9-4.9 3.9-8.1 2.6-6.5 3.9-6 1.3-2.3 5.2-7.1 1.3-0.9 0.7-0.9 2-1.2 1.3-1.2 2.6-1.8 0.6-0.7 0.7-0.2 0.6-0.8 1.3-0.7 0.7-0.7 0.6-0.2 0.7-0.7 0.6 0 2.6-1.1 1.3-0.2 0.7-0.5 1.3-0.4 1.3-0.8 0.6 0 0.7-0.5 2.6-0.5 0.6-0.4 0.7-0.1 1.3-0.5 0.6-0.5 1.3-0.3 0.7 0 2-0.2 0.6-0.5 0.7 0.2 0.6-0.5 1.3-0.1 1.3 0.3 2-0.1 3.2-1.9 2-0.1 3.2 0.5 1.3-0.6 1.3 0 1.3-0.7 1.3-0.1 1.3-0.5 1.3 0.5 0.7 0.1 0.6-0.3 0.7 0.3 0.6-0.3 1.3-0.3" stroke="#ff1414" stroke-width="1.9" fill="none" stroke-linejoin="round" stroke-linecap="round"/>
<path d="M175.4 808.2l1.3-0.6 2-1.7 1.4-0.7 0.7-0.9 1.3-0.9 2-2.1 0.7-0.3 1.4-1.2 1.3-0.7 5.4-4.3 2.1-1.1 4-3.6 1.4-0.8 2-1.7 2-1.4 1.4-1.6 0.7-0.4 1.3-1.2 0.7-1 1.3-0.7 1.4-1.5 1.3-0.9 0.7-0.8 2-1.3 0.7-0.7 1.4-0.9 1.3-1.8 1.4-0.9 2-1.8 4.1-4.5 1.3-1.2 0.7-1 2.7-2.3 1.3-0.9 2.7-3 6.1-7.5 2.1-1.8 3.3-4.5 2.7-3.2 0.7-1.1 0.7-0.7 2-3.3 1.4-1.6 2.7-4.2 3.4-6.5 1.3-3.1 2.7-7.7 2-4.8 7.5-19.3 2.7-5.9 3.4-8.1 4-6.5 3.4-6.3 2.7-4.4 4.1-4.2 2.7-3.2 1.3-1.1 0.7 0 0.7-0.7 2-1 1.4-1.3 0.6-0.3 2.1-1.2 1.3-0.4 4.7-2.4 0.7-0.1 1.4-0.7 2-0.2 0.7-0.4 2 0.2 0.7-0.5 1.3-0.3 2.1-1 0.6 0.1 2.1-0.6 4-0.4 2-0.9 1.4-0.2 0.7-0.2 0.6-0.1 1.4 0.5 0.7-0.2 2-0.2 1.4-0.6 0.6 0 2.1-0.6 2-0.1 0.7 0.3 2.7-0.3 0.6-0.4 0.7 0.1 1.4-0.3 0.6 0.1" stroke="#ff1414" stroke-width="1.9" fill="none" stroke-linejoin="round" stroke-linecap="round"/>
<path d="M113.2 829.1l1.8 0 0.9-0.4 0.9 0.1 1.8-0.2 2.8 0.1 1.8-0.3 2.8-0.8 1.8-0.1 2.8-0.6 2.7-0.9 0.9 0 5.5-0.9 1.9-0.1 5.4-1.9 1.9-0.3 0.9 0.1 4.6-0.8 3.6-1.6 1.9-1 5.5-1.1 3.6-2.4 3.7-1.2 1.8-1 1-1 4.5-4 1.9-1 0.9-0.9 3.6-2.7 1-1.2 0.9-0.7 3.6-4.3 4.6-2.9 5.5-4.6 1.9-1 1.8-1.8 2.7-1.5 1.9-1.8 0.9-0.6 0.9-1 0.9-0.7 1.8-2 3.7-3 0.9-1 0.9-0.6 2.8-2.3 0.9-1 2.8-2 1.8-1.8 0.9-0.6 7.3-9.2 6.5-7.4 1.8-3 5.5-7.2 6.4-11.1 1.8-3.5 2.8-6 3.6-9.1 5.5-15.3 4.6-11.9 3.7-8 5.5-10.4 1.8-2.4 1.8-3.3 1.9-2.3 1.8-2.9 1.8-1.6 1.9-2.1 2.7-2.4 0.9-1 1.9-1.2 2.7-1.6 0.9-0.2 3.7-2.3 1.8-0.9 1.9-0.6 0.9 0.1 4.6-0.9 0.9-0.3 0.9 0.2 2.7-0.5 1 0.2 0.9 0 10.1-2.7 6.4-0.8 5.5-1.7 1.8 0 2.7-0.7" stroke="#ff1414" stroke-width="2.0" fill="none" stroke-linejoin="round" stroke-linecap="round"/>
<path d="M113.2 829.6l1.8 0 1.8-0.7 5.5-1 2.8-0.8 3.6 0 1.9-0.3 3.6-1.1 2.8-0.2 3.6-0.8 1.9-0.6 2.7-0.3 1.8-0.7 2.8-0.6 1.8-0.7 0.9 0.1 1-0.1 2.7-0.8 0.9 0.1 2.8-0.8 0.9-0.6 0.9-0.2 1.8-1.2 1.9-0.7 0.9 0 2.7-0.8 1-0.7 0.9-0.3 0.9-1 5.5-4.3 3.7-2.6 0.9-0.8 0.9-0.5 3.6-3.7 3.7-2.9 0.9-1.1 0.9-0.7 2.8-3.2 0.9-0.8 1.8-1.3 2.8-1.3 5.5-4.6 3.7-2.6 1.8-1.7 2.7-1.9 0.9-1.1 1.9-1.4 4.6-4.4 4.5-3.6 1-0.9 2.7-3.4 5.5-5.6 6.4-8.3 1.9-1.9 5.5-8.4 6.4-8.9 2.7-5 6.4-15.2 7.4-20.4 4.5-10.4 2.8-6.9 2.7-5.4 2.8-3.7 0.9-2 3.7-5.6 2.7-3.5 1.8-2.1 6.5-5.8 3.6-2.3 1.9-0.8 1.8-1 1.8-0.4 1.9-0.7 1.8-0.3 0.9-0.4 2.8-0.6 1.8-0.9 0.9-0.2 2.7-1.2 1.9-0.1 0.9-0.3 2.7 0.2 1-0.2 1.8 0 3.7-0.7 0.9-0.4 4.6-1.1 5.5-1 1.8-0.1 3.6 0.2" stroke="#ff1414" stroke-width="2.0" fill="none" stroke-linejoin="round" stroke-linecap="round"/>
<path d="M113.2 828.8l1.8-0.1 0.9 0.2 7.3-1 1.9 0.2 1.8-0.8 0.9 0 1.8-0.9 1-0.2 2.7-0.4 2.8 0.2 1.8-0.6 1.8-0.2 1.9-1.1 0.9 0.1 2.7-0.9 1.8 0.2 1-0.3 1.8-0.1 5.5-2.4 0.9-0.3 0.9 0 1.9-0.6 0.9 0.1 0.9-0.3 1.8-1 3.7-1.4 1.8-0.2 1.9-0.8 1.8-1.5 0.9-1 2.8-1.9 2.7-1.5 0.9-0.7 2.8-2.4 4.5-3.7 1.9-2.3 1.8-1.8 3.7-2.4 4.6-3.8 2.7-1.9 4.6-4.2 0.9-1.1 5.5-3.7 3.7-3.5 0.9-0.5 4.6-3.9 0.9-1 1.8-1.2 2.8-2.8 2.7-3.4 2.8-2.5 2.7-2.8 1.8-2.5 1.9-1.8 3.6-4.9 2.8-4.7 4.6-6.1 1.8-2.9 1.8-2.2 3.7-6 6.4-14.5 9.2-24.5 5.5-13.3 2.7-5.6 6.4-10.9 4.6-6 2.8-3 7.3-6 1.8-1.1 1.9-0.7 1.8-0.6 2.7-1.4 1-0.1 1.8-0.7 4.6-0.7 0.9-0.3 1.8-0.2 1.8-0.8 1.9-0.2 1.8-0.6 1.8-0.1 2.8-0.5 2.7-1 2.8-0.6 3.7 0 4.5-1.2 2.8-0.3 0.9-0.4 2.7-0.2" stroke="#ff1414" stroke-width="2.0" fill="none" stroke-linejoin="round" stroke-linecap="round"/>
<path d="M169.1 816.4l0.7-0.3 1.4-1.5 0.7-0.7 0.7-0.3 1.4-1.5 2.1-1.3 0.7-0.8 4.9-3.5 4.2-3.9 4.2-2.7 4.2-4.1 2.1-1.6 0.7-0.2 2.8-2.3 2.1-1.4 2.8-2.5 1.4-0.8 0.7-0.7 1.4-0.5 3.5-2.6 2.1-2.3 0.7-0.3 1.4-1.4 6.3-5.1 1.4-1.8 2.1-1.7 3.5-3.4 4.2-5.1 2.1-2.3 0.7-0.5 8.4-10.8 5.6-8.2 0.7-0.6 1.4-1.9 2.1-3.3 3.5-7.1 0.7-1 1.4-2.8 2.1-5.1 9.8-26.2 7-16.9 5.6-10.4 4.9-7.6 2.1-2.7 2.1-1.7 4.2-4.5 1.4-0.5 1.4-1.1 1.4-0.8 0.7-0.6 0.7-0.2 0.7-0.8 2.8-1.4 0.7-0.8 2.1-0.3 1.4-0.5 1.4 0.1 2.8-1 0.7 0.1 2.8-0.7 0.7 0 1.4-0.7 2.8-0.6 4.9-0.6 4.9-1.6 2.8 0 4.9-0.8 0.7 0.3 2.1-0.8 1.4-0.1 0.7-0.4 4.2 0.1" stroke="#ff1414" stroke-width="2.0" fill="none" stroke-linejoin="round" stroke-linecap="round"/>
<path d="M161.5 819.6l2.1-0.6 2.2-1.1 1.5-1.3 1.5-0.6 1.4-1 1.5-0.3 1.4-1.1 0.8-0.4 1.4-1.5 4.4-3 2.2-2.2 1.4-0.8 2.2-2.2 0.8-0.4 1.4-1.5 2.9-2.2 3.7-4.1 4.4-3 2.2-1.9 1.4-0.9 3.7-3 2.9-2 7.3-6 0.7-0.2 0.7-0.7 2.2-2.5 0.8-0.5 0.7-1 2.2-1.7 0.7-0.2 3.7-3.7 0.7-1.2 1.4-0.9 3-2.9 0.7-1.2 4.4-4.8 5.8-9.3 1.5-2 1.4-1.4 3-3.4 5.1-8.1 5.1-9.6 4.3-11.8 3.7-8.8 5.1-14.3 2.2-5.5 0.7-1.8 4.4-8.7 5.8-10.1 1.5-2 0.7-0.6 4.4-6 3.7-3.6 2.9-2.4 1.4-0.7 3.7-2.6 2.9-1.5 0.7-0.1 0.8-0.5 2.1-0.5 0.8-0.4 2.2-0.4 0.7-0.5 1.5-0.3 0.7-0.5 1.4-0.3 1.5 0 0.7-0.3 2.2 0.2 0.8-0.2 1.4 0.2 2.2-0.8 0.7 0 0.8-0.3 1.4-0.2 4.4-1.6 2.2-0.2 0.7 0.3 1.5-0.1 0.7-0.3 0.7 0.1 1.5-0.6 2.2 0 3.6-1.1 2.9-0.4" stroke="#ff1414" stroke-width="2.0" fill="none" stroke-linejoin="round" stroke-linecap="round"/>
<path d="M153.8 822l0.8-0.4 0.7-0.1 0.8-0.6 0.8-0.1 0.7-0.4 1.5 0 3.8-1.9 0.8-0.5 2.3-0.6 1.5-0.8 0.8 0 5.3-3.3 2.2-1 2.3-1.6 4.6-3.7 5.3-5.5 3-2.4 0.8-0.3 2.3-1.7 2.2-2.4 1.6-1.1 3-1.8 6.1-5.8 3-1.9 3.8-2.9 0.8-0.9 1.5-0.9 0.7-0.9 4.6-4.1 5.3-5.2 1.5-1.2 6.9-6.8 3-4.1 1.5-2.5 1.5-2.1 1.6-1.8 0.7-0.6 3.8-4.8 6.1-9.3 3.8-6.4 1.5-3.2 6.1-14.2 3-7.9 2.3-6.9 1.5-3.9 3-7.1 1.6-4 3.7-8.5 3.1-6 7.6-11.2 3-3.6 3.8-3.5 1.5-1 1.5-1.5 1.6-1 0.7-0.9 0.8-0.5 1.5-0.3 1.5-1.1 0.8-0.1 2.3-1.2 3.8-0.8 0.7 0.4 3.8-1.1 0.8-0.6 0.7 0 2.3-0.6 2.3-0.2 3-1 2.3-0.4 2.3 0.2 2.2-0.2 3.1-1 2.3-0.2 2.2-0.7 0.8-0.3 1.5-0.1 1.5-0.4 1.6 0.2 0.7-0.3 1.5 0 1.5-0.3" stroke="#ff1414" stroke-width="2.0" fill="none" stroke-linejoin="round" stroke-linecap="round"/>
<path d="M146.2 823.4l2.4-0.5 0.8-0.4 0.7 0 0.8-0.3 3.2-0.6 0.8-0.4 0.8-0.1 3.9-1.8 4-1.3 1.5-0.8 0.8-0.1 4-1.2 0.7-0.7 1.6-0.9 4.8-3.4 1.5-0.7 1.6-1.2 4-4.5 2.3-1.7 1.6-1.6 0.8-0.4 4.7-4.5 4-3.1 0.8-0.3 4.7-4.2 4.7-3.5 0.8-0.3 1.6-1.2 2.3-1.3 1.6-1.7 0.8-0.4 2.4-2.4 1.6-1.2 0.7-1 2.4-1.9 0.8-0.9 0.8-0.6 2.4-2.3 1.5-1.5 0.8-1.2 2.4-2.7 3.1-2.7 0.8-0.9 5.5-7.6 1.6-1.5 3.2-4.4 1.6-2.7 3.9-5.1 4.7-6.7 4-7.7 1.5-3.5 7.9-20.4 4.8-13 6.3-14.2 1.6-3.2 3.1-5.6 2.4-3.6 1.6-1.7 4.7-6.7 11-9.2 1.6-0.8 1.6-0.4 0.8-0.4 0.8-0.1 2.3-1.1 1.6-0.1 0.8-0.6 2.4-0.4 0.7-0.7 0.8-0.2 0.8 0.1 1.6-0.3 1.6 0.4 4.7-1.4 2.4-0.3 3.9-1 4.7-0.6 3.2-0.6 3.2-0.1 2.3-0.6 1.6-0.2 0.8-0.4 1.6-0.3 0.7 0.1" stroke="#ff1414" stroke-width="2.0" fill="none" stroke-linejoin="round" stroke-linecap="round"/>
</g>
<path d="M130.1 860.1v-6M130.1 607.8v3.8M181 860.1v-6M181 607.8v3.8M231.8 860.1v-6M231.8 607.8v3.8M282.6 860.1v-6M282.6 607.8v3.8M333.5 860.1v-6M333.5 607.8v3.8M155.5 860.1v-3M155.5 607.8v2.2M206.4 860.1v-3M206.4 607.8v2.2M257.2 860.1v-3M257.2 607.8v2.2M308.1 860.1v-3M308.1 607.8v2.2M113 829.2h6.3M350.6 829.2h-4.6M113 733.7h6.3M350.6 733.7h-4.6M113 638.2h6.3M350.6 638.2h-4.6M113 853.1h3.5M350.6 853.1h-2.4M113 805.3h3.5M350.6 805.3h-2.4M113 781.5h3.5M350.6 781.5h-2.4M113 757.6h3.5M350.6 757.6h-2.4M113 709.8h3.5M350.6 709.8h-2.4M113 686h3.5M350.6 686h-2.4M113 662.1h3.5M350.6 662.1h-2.4M113 614.3h3.5M350.6 614.3h-2.4" stroke="#111" stroke-width="1.3" fill="none"/>
<path d="M113 733.7H350.6M231.8 607.8V860.1" stroke="#111" stroke-width="1.5" fill="none"/>
<rect x="113" y="607.8" width="237.6" height="252.3" fill="none" stroke="#111" stroke-width="1.5"/>
<text transform="translate(103.6 836.2) scale(0.99 1)" font-size="19.7" text-anchor="end" >−1,000</text>
<text transform="translate(103.6 740.7) scale(0.99 1)" font-size="19.7" text-anchor="end" >0</text>
<text transform="translate(103.6 645.2) scale(0.99 1)" font-size="19.7" text-anchor="end" >1,000</text>
<text transform="translate(122.9 635.6) scale(1 1)" font-size="28" text-anchor="start" font-weight="bold">c</text>
<g clip-path="url(#clipd)">
<path d="M223.3 941.4l1-0.9 2-2.6 2.4-2.1 1.5-2 2-1.5 0.9-0.5 1-1.3 2-1.7 1-0.2 2.4-1.4 3-2.3 1.4-0.8 2.5-0.5 1.5-0.9 1.4-0.6 1 0.1 0.5-0.3 1-0.8 2.9-1.6 0.5-0.7 1.5-1.1 1-1.2 1-0.6 0.9-1 0.5-0.1 1.5-1 2-0.6 0.5-0.4 0.5 0 1.4-0.8 0.5-0.5 0.5 0.1 0.5-0.6 1-0.4 0.5-0.5 1-0.2 0.4 0.1 1.5-0.5 1-0.7 1-0.4 1 0 0.9 0.3 0.5-0.4 0.5 0 0.5-0.5 1 0 0.5-0.4 1.5-0.1 1.4-0.7 1-0.1 1.5-0.8 1-0.1 0.5-0.2 0.9 0.3 1-0.1 1-0.4 1-0.7 1-0.4 2.4-0.2 1 0.1 2-1.5 0.5-0.1 0.9-0.7 1.5-0.2 1-0.4 1 0.2 1.9-0.6 1.5-0.8 3.4-0.6 1 0.1 1.5-0.2 0.5-0.3 0.5-0.1 0.5-0.4 1-0.1 0.4-0.3 0.5 0 0.5-0.2 1 0.2 2-0.3 1.4-0.7 0.5 0.2 1-0.2 1.5 0.2 0.5-0.2 1 0 1.4-0.5 3 0.2 1-0.5 0.9-0.2 2.5 0.4 1-0.6 1-0.1 0.9-0.4 2 0.8 0.5 0.3 0.5 0 1-0.1 1.4-0.9 0.5 0.1 1-0.5 0.5 0.1 1.5-0.4 1 0.5 0.5 0 0.4 0.4 1-0.4 0.5 0.1 0.5-0.3 0.5 0.1 0.5-0.2 1.9 0" stroke="#0a14ff" stroke-width="1.9" fill="none" stroke-linejoin="round" stroke-linecap="round"/>
<path d="M217.4 947.1l1-1.1 1-0.5 0.6-0.9 1.5-1.4 1-1.5 1.1-0.8 1-1.3 2-2.1 1.6-1.1 1-0.4 1.5-2.1 0.6-0.2 1-1.4 1-0.8 0.5-0.2 0.5-0.8 1.1-0.4 0.5 0 3.1-2.8 1.5-0.7 3.6-2.5 0.5-0.2 0.5-0.8 1.6-1.2 1-0.5 1 0.1 1.1-0.5 1.5-1 0.5-0.6 3.1-1.9 1.5-0.4 1.6-1 0.5 0 2-1.3 0.6 0 1.5-1.4 0.5 0.1 1.6-0.7 1-0.2 0.5-0.5 1-0.2 0.5-0.4 1.6-0.5 2-1.3 0.5 0 1.1-0.6 1-0.2 0.5 0.3 0.5-0.4 1.1 0.1 1-0.5 0.5-0.5 1-0.3 0.5-0.5 1.6-0.5 2 0 3.1-1.1 1 0.3 1.1-0.6 1-0.2 1.5-1.2 1.1-0.4 1.5 0.4 0.5-0.3 1.1-0.1 3.5-1 1.1-0.8 0.5 0.1 1-0.3 2.1-1 1.5-0.3 2.1-0.1 2-0.7 0.5-0.1 1.1-0.5 1 0 3.1-0.8 0.5-0.3 1.5 0.1 0.5-0.1 1.1 0.1 0.5-0.2 1-0.1 0.5 0.1 0.5-0.2 1.1 0.2 1-0.2 1-0.6 2.1-0.1 1 0.2 1-0.7 1.1-0.2 1-0.1 1 0.6 0.5 0 1.1-0.4 0.5 0.2 1.5-0.5 0.5 0.2 0.5 0 1.6-0.6 0.5 0.2 5.1-1 0.5 0.2 0.6-0.2 2 0.5 2.6-0.7 1.5 0.2 1-0.1" stroke="#0a14ff" stroke-width="1.9" fill="none" stroke-linejoin="round" stroke-linecap="round"/>
<path d="M228.4 935.1l0.5-0.6 0.5 0 2.3-1.5 0.5-0.6 0.5-0.1 0.4-0.5 1-0.6 1.4-1.5 0.9-0.3 0.5-0.4 0.5 0.1 0.4-0.4 0.5 0.1 2.4-1.7 3.3-2.8 1.4-0.7 1.4-0.2 1.4-0.6 1.9-1.7 0.5-0.1 0.9-0.7 1.4-0.3 1-0.5 0.4 0 1-0.4 4.2-2.9 1-1 1.4-0.4 0.4-0.5 1 0 0.9-0.8 1.4-0.5 3.3-2.2 1 0.1 0.4-0.5 1.5-0.5 0.9-0.9 0.5 0.1 0.4-0.5 2.4-0.2 0.5 0.2 0.9-0.7 1.4-0.2 1-0.5 0.4-0.1 1.5-1.3 0.9 0.1 1.4-0.3 0.5 0.2 0.9-0.4 1.4-0.2 1.5-1.1 1.4-0.6 1.9 0.1 0.9-0.3 0.9 0 1-0.7 0.9-0.3 1-0.8 0.9 0.1 0.9-0.3 1 0.2 0.9-0.3 1.4 0 2.9-1.3 0.9 0.2 1.9 0.1 1.9-1 0.9-0.2 1 0.1 1.4-0.3 1.9-0.9 1.4 0 0.5 0.2 1.8-0.5 1-0.6 1.4 0 0.5-0.4 1.8-0.2 0.5-0.2 0.5 0.1 0.9-0.3 0.5 0.3 0.5 0 1.9-0.6 0.9-0.5 0.5 0 0.4-0.2 2.9 0.1 2.3-0.6 1 0 2.8 0.8 1.4 0 0.5 0.2 2.3-0.7 0.5-0.3 1.4 0.3 0.5 0.3 0.9 0.1 0.5-0.3 1.9 0 0.9 0.7 1.4-0.4" stroke="#0a14ff" stroke-width="1.9" fill="none" stroke-linejoin="round" stroke-linecap="round"/>
<path d="M210.8 956.5l2.1-3 0.6-0.2 0.5-0.8 1.1-0.9 3.2-5.2 1.6-1.7 1.7-1.3 2.1-2.7 0.6-0.3 1.6-1.8 1.1-0.7 0.5-0.9 1.6-1.5 0.6-1 3.7-3.7 3.8-2.9 1.1-0.4 3.2-1.9 3.3-2.7 1 0 2.2-0.9 1.1-0.8 0.5-0.1 1.1-0.9 2.1-1.1 3.3-2.2 0.5-0.1 2.2-1.1 0.5-0.1 4.3-2.3 1.6-0.4 1.1-0.7 0.6-0.1 4.8-3 1.1-0.1 3.8-1.7 1.6-0.3 1.1-0.6 0.5 0.1 1.6-0.8 1.6-0.4 0.6 0.1 0.5-0.4 1.1-0.2 3.2-1.5 1.1-0.2 1.6 0.1 1.6-0.4 1.1-0.7 1.1 0.1 2.2-0.9 1-0.7 1.1 0.1 1.6-0.3 1.1-0.4 0.6-0.5 1-0.2 1.1 0.2 1.6-0.2 1.1-0.6 1.6 0 1.1-0.5 0.5 0 0.6-0.2 1.6-0.1 1.1 0.3 2.1-0.6 3.3-0.3 0.5-0.5 0.6-0.2 1 0.2 1.1-0.3 1.1 0.4 0.5 0 1.6-0.6 0.6 0 0.5-0.4 0.6 0 0.5-0.4 1.1 0.4 0.5-0.1 0.6 0.3 3.7-1.3 2.2 0.5 0.5-0.2 1.1 0.3 1.1-0.6 0.5 0 1.1-0.4 0.5-0.4 0.6-0.1 0.5 0.3 0.6-0.2 0.5 0.2 0.5-0.1 1.1 0.5 0.6-0.4 1-0.1 0.6 0.2 1.1-0.6 1 0.3 1.6 0.1" stroke="#0a14ff" stroke-width="1.9" fill="none" stroke-linejoin="round" stroke-linecap="round"/>
<path d="M205.5 967l2.8-5.2 3.4-4 2.8-3.9 3.3-4.2 1.2-1.8 1.6-1.9 0.6-1 1.7-1.9 1.1-1.6 0.6-0.4 0.5-1.1 0.6-0.4 1.6-1.9 0.6-1 0.6-0.1 2.2-2.6 3.4-2.4 2.2-2.4 2.2-1 0.6-0.6 0.6-0.2 2.2-1.8 0.6 0 0.5-0.7 1.1-0.3 1.7-1.2 0.6 0 1.1-1.3 1.1-0.3 1.7-1.3 0.6-0.1 2.2-1.8 1.7-0.5 0.5-0.3 0.6 0 2.2-1.7 1.1-0.6 1.2-0.2 1.6-1.2 3.4-1 1.7-1.1 1.1-0.4 3.4-2.6 1.6-0.5 2.3 0 1.1-0.4 2.2-1.4 2.8-0.7 0.6 0 1.7-0.6 0.5 0 2.3-1.1 1.1-0.2 1.1-0.7 2.2-0.9 1.2 0 0.5-0.3 0.6 0.2 1.1-0.5 1.7 0 2.8-0.6 0.5 0.1 2.3-0.8 0.5-0.1 0.6-0.4 2.2-0.5 0.6-0.4 0.5 0 0.6-0.4 1.1 0 0.6-0.3 2.8-0.3 1.7 0.4 1.1-0.1 1.1-0.4 1.1-1 3.4 0 1.1-0.5 0.6 0.2 1.1-0.4 0.5 0.2 1.7 0 0.6-0.2 0.5 0.1 1.1-0.5 0.6 0.2 0.6-0.4 0.5 0.2 1.7-0.2 2.8-0.5 0.6 0.1 1.1-0.4 1.1 0.1 2.2-0.4 0.6 0.2 0.6-0.5 2.2 0.4 0.6-0.4 0.5 0.3 1.7-0.4 1.7-0.2 0.5 0.2 1.2-0.2 0.5 0.2 1.7-0.1 0.5 0.3" stroke="#0a14ff" stroke-width="1.9" fill="none" stroke-linejoin="round" stroke-linecap="round"/>
<path d="M200.8 982.9l1.1-2.5 1.2-1.6 5.8-11 3.4-5.4 2.9-5 2.3-3.1 4.1-6.7 1.1-1.4 0.6-0.4 1.8-2.4 1.7-2.8 2.3-2.4 3.5-4.2 1.1-0.9 3.5-2.2 1.1-1.1 2.9-1.7 1.2-1 0.6-0.2 0.5-0.5 0.6-0.9 1.8-1.1 1.1-1.3 0.6 0 0.6-0.6 1.1-0.6 2.3-0.9 1.8-1.2 1.7-0.8 1.7-1.1 1.8-1.4 2.3-1.5 0.6-0.2 0.5-0.6 1.8-0.7 1.1-0.9 0.6-0.1 1.2-0.8 3.4-1.3 1.8-1.3 0.5-0.3 1.8-0.2 0.5-0.3 1.2 0.2 1.2-0.8 1.1 0 0.6-0.4 1.1-0.5 0.6 0.1 0.6-0.6 0.6-0.2 1.7-0.3 0.6-0.4 1.2-0.1 1.1-0.8 1.2-0.2 3.4-1.5 0.6 0.2 1.2-0.3 0.5 0.2 0.6-0.4 0.6 0.1 0.6-0.7 2.3-0.2 0.6-0.3 0.5 0.2 0.6-0.2 1.8-0.9 1.1-0.5 2.3-0.5 1.8-0.7 1.7 0.1 1.7-0.2 4.1-0.9 0.5 0.2 0.6-0.2 1.2 0.2 0.6-0.4 2.3-0.5 0.5-0.1 0.6 0.2 1.2-0.5 0.6 0.1 0.5-0.3 1.2-0.2 2.3 0.1 0.6-0.3 0.6 0.1 2.3-0.3 0.5 0.1 0.6-0.4 2.9-0.3 0.6 0.2 1.1-0.3 0.6 0.1 1.2-0.3 0.6-0.4 1.1 0.1 0.6-0.4 1.1-0.2 0.6 0.3 1.2-0.1 0.6 0.3 0.5-0.1 0.6 0.3 1.7 0 1.8-0.5 0.6 0.1 1.1-0.6 1.7 0.2" stroke="#0a14ff" stroke-width="1.9" fill="none" stroke-linejoin="round" stroke-linecap="round"/>
<path d="M195.9 1011.8l4.1-9 3.6-7 2.4-3.9 1.2-1.6 1.8-3.1 1.8-2.6 4.2-5.1 3.5-5.5 1.8-2.1 3.6-5.3 0.6-0.4 1.2-1.4 4.2-6.5 1.2-0.7 0.6-1 1.8-1.9 1.2-1.9 3.5-3.6 0.6-1.1 3-3 0.6-0.2 1.2-1.3 0.6-0.4 1.8-1.8 2.4-3 3.6-2.5 1.8-1.7 1.2-0.7 0.6-0.8 1.1-1.1 1.2-0.7 0.6-0.7 0.6-0.1 0.6-0.6 0.6-0.1 0.6-0.7 2.4-1.1 3-2.3 2.4-1.4 1.2-1.1 3-2.1 0.6 0 2.3-1.3 1.2-1.1 0.6-0.3 0.6-0.6 0.6-0.4 0.6-0.7 1.2-0.6 2.4-2.3 2.4-2.9 1.2-1.8 3.6-2.6 1.2-1.6 1.8-1.3 1.1-0.4 1.2-0.8 2.4-1.1 0.6 0.2 3-0.5 1.8-0.8 1.8-0.1 0.6-0.5 0.6 0.1 2.4-0.5 0.6 0.1 0.6-0.5 0.6 0.2 2.3-0.5 0.6 0 0.6-0.2 0.6 0 0.6-0.3 1.2 0.1 2.4-0.2 1.2-0.4 1.2 0.1 2.4-0.2 1.2-0.8 1.8-0.5 1.2 0 0.6 0.3 1.2-0.4 4.1 0 1.2-0.5 1.2 0 3.6-0.6 3.6 0.3 1.8-0.5 0.6 0.2 1.2-0.3 1.2 0.3 1.2-0.2 1.1 0.4" stroke="#0a14ff" stroke-width="1.9" fill="none" stroke-linejoin="round" stroke-linecap="round"/>
<path d="M190.6 1046.1l1.2-1 3.1-3.6 0.6-0.5 3.8-4.7 0.6-0.5 4.3-4.8 0.6-0.3 0.6-0.8 0.6-0.3 1.3-1.1 3.1-3.6 1.2-1 1.2-1.5 3.7-3 1.3-1.2 1.2-1.6 3.7-3.6 3.7-4.7 0.6-0.4 1.3-1.5 0.6-0.5 4.9-6.1 3.7-3.8 2.5-3.8 7.4-9 1.8-3 1.9-2.3 0.6-0.5 3.1-3.6 3.7-5.4 2.5-2.6 1.8-2.4 1.3-1.3 2.4-1.9 2.5-3.3 3.1-3.2 1.2-1.7 1.2-2.2 1.9-2 0.6-1 1.2-1.2 0.7-1 1.8-2.3 2.5-3.9 2.5-5 1.2-2.9 4.3-8.1 6.8-9.1 1.8-1.8 2.5-3 3.7-2.7 1.9-1.9 0.6-0.2 1.2-1.1 1.9-1.2 0.6-0.7 3.1-1.7 1.2-0.4 0.6-0.5 0.6-0.1 0.7-0.5 1.2-0.2 1.2-0.5 0.6-0.5 0.7-0.1 1.2-0.6 1.8-0.1 1.3-0.4 1.8-0.2 1.9 0.5 1.8 0.1 1.3-0.6 1.2 0.1 1.2-0.4 1.3 0.4 0.6-0.3 1.2-0.1 1.3-0.6 1.2 0 0.6-0.2 0.6 0.2 1.9-0.1 1.8-0.3 1.3 0.4 1.2 0 1.2 0.3 0.6-0.2" stroke="#0a14ff" stroke-width="1.9" fill="none" stroke-linejoin="round" stroke-linecap="round"/>
<path d="M185.4 1071.3l2.5-1.8 1.3-0.3 2.5-1.1 0.7-0.5 0.6-1 1.9-1.1 1.3-0.5 0.6 0 1.3-0.6 5.1-3.9 0.6 0 1.3-1.1 1.3-0.8 0.6-0.1 0.7-0.5 0.6 0 3.8-2.9 1.9-0.9 2-1.5 1.2-0.6 0.7-0.6 0.6-0.2 1.3-1.3 1.9-1.2 1.3-1.2 0.6-0.2 0.6-0.7 0.7-0.4 2.5-2.3 4.5-2.5 1.9-1.9 1.9-1.7 3.2-1.7 1.9-1.9 3.2-2.4 1.3-1.4 1.2-1 2.6-3.1 3.8-3.9 2.6-3.3 1.9-2.8 3.2-5.5 2.5-5.1 5.1-11.9 3.8-11.9 3.2-7.7 6.4-13.2 5.7-10 5.8-10.9 6.4-9.8 4.4-7.5 1.3-1.5 3.8-5.4 2.6-2.5 1.9-2.3 2.5-3.6 1.3-1.5 0.6-0.4 0.7-0.8 3.8-2.7 0.6-0.3 2.6-2.3 0.6-0.2 0.7-0.6 1.2-0.7 2.6-0.8 1.3-0.7 1.9-0.3 0.6-0.3 1.3 0 1.9-0.6 0.6 0.2 3.9-1.4 0.6 0.2 1.9-0.4 1.3 0.3 0.6-0.2 1.3 0.2 2.5-0.1" stroke="#0a14ff" stroke-width="1.9" fill="none" stroke-linejoin="round" stroke-linecap="round"/>
<path d="M180.1 1082.6l2.6-0.5 2-0.7 2-1.1 2-0.3 0.6-0.4 2-0.6 0.6-0.5 3.3-1.9 4.6-1.5 0.7-0.5 1.3-0.5 0.7-0.6 1.9-0.8 0.7-0.7 4.6-1.4 2.6-1.8 0.7 0 3.3-1.7 0.6-0.1 3.3-1.5 4-2.4 3.9-2 2-1.7 1.3-0.7 2.6-0.8 0.7-0.8 3.3-2.7 2-1.1 1.3-1.7 2.6-2.6 1.3-0.7 3.3-3.3 6.6-10 4.6-9.5 2.6-7.9 6.6-22.3 5.3-12.7 3.9-7.4 3.3-7 2.6-4.4 1.3-1.8 1.4-2.7 1.3-1.9 1.3-3 1.3-1.9 1.3-2.8 3.3-5.5 6.6-12.2 9.2-13.8 0.6-0.6 3.3-4.5 3.3-5.3 2.7-2.6 0.6-0.3 1.3-1.5 1.3-0.8 1.4-1.2 5.2-2.9 1.3-0.3 1.3-0.7 0.7-0.1 2-1.2 1.3 0.1 0.7-0.3 1.3-0.2 1.3-0.7 1.3-0.2 0.7 0 0.6-0.2 1.3 0.2 1.3-0.2 0.7-0.4 3.3-0.2 0.6 0.1" stroke="#0a14ff" stroke-width="1.9" fill="none" stroke-linejoin="round" stroke-linecap="round"/>
<path d="M175.9 1087.5l1.3-0.2 0.7 0.1 0.7-0.3 3.3-2 0.7 0 0.7-0.4 0.7 0.1 1.3-0.6 2-0.2 2-1.1 2.1-1.4 1.3-0.2 2.7-1 1.4-1 2.7-1.4 0.6-0.1 3.4-0.9 0.7-0.4 2-0.5 0.7-0.5 1.3-0.3 2-1.4 0.7-0.2 1.4-1.1 1.3-0.7 0.7-0.1 1.3-0.8 2.1-0.3 1.3-0.8 0.7-0.1 1.3-0.8 0.7-0.7 1.4-0.6 0.6-0.5 3.4-2 0.7-0.1 2.7-1.5 2-1.5 2.7-1.3 1.3-1.1 0.7-0.2 3.4-2.8 1.3-1.5 0.7-0.3 2.7-2.2 0.7-0.3 1.3-1.5 2-2.3 6.1-9.8 4.1-9.4 2.6-7.1 2.1-7 3.3-14.8 1.4-7.3 3.4-22.1 3.3-17.2 2.7-11.4 1.4-3.2 2-3 1.3-1.4 2.1-3.4 4-9.3 0.7-1.2 2.7-3.5 3.4-4.9 4-3.2 2-1.3 5.4-5.1 0.7-0.1 2-1.5 1.4-0.5 2-1.2 2.7-0.8 2.7-1.4 3.3-0.1 2.7-1.1 3.4-0.8 1.4 0.1 1.3-0.2 0.7 0.1 4-0.8 4.7 0.1 0.7-0.3 3.4-0.4 4 0.3 2-0.5" stroke="#0a14ff" stroke-width="1.9" fill="none" stroke-linejoin="round" stroke-linecap="round"/>
<path d="M113.2 1100.5l1.8-0.3 6.4-0.2 0.9-0.3 5.5-0.4 1.8-0.5 1.9-0.1 2.7-0.8 1.9-0.1 5.5-1.2 0.9 0.1 1.8-0.1 0.9-0.3 1.8-0.2 1-0.5 1.8-0.5 1.8-0.2 3.7-0.9 1.8-0.8 2.8-0.2 0.9-0.4 0.9 0.4 1.8-0.3 1.9-0.6 0.9 0 2.7-1.2 1.9-0.6 1.8-1 4.6-1.6 3.7-0.6 3.6-1.6 1.8-0.5 1.9-0.2 1.8-0.6 3.7-1.5 0.9 0 1.8-0.8 5.5-1.5 1.9-0.9 0.9-0.1 0.9-0.7 0.9-0.1 2.8-1.1 6.4-3.7 3.6-1.7 5.5-3.1 1.9-0.7 1.8-1.3 3.7-2.3 1.8-0.9 3.7-3.1 0.9-0.4 2.7-2.1 1.9-1.7 0.9-1.1 0.9-0.7 1.8-2.2 0.9-0.7 4.6-6.7 2.8-4.7 2.7-5.6 1.8-4.3 2.8-7.9 2.7-9.6 1.9-7.6 1.8-8.7 3.7-24.3 1.8-11 4.6-25.4 2.7-13.4 1.9-7.3 1.8-4.3 0.9-1.6 2.8-3.8 1.8-1.6 1.8-1.2 2.8-1.3 0.9-0.1 0.9-0.5 0.9 0.1 2.8-0.4 0.9-0.5 0.9 0.2 3.7-1.3 2.7-0.6 3.7-0.6 2.7-0.2 1-0.4 0.9-0.1 3.6-1.4 0.9 0 1-0.4 4.5-0.4 1.9-0.5 1.8 0.3 1.8-0.3 1 0.4 1.8 0 0.9-0.3 1.8-0.1 1-0.3 1.8-0.2 0.9 0.3 2.8 0 5.4-0.9" stroke="#0a14ff" stroke-width="1.9" fill="none" stroke-linejoin="round" stroke-linecap="round"/>
<path d="M113.2 1100.2l4.5-0.6 0.9 0.2 3.7-0.1 1.8-0.3 1.9 0.4 6.4-1.6 0.9 0.2 3.7-0.7 0.9 0 2.7-0.7 5.5-0.6 3.7-1.2 5.5-0.7 0.9-0.4 5.5-1.3 4.6-1.6 2.7-0.7 1 0 0.9-0.4 4.6-1.2 1.8-0.3 0.9-0.3 0.9-0.7 0.9-0.1 2.8-1.6 2.7-0.8 0.9-0.1 1-0.4 2.7-0.2 0.9-0.3 2.8-0.4 0.9-0.8 3.7-1.4 0.9-0.7 0.9 0 1.8-0.9 2.8-0.9 0.9-0.7 1.8-0.6 2.8-1.4 0.9 0.1 1.8-1.1 1.8-0.6 1-0.7 2.7-1.1 4.6-2.9 0.9-0.2 1.8-1 1 0 1.8-0.8 1.8-1.7 0.9-0.4 2.8-2.3 0.9-0.5 2.8-1.9 0.9-1.1 0.9-0.4 0.9-1 2.8-2.1 3.6-3.5 3.7-5.1 0.9-1 3.7-5.8 0.9-1.6 2.7-6.2 2.8-7.6 1.8-6.9 2.8-13.2 1.8-10.1 3.7-23.7 7.3-41.2 2.7-12.5 0.9-3.2 1-2.6 1.8-3.3 2.7-3.4 1-0.8 1.8-1.1 1.8-0.8 0.9 0 6.5-2.6 1.8 0 1.8-0.7 1.9-0.3 1.8-0.9 0.9 0.2 1.8-0.4 1.9 0.2 2.7-0.8 2.8-1.2 0.9 0.1 1.8-0.4 0.9 0.2 0.9-0.2 3.7-0.3 0.9-0.2 0.9 0.2 1.9-0.5 1.8-0.2 1.8-0.6 1.9 0.5 0.9-0.1 0.9-0.4 1.8 0.2 1.9-0.4 2.7 0.2 3.7-0.5 2.7 0.1 0.9-0.3" stroke="#0a14ff" stroke-width="1.9" fill="none" stroke-linejoin="round" stroke-linecap="round"/>
<path d="M113.2 1100.5l1.8 0.1 0.9-0.2 0.9 0.1 1.8-0.5 8.3-0.6 1.8-0.3 0.9 0 1.9-0.7 1.8-0.4 0.9 0.2 0.9-0.4 1 0.1 1.8-0.1 1.8-0.6 0.9 0 1.9-0.7 8.2-1 1.8-0.4 1.9-0.9 1.8-0.6 2.8-0.2 4.5-1.6 5.5-0.7 1.9-1 0.9-0.1 2.7-1.3 1 0 2.7-1.1 0.9-0.2 2.8-1 1.8-0.2 0.9-0.6 2.8-1 0.9-0.7 2.7-0.9 0.9-0.3 2.8-0.3 1.8-0.6 1.9-0.3 0.9-0.6 1.8-0.4 1.8-0.9 1.9-0.3 1.8-1.2 0.9-0.3 0.9-0.1 1.9-1.1 1.8-0.5 1.8-1.3 1.9-0.8 2.7-1.7 2.8-1.1 0.9-0.6 0.9-0.4 0.9-0.1 2.8-1.5 1.8-0.7 3.7-2.5 2.7-2.3 0.9-0.4 2.8-2.1 0.9-0.4 6.4-6.1 2.8-3.3 2.7-4.3 1.8-2.4 3.7-6.4 3.7-9.5 0.9-2.9 1.8-6.3 0.9-3.9 2.8-13.8 0.9-5 4.6-29.5 4.6-25.5 3.6-18.6 1.8-7.4 1-2.6 1.8-3.4 3.7-4.1 1.8-1.3 5.5-2.4 1.8-0.9 0.9-0.3 1 0 1.8-0.8 1.8-0.5 1.9-0.4 0.9 0.3 1.8-0.2 0.9 0.2 1.9-0.3 1.8-0.7 2.7-0.7 5.5-0.2 0.9-0.4 1.9-0.1 2.7-0.8 5.5-0.8 0.9 0.1 1.9-0.3 0.9 0.2 3.7 0.1 6.4-1.3 4.5 0.3" stroke="#0a14ff" stroke-width="1.9" fill="none" stroke-linejoin="round" stroke-linecap="round"/>
<path d="M113.2 1100.6l0.9-0.3 1.8-0.1 3.7-0.6 3.6-0.3 2.8 0 1.8-0.2 1.8-0.7 2.8-0.1 0.9-0.3 2.8 0.1 1.8-0.4 2.7-0.1 5.5-2 0.9 0 1-0.3 1.8 0.2 1.8-0.2 0.9-0.3 1 0 3.6-1.3 0.9 0.1 1.9-0.3 5.5-2.4 0.9-0.1 0.9-0.5 5.5-0.6 3.7-1.8 1.8-0.4 0.9-0.5 2.8-0.6 1.8-0.7 0.9-0.1 1.8-0.9 1.9-0.3 1.8-0.6 1.8 0 1.9-0.7 0.9 0.1 0.9-0.3 14.7-7.2 3.6-1.1 1.9-0.9 1.8-1.3 0.9-0.4 0.9-0.6 3.7-1.4 3.7-2.9 1.8-1 1.8-0.6 3.7-2.3 1.8-1.6 1.9-1.1 3.6-3 2.8-3 1.8-1.5 3.7-3.7 0.9-1.2 2.7-4.6 3.7-6.8 2.7-7.1 4.6-13.3 1.9-6.5 2.7-12.6 3.7-23.6 7.3-40.7 3.7-16.8 0.9-2.8 1.8-3.8 3.7-4.5 0.9-0.9 3.7-2.5 0.9-0.5 2.7-0.5 0.9 0 1-0.4 2.7-0.8 0.9-0.1 0.9-0.4 1 0 0.9-0.3 2.7-0.4 0.9 0.1 1-0.2 0.9 0.2 2.7-0.9 0.9 0 3.7-0.9 1.8-0.7 3.7-0.6 3.7 0 0.9-0.2 1.8 0.1 2.8-0.6 0.9 0 1.8-0.4 0.9 0.2 5.5-0.1 1.9-0.4 3.6-0.4 1.8 0.5" stroke="#0a14ff" stroke-width="1.9" fill="none" stroke-linejoin="round" stroke-linecap="round"/>
<path d="M169.1 1091l2.1-1.2 1.4-0.4 0.7-0.5 4.9-0.6 2.1-0.7 0.7-0.8 0.7-0.2 2.1-1 2.1 0.1 0.7-0.2 0.7 0.2 2.1-0.5 0.7-0.7 1.4-0.6 0.7-0.2 0.7-0.5 1.4-0.2 1.4-0.6 1.4-0.2 0.7-0.5 1.4-0.5 0.7 0 1.4-0.8 0.7 0.2 1.4-0.4 0.7-0.5 1.4-0.5 0.7-0.6 4.2-1.4 1.4-0.9 1.4-0.5 0.7-0.1 2.8-1.2 1.4-1 3.5-1.8 3.5-1.2 1.4-0.9 2.1-1.8 2.8-1 1.4-0.9 1.4-1.3 0.7-0.3 2.1-1.8 1.4-0.8 3.5-3 1.4-1.6 2.1-1.6 2.1-2.4 3.5-4.4 2.1-3 3.5-6.5 2.8-7.1 3.5-9.6 2.8-10.1 3.5-15.8 3.5-22.5 4.9-28.6 4.9-24.4 1.4-5.7 0.7-2.1 1.4-2.7 2.8-3.5 1.4-2.4 2.8-2.4 1.4-0.3 1.4-0.6 2.1-0.4 0.7-0.4 1.4-0.4 1.4-0.2 2.1-0.7 1.4 0.2 1.4-0.5 1.4 0.4 1.4-0.5 1.4-0.2 2.1-0.7 2.1-0.4 0.7 0 0.7-0.3 2.1-0.4 1.4-0.6 1.4 0.2 1.4-0.6 1.4-0.1 1.4-0.6 1.4 0 0.7 0.3 1.4-0.3 2.1 0.1 0.7-0.3 1.4 0.1 0.7-0.3 3.5-0.1 0.7 0.3 2.1-0.8 4.9 0.1 2.1-0.4 2.1 0.3 1.4 0.5" stroke="#0a14ff" stroke-width="1.9" fill="none" stroke-linejoin="round" stroke-linecap="round"/>
<path d="M160.6 1092.8l2.2-0.5 1.5-0.1 0.7-0.5 1.5-0.3 1.4-0.7 2.2-0.3 3.7-1.6 2.9-0.4 1.5-0.6 1.5-0.9 1.4-0.3 0.8-0.4 2.9-0.7 0.7-0.6 1.5-0.3 4.4-0.6 2.2-1.1 1.5-0.3 3.6-1.4 3-0.5 5.1-2.1 2.2-1.4 2.9-1 0.8-0.6 0.7-0.2 2.9-1.6 0.7-0.1 2.2-1.3 1.5-0.5 4.4-2.6 0.7-0.3 0.8-0.6 1.4-0.4 2.2-1.7 0.8-0.3 1.4-1.2 2.2-0.9 3-2.6 2.2-1.5 4.4-4.5 0.7-0.3 2.9-2.9 1.5-1.7 5.1-8.2 3-5.9 2.9-7.4 2.9-8.1 2.2-8.3 3-13.6 4.4-27.6 3.6-21 3-16.2 2.9-13.9 1.4-5.5 1.5-3.4 1.5-2.1 3.6-4.4 0.8-0.7 2.2-0.7 0.7-0.6 2.2-1.1 3.7-1 1.4-0.8 3-0.5 1.4 0.1 0.8-0.2 2.9-0.4 0.7-0.5 0.8-0.1 0.7-0.4 2.2-0.2 1.5 0.1 2.2-0.6 2.2-1.1 1.4-0.5 1.5-0.1 0.7-0.4 1.5-0.1 0.7 0.2 1.5-0.2 2.2 0.3 2.2-0.2 1.5-0.6 0.7-0.1 0.7 0.1 5.2-0.4 0.7 0.2 0.7-0.1 0.8 0.1 2.9-0.6 2.2 0.4 3.6-0.3" stroke="#0a14ff" stroke-width="1.9" fill="none" stroke-linejoin="round" stroke-linecap="round"/>
<path d="M152.1 1094.8l0.8-0.1 1.5-1 1.6 0 1.5-0.5 1.5-0.1 1.6-0.5 0.7 0 2.3-0.4 0.8-0.4 9.9-2.4 4.6-2.1 0.8 0 2.3-0.8 0.8-0.1 1.5-0.7 0.8 0 0.7-0.4 3.1-0.8 4.6-2.1 3-0.5 1.6-0.4 2.3-1.1 3.8-1.1 1.5-0.2 0.8-0.6 3.1-1.6 0.7-0.7 1.6-0.2 3.8-1.4 1.5-1 0.8-0.7 1.5-0.8 0.8-0.6 3-1.1 0.8-0.6 0.8-0.3 3-2.3 5.4-2.9 0.8-0.2 1.5-0.8 1.5-1.1 1.6-1.7 0.7-0.4 1.6-1.4 0.7-1.1 1.6-1.3 4.5-4.8 3.9-5.1 2.3-3.6 3-6 2.3-5.5 3.9-10.9 2.3-8.6 3-14.1 1.6-9 3-20.5 7.7-41.7 2.3-10.2 1.5-4.2 1.5-2.7 3.9-5.1 0.7-0.7 0.8-0.5 3.1-1.4 4.5-0.8 6.2-2.2 3.8 0 0.8 0.1 3-0.9 8.5-1.1 0.7-0.3 0.8-0.6 2.3-0.5 1.5-0.1 0.8 0.3 4.6-1.1 3.8 0.2 3.1-0.6 2.3 0.4 0.7-0.2 0.8 0.3 2.3-0.5 5.3-0.1" stroke="#0a14ff" stroke-width="1.9" fill="none" stroke-linejoin="round" stroke-linecap="round"/>
<path d="M143.7 1096.9l1.6-0.6 3.9-0.4 2.4-0.6 1.6-0.7 1.6-0.2 1.6-0.5 0.8 0 0.8-0.3 0.8 0.1 2.4-0.5 0.8-0.3 3.2-0.4 0.8-0.4 1.6-0.3 1.6-1 1.6-0.2 1.6-0.7 1.6-0.4 1.6-0.8 1.6-0.4 1.6-0.7 0.8-0.1 3.2-1 0.8 0.3 0.8-0.5 3.2-0.7 0.8-0.4 1.6-0.5 3.2-1.5 3.2-1 0.8-0.5 1.6-0.5 1.5-0.8 2.4-0.1 0.8-0.4 1.6-0.3 2.4-1.5 3.2-0.9 1.6-0.3 4-2 0.8-0.6 2.4-0.9 2.4-1.3 0.8-0.6 0.8-0.3 0.8-0.6 1.6-0.7 0.8-0.1 0.8-0.3 0.8-0.7 0.8-0.2 2.4-1.7 3.2-1.9 1.6-1.4 3.2-2.2 4-3.7 0.8-1.2 1.6-1.2 3.2-3.6 2.3-3.9 0.8-0.7 3.2-5 2.4-5.2 2.4-6.4 3.2-10.3 3.2-13.7 1.6-8.3 4.8-29.8 6.4-35.2 3.2-15.1 1.6-4.7 1.6-3.3 3.2-4.2 2.4-2.5 1.6-1 0.8 0 1.6-1 2.4-0.7 0.8-0.9 1.5 0.1 1.6-0.3 1.6 0.3 0.8-0.2 1.6-0.1 2.4-0.5 1.6-0.8 1.6 0 1.6-0.5 1.6 0.3 1.6-0.8 3.2-1 4 0.3 5.6-1.6 1.6-0.1 0.8 0.3 0.8 0 0.8-0.1 1.6 0.2 2.4-0.6 4 0 0.8 0.2 1.6-0.1 0.8-0.3 0.8 0.1 1.6-0.2 0.8 0.2 0.8-0.2 0.8 0.1 1.5-0.1" stroke="#0a14ff" stroke-width="1.9" fill="none" stroke-linejoin="round" stroke-linecap="round"/>
</g>
<path d="M130.1 1124.9v-6M130.1 872.6v3.8M181 1124.9v-6M181 872.6v3.8M231.8 1124.9v-6M231.8 872.6v3.8M282.6 1124.9v-6M282.6 872.6v3.8M333.5 1124.9v-6M333.5 872.6v3.8M155.5 1124.9v-3M155.5 872.6v2.2M206.4 1124.9v-3M206.4 872.6v2.2M257.2 1124.9v-3M257.2 872.6v2.2M308.1 1124.9v-3M308.1 872.6v2.2M113 1094h6.3M350.6 1094h-4.6M113 998.5h6.3M350.6 998.5h-4.6M113 903h6.3M350.6 903h-4.6M113 1117.9h3.5M350.6 1117.9h-2.4M113 1070.1h3.5M350.6 1070.1h-2.4M113 1046.2h3.5M350.6 1046.2h-2.4M113 1022.4h3.5M350.6 1022.4h-2.4M113 974.6h3.5M350.6 974.6h-2.4M113 950.8h3.5M350.6 950.8h-2.4M113 926.9h3.5M350.6 926.9h-2.4M113 879.1h3.5M350.6 879.1h-2.4" stroke="#111" stroke-width="1.3" fill="none"/>
<path d="M113 998.5H350.6M231.8 872.6V1124.9" stroke="#111" stroke-width="1.5" fill="none"/>
<rect x="113" y="872.6" width="237.6" height="252.3" fill="none" stroke="#111" stroke-width="1.5"/>
<text transform="translate(103.6 1101) scale(0.99 1)" font-size="19.7" text-anchor="end" >−1,000</text>
<text transform="translate(103.6 1005.5) scale(0.99 1)" font-size="19.7" text-anchor="end" >0</text>
<text transform="translate(103.6 910) scale(0.99 1)" font-size="19.7" text-anchor="end" >1,000</text>
<text transform="translate(122.9 901) scale(1 1)" font-size="28" text-anchor="start" font-weight="bold">d</text>
<text transform="translate(130.1 1147.8) scale(0.99 1)" font-size="19.7" text-anchor="middle" >−6</text>
<text transform="translate(180.95 1147.8) scale(0.99 1)" font-size="19.7" text-anchor="middle" >−3</text>
<text transform="translate(231.8 1147.8) scale(0.99 1)" font-size="19.7" text-anchor="middle" >0</text>
<text transform="translate(282.65 1147.8) scale(0.99 1)" font-size="19.7" text-anchor="middle" >3</text>
<text transform="translate(333.5 1147.8) scale(0.99 1)" font-size="19.7" text-anchor="middle" >6</text>
<text transform="translate(231.7 1177.4) scale(0.99 1)" font-size="19.7" text-anchor="middle"><tspan font-family='Liberation Serif, DejaVu Serif, serif' font-style="italic" font-size="19.7">μ</tspan><tspan font-style="italic" font-size="15" dy="5.3">0</tspan><tspan font-style="italic" dy="-5.3">H</tspan><tspan> (mT)</tspan></text>
<text transform="translate(26.5 734.3) rotate(-90) scale(0.99 1)" font-size="19.7" text-anchor="middle"><tspan font-style="italic">M</tspan> (emu cm<tspan font-size="12.5" dy="-7">−3</tspan><tspan dy="7">)</tspan></text>
<g clip-path="url(#clipMe)">
<rect x="446.5" y="343" width="237.5" height="251.6" fill="#02a2ff"/>
<g filter="url(#blur)">
<ellipse cx="633.5" cy="552.8" rx="19.6" ry="9.3" fill="#02a4ff"/>
<ellipse cx="600.1" cy="359.4" rx="11.6" ry="9.7" fill="#02a4ff"/>
<ellipse cx="680.8" cy="443" rx="7.8" ry="7.6" fill="#029cff"/>
<ellipse cx="680.3" cy="488.7" rx="6.2" ry="14.4" fill="#02b0ff"/>
<ellipse cx="546.3" cy="437" rx="6.9" ry="9.3" fill="#02a9ff"/>
<ellipse cx="504.9" cy="455.9" rx="16.8" ry="12.6" fill="#029cff"/>
<ellipse cx="631.8" cy="374.4" rx="15.9" ry="15.6" fill="#02a5ff"/>
<ellipse cx="455.2" cy="387.5" rx="9.8" ry="12.3" fill="#02a6ff"/>
<ellipse cx="658.9" cy="560" rx="13.2" ry="19" fill="#0291ff"/>
<ellipse cx="529.5" cy="461.8" rx="17.3" ry="12.2" fill="#029dff"/>
<ellipse cx="661.3" cy="391" rx="11.9" ry="14.8" fill="#029fff"/>
<ellipse cx="565.1" cy="407.1" rx="13.2" ry="9.2" fill="#02afff"/>
<ellipse cx="651" cy="591.5" rx="8.8" ry="13.8" fill="#0291ff"/>
<ellipse cx="535.6" cy="562.1" rx="13.1" ry="12.8" fill="#029fff"/>
<ellipse cx="652.9" cy="453.2" rx="7.2" ry="16.6" fill="#02a5ff"/>
<ellipse cx="464.8" cy="348" rx="7.3" ry="15.6" fill="#02a7ff"/>
<ellipse cx="527.2" cy="557.8" rx="8.6" ry="12.7" fill="#0293ff"/>
<ellipse cx="636.3" cy="359" rx="14.3" ry="11.7" fill="#02b3ff"/>
<ellipse cx="596.3" cy="583" rx="8.2" ry="10.3" fill="#0298ff"/>
<ellipse cx="460.6" cy="415.9" rx="8.3" ry="19.3" fill="#02a3ff"/>
<ellipse cx="656.6" cy="424.4" rx="7.9" ry="10.6" fill="#02b1ff"/>
<ellipse cx="644.3" cy="529.3" rx="8.4" ry="13.8" fill="#0293ff"/>
<ellipse cx="647.6" cy="464.8" rx="6.2" ry="9" fill="#02a6ff"/>
<ellipse cx="591.3" cy="373.8" rx="7.5" ry="15.1" fill="#0294ff"/>
<ellipse cx="682.7" cy="521.5" rx="15.7" ry="13.7" fill="#0297ff"/>
<ellipse cx="469.7" cy="409.5" rx="9.2" ry="10.8" fill="#0293ff"/>
<ellipse cx="538.2" cy="355.1" rx="8.8" ry="8.4" fill="#029bff"/>
<ellipse cx="484.2" cy="521.1" rx="13.1" ry="7.4" fill="#02a1ff"/>
<ellipse cx="506.1" cy="353" rx="10.2" ry="10.8" fill="#0296ff"/>
<ellipse cx="571.1" cy="549" rx="6.2" ry="14.3" fill="#0291ff"/>
<ellipse cx="525.1" cy="532.4" rx="9" ry="16.2" fill="#02a1ff"/>
<ellipse cx="466.3" cy="455.8" rx="19.1" ry="9" fill="#02afff"/>
<ellipse cx="588.8" cy="450.1" rx="8.5" ry="16.1" fill="#02acff"/>
<ellipse cx="574.1" cy="550.6" rx="17" ry="9.5" fill="#029cff"/>
</g>
<path d="M533.4 483.9l0.4 0.3 0.7-0.3 1.9-1.7 1.3-0.7 0.6-0.2 1.9 0.5 2.6-0.5 3.2 1 3.8-1.5 1.9-0.2 5.1-0.9 2.5-0.9 1.3-0.2 2.4-1.6 2.1-1.7 1.9-0.9 0.6-0.9 1.2-2.2 1.4-1.1 0.9-1.4 1.6-1.5 0.5-1 0.1-1.3-0.6-0.7-2.5-1.2-1.9-1.7-0.6-0.8-0.3-1.9-0.4-0.8-1.9-0.9-0.7-1.4-0.6-0.5-1.9-1.1-0.7-0.2-1.2 0.4-0.7-0.2-1.2-1.3-1.9 0.2-0.7-0.1-2.5-1.6-0.7 0.1-1.3 0.8-0.6 0.1-1.9-0.2-1.9 0.2-1.9 0.5-1.3-0.5-2.6 0.7-3.1 0.5-4 2.2-2.4 2-1.3 0.7-0.6 0.2-1.3-0.5-0.6 0-1.3 0.2-1.5 2.4-0.9 1.3-2 1.2-1.1 1.3-1.4 0.6-0.4 0.6 0.4 0.7 0.7 0.6 0.1 0.6-0.4 1.9 0.4 2.6 0.3 0.8 0.7 0.7 1.3 0 0.6 0.2 0.6 0.8 0.3 0.6-0.1 1.3 0.3 0.6 1.6 1.2 1.1 2.4 0.7 0.6 1.2-0.4 2.3 0.6 1.1 0.6 1.3 1.9z" fill="#00ebff" fill-rule="evenodd"/>
<path d="M544.4 478.2l1.6 0 1.9-0.4 7.6-1 6.5-3 1-0.6 2-3.8 1.1-3.1 0-0.7-0.9-3.1-0.8-1.6-3.2-2.4-3.1-1.1-2.6-0.5-1.9-0.7-2.6 0.6-1.9 0.1-3.1 0.5-4.5-0.3-3.2 0.8-1.5 0.8-1.7 1.8-1.9 1.5-3.4 3-0.4 0.6-0.4 1.9-0.6 1.9-0.2 2.6 0.6 0.6 1.2 0.6 3.8 3.4 2 1.1 2.5 0.1 3.2 0.4 2.9 0z" fill="#00f5a8" fill-rule="evenodd"/>
<path d="M540.3 475.7l5.7 0.1 7-0.8 3.2-0.7 1.9-0.9 2.2-1.4 2.2-4.5 0.2-1.2-0.9-2.5-1.6-2.6-0.7-0.6-1.4-0.6-4.5-1-5.1 0.2-5.1 0.4-2.6 0.6-1.9 1.4-2.7 1.5-0.7 0.7-1.2 2.5-0.3 2.5 0.2 1.9 2.2 3.2 0.5 0.6 0.8 0.3 2.6 0.9z" fill="#00e814" fill-rule="evenodd"/>
<path d="M544.6 473.8l2 0.2 7-0.6 1.9-0.7 1.9-1.1 1-0.9 1.1-2.5 0-2.6-0.4-1.2-0.4-0.6-1.3-1.3-1.9-1-4.5-0.7-1.9 0-3.8 0.4-1.3 0.4-1.9 1.1-2.1 1.7-1.9 2.5-0.3 1.9 0.1 1.3 0.5 1.2 0.5 0.7 0.7 0.4 5 1.4z" fill="#8cf400" fill-rule="evenodd"/>
<path d="M544.8 472l5.6 0.5 2.6-0.1 1.9-0.7 1.9-1.3 1-1.6 0.2-0.6-0.1-1.3-0.7-1.9-1-1.2-0.9-0.7-1.1-0.4-2.5-0.6-3.2 0.1-1.9 0.5-1.3 0.6-1.3 1-0.6 0.7-1.2 1.9-0.5 1.3 0.2 1.2 0.3 0.7 1.3 1.2 1.3 0.7z" fill="#eafd00" fill-rule="evenodd"/>
<path d="M548.6 471.3l1.8 0.3 2.6-0.1 1.2-0.5 1.4-0.9 0.9-1.3 0.2-1.3-0.3-1.2-0.9-1.5-1.9-1.2-1.3-0.4-1.3-0.1-1.9 0.2-1.2 0.2-1.3 0.7-1 0.8-0.5 0.6-0.4 1.3-0.1 1.3 0.1 0.6 0.3 0.6 1 0.9 2.6 1z" fill="#ffc600" fill-rule="evenodd"/>
<path d="M549.9 470.7l1.8 0.2 1.3-0.2 1.2-0.6 0.7-0.7 0.7-1.2 0-1.3-0.6-1.3-0.6-0.6-0.8-0.5-1.3-0.4-1.9-0.1-1.9 0.5-1.6 1.1-0.6 1.3 0 1.3 0.3 0.6 1.5 1.3 1.8 0.6z" fill="#ff7b00" fill-rule="evenodd"/>
<path d="M550.8 470.1l0.9 0 1.3-0.2 0.7-0.5 0.9-1.2 0-1.3-0.3-0.6-0.5-0.7-0.8-0.4-1.3-0.4-2 0.2-1.2 0.6-0.9 1.3 0 1.3 0.5 0.6 1 0.8 1.7 0.5z" fill="#ff2d00" fill-rule="evenodd"/>
<path d="M533.4 483.9l0.4 0.3 0.7-0.3 1.9-1.7 1.3-0.7 0.6-0.2 1.9 0.5 2.6-0.5 3.2 1 3.8-1.5 1.9-0.2 5.1-0.9 2.5-0.9 1.3-0.2 2.4-1.6 2.1-1.7 1.9-0.9 0.6-0.9 1.2-2.2 1.4-1.1 0.9-1.4 1.6-1.5 0.5-1 0.1-1.3-0.6-0.7-2.5-1.2-1.9-1.7-0.6-0.8-0.3-1.9-0.4-0.8-1.9-0.9-0.7-1.4-0.6-0.5-1.9-1.1-0.7-0.2-1.2 0.4-0.7-0.2-1.2-1.3-1.9 0.2-0.7-0.1-2.5-1.6-0.7 0.1-1.3 0.8-0.6 0.1-1.9-0.2-1.9 0.2-1.9 0.5-1.3-0.5-2.6 0.7-3.1 0.5-4 2.2-2.4 2-1.3 0.7-0.6 0.2-1.3-0.5-0.6 0-1.3 0.2-1.5 2.4-0.9 1.3-2 1.2-1.1 1.3-1.4 0.6-0.4 0.6 0.4 0.7 0.7 0.6 0.1 0.6-0.4 1.9 0.4 2.6 0.3 0.8 0.7 0.7 1.3 0 0.6 0.2 0.6 0.8 0.3 0.6-0.1 1.3 0.3 0.6 1.6 1.2 1.1 2.4 0.7 0.6 1.2-0.4 2.3 0.6 1.1 0.6 1.3 1.9M544.4 478.2l1.6 0 1.9-0.4 7.6-1 6.5-3 1-0.6 2-3.8 1.1-3.1 0-0.7-0.9-3.1-0.8-1.6-3.2-2.4-3.1-1.1-2.6-0.5-1.9-0.7-2.6 0.6-1.9 0.1-3.1 0.5-4.5-0.3-3.2 0.8-1.5 0.8-1.7 1.8-1.9 1.5-3.4 3-0.4 0.6-0.4 1.9-0.6 1.9-0.2 2.6 0.6 0.6 1.2 0.6 3.8 3.4 2 1.1 2.5 0.1 3.2 0.4 2.9 0M540.3 475.7l5.7 0.1 7-0.8 3.2-0.7 1.9-0.9 2.2-1.4 2.2-4.5 0.2-1.2-0.9-2.5-1.6-2.6-0.7-0.6-1.4-0.6-4.5-1-5.1 0.2-5.1 0.4-2.6 0.6-1.9 1.4-2.7 1.5-0.7 0.7-1.2 2.5-0.3 2.5 0.2 1.9 2.2 3.2 0.5 0.6 0.8 0.3 2.6 0.9M544.6 473.8l2 0.2 7-0.6 1.9-0.7 1.9-1.1 1-0.9 1.1-2.5 0-2.6-0.4-1.2-0.4-0.6-1.3-1.3-1.9-1-4.5-0.7-1.9 0-3.8 0.4-1.3 0.4-1.9 1.1-2.1 1.7-1.9 2.5-0.3 1.9 0.1 1.3 0.5 1.2 0.5 0.7 0.7 0.4 5 1.4M544.8 472l5.6 0.5 2.6-0.1 1.9-0.7 1.9-1.3 1-1.6 0.2-0.6-0.1-1.3-0.7-1.9-1-1.2-0.9-0.7-1.1-0.4-2.5-0.6-3.2 0.1-1.9 0.5-1.3 0.6-1.3 1-0.6 0.7-1.2 1.9-0.5 1.3 0.2 1.2 0.3 0.7 1.3 1.2 1.3 0.7M548.6 471.3l1.8 0.3 2.6-0.1 1.2-0.5 1.4-0.9 0.9-1.3 0.2-1.3-0.3-1.2-0.9-1.5-1.9-1.2-1.3-0.4-1.3-0.1-1.9 0.2-1.2 0.2-1.3 0.7-1 0.8-0.5 0.6-0.4 1.3-0.1 1.3 0.1 0.6 0.3 0.6 1 0.9 2.6 1M549.9 470.7l1.8 0.2 1.3-0.2 1.2-0.6 0.7-0.7 0.7-1.2 0-1.3-0.6-1.3-0.6-0.6-0.8-0.5-1.3-0.4-1.9-0.1-1.9 0.5-1.6 1.1-0.6 1.3 0 1.3 0.3 0.6 1.5 1.3 1.8 0.6M550.8 470.1l0.9 0 1.3-0.2 0.7-0.5 0.9-1.2 0-1.3-0.3-0.6-0.5-0.7-0.8-0.4-1.3-0.4-2 0.2-1.2 0.6-0.9 1.3 0 1.3 0.5 0.6 1 0.8 1.7 0.5" fill="none" stroke="#050505" stroke-width="0.85" stroke-linejoin="round"/>
</g>
<path d="M446.5 468.8H684" stroke="#111" stroke-width="1.6"/>
<path d="M446.5 468.8L566.9 349.8" stroke="#111" stroke-width="1.6"/>
<path d="M574.4 342.4L569.4 353.7L563.1 347.3z" fill="#111"/>
<path d="M446.5 468.8L566.9 587.8" stroke="#111" stroke-width="1.6"/>
<path d="M574.4 595.2L563.1 590.3L569.4 583.9z" fill="#111"/>
<rect x="447" y="343.6" width="22.6" height="29.5" fill="#fff"/>
<text transform="translate(457.4 365) scale(1 1)" font-size="28" text-anchor="middle" font-weight="bold">e</text>
<path d="M446.5 594.6v-4.2M446.5 343v3.3M510.2 594.6v-4.2M510.2 343v3.3M574 594.6v-4.2M574 343v3.3M637.8 594.6v-4.2M637.8 343v3.3M467.8 594.6v-2.6M467.8 343v2.2M489 594.6v-2.6M489 343v2.2M531.5 594.6v-2.6M531.5 343v2.2M552.8 594.6v-2.6M552.8 343v2.2M595.2 594.6v-2.6M595.2 343v2.2M616.5 594.6v-2.6M616.5 343v2.2M659 594.6v-2.6M659 343v2.2M680.2 594.6v-2.6M680.2 343v2.2M446.5 552.8h4.2M684 552.8h-4.2M446.5 468.8h4.2M684 468.8h-4.2M446.5 384.8h4.2M684 384.8h-4.2M446.5 573.8h2.6M684 573.8h-2.6M446.5 531.8h2.6M684 531.8h-2.6M446.5 510.8h2.6M684 510.8h-2.6M446.5 489.8h2.6M684 489.8h-2.6M446.5 447.8h2.6M684 447.8h-2.6M446.5 426.8h2.6M684 426.8h-2.6M446.5 405.8h2.6M684 405.8h-2.6M446.5 363.8h2.6M684 363.8h-2.6" stroke="#111" stroke-width="1.3" fill="none"/>
<rect x="446.5" y="343" width="237.5" height="251.6" fill="none" stroke="#111" stroke-width="1.5"/>
<text transform="translate(437.9 559.8) scale(0.99 1)" font-size="19.7" text-anchor="end" >−4</text>
<text transform="translate(437.9 475.8) scale(0.99 1)" font-size="19.7" text-anchor="end" >0</text>
<text transform="translate(437.9 391.8) scale(0.99 1)" font-size="19.7" text-anchor="end" >4</text>
<rect x="627.4" y="356.2" width="20.2" height="56.2" fill="#fff" stroke="#111" stroke-width="1.4"/>
<rect x="631" y="359" width="10.3" height="49.8" fill="url(#cb)"/>
<path d="M641.3 359.3h2.2M641.3 364.3h2.2M641.3 369.3h2.2M641.3 374.2h2.2M641.3 379.2h2.2M641.3 384.2h2.2M641.3 389.2h2.2M641.3 394.2h2.2M641.3 399.1h2.2M641.3 404.1h2.2M641.3 409.1h2.2" stroke="#333" stroke-width="0.5"/>
<text transform="translate(563.8 382.6) scale(0.99 1)" font-size="19.7" text-anchor="start"><tspan font-family='Liberation Serif, DejaVu Serif, serif' font-style="italic" font-size="19.7">μ</tspan><tspan font-style="italic" font-size="15" dy="5.3">0</tspan><tspan font-style="italic" dy="-5.3">H</tspan></text>
<text transform="translate(549.5 563.2) scale(0.99 1)" font-size="19.7" text-anchor="start">−<tspan font-family='Liberation Serif, DejaVu Serif, serif' font-style="italic" font-size="19.7">μ</tspan><tspan font-style="italic" font-size="15" dy="5.3">0</tspan><tspan font-style="italic" dy="-5.3">H</tspan><tspan font-style="italic" font-size="15" dy="5.3">R</tspan></text>
<g clip-path="url(#clipMf)">
<rect x="446.5" y="607.8" width="237.5" height="251.6" fill="#00ffdc"/>
<g filter="url(#blur)">
<ellipse cx="670.3" cy="685.1" rx="9.1" ry="17" fill="#00ffe4"/>
<ellipse cx="498" cy="810.5" rx="11.9" ry="12.9" fill="#00ffd4"/>
<ellipse cx="662.4" cy="806.8" rx="16.5" ry="11.6" fill="#00ffe7"/>
<ellipse cx="682" cy="661" rx="19.2" ry="14.1" fill="#00ffdf"/>
<ellipse cx="621.2" cy="760" rx="6.8" ry="7.3" fill="#00ffe5"/>
<ellipse cx="532" cy="631" rx="12.8" ry="11" fill="#00ffe7"/>
<ellipse cx="580" cy="694.2" rx="15" ry="18" fill="#00ffda"/>
<ellipse cx="454.5" cy="796.7" rx="9.5" ry="7.6" fill="#00ffe0"/>
<ellipse cx="574.5" cy="785.5" rx="10.3" ry="19.8" fill="#00ffcc"/>
<ellipse cx="571.7" cy="833" rx="6.8" ry="12.1" fill="#00ffe9"/>
<ellipse cx="451.8" cy="685.1" rx="17.5" ry="7.1" fill="#00ffeb"/>
<ellipse cx="577.9" cy="851.5" rx="10.3" ry="18" fill="#00ffdd"/>
<ellipse cx="622.1" cy="642.4" rx="11" ry="17.3" fill="#00ffde"/>
<ellipse cx="563" cy="713.4" rx="16.1" ry="19.6" fill="#00ffde"/>
<ellipse cx="597.7" cy="714.9" rx="20" ry="18.6" fill="#00ffd8"/>
<ellipse cx="468.8" cy="668.6" rx="12.7" ry="12" fill="#00ffda"/>
<ellipse cx="524.3" cy="815.5" rx="6.7" ry="14" fill="#00ffdb"/>
<ellipse cx="680.5" cy="701.9" rx="17.8" ry="14.3" fill="#00ffe0"/>
<ellipse cx="573.2" cy="654.5" rx="8.3" ry="14" fill="#00ffda"/>
<ellipse cx="631.9" cy="627.8" rx="17.4" ry="7.1" fill="#00ffd3"/>
<ellipse cx="643.5" cy="622" rx="10.6" ry="10.8" fill="#00ffcd"/>
<ellipse cx="533.8" cy="679.3" rx="13.9" ry="7.2" fill="#00ffe9"/>
<ellipse cx="540.8" cy="642.7" rx="9.3" ry="7.2" fill="#00ffd8"/>
<ellipse cx="450.5" cy="812.8" rx="17.5" ry="18.6" fill="#00ffe1"/>
<ellipse cx="458.8" cy="649.1" rx="8.4" ry="9.5" fill="#00ffe9"/>
<ellipse cx="493.9" cy="650" rx="18.5" ry="17.3" fill="#00ffd1"/>
<ellipse cx="654.3" cy="739.1" rx="8" ry="11.1" fill="#00ffe8"/>
<ellipse cx="458.7" cy="703.1" rx="10.2" ry="11.4" fill="#00ffe1"/>
<ellipse cx="668.1" cy="620.9" rx="17.5" ry="17.9" fill="#00ffd9"/>
<ellipse cx="506" cy="705.9" rx="17.8" ry="9.8" fill="#00ffd2"/>
<ellipse cx="568.1" cy="631.7" rx="16.1" ry="17.5" fill="#00ffce"/>
<ellipse cx="507.6" cy="608.6" rx="14" ry="11.3" fill="#00ffe4"/>
<ellipse cx="481.9" cy="710.2" rx="6.9" ry="18.3" fill="#00ffdc"/>
<ellipse cx="642.2" cy="798.3" rx="19.5" ry="7.7" fill="#00ffe6"/>
<ellipse cx="628" cy="668" rx="62" ry="26" fill="#22f4bc"/>
<ellipse cx="590" cy="640" rx="30" ry="18" fill="#22f4c0"/>
<ellipse cx="560" cy="690" rx="22" ry="30" fill="#12f8e0"/>
<ellipse cx="545" cy="625" rx="14" ry="14" fill="#10f8e6"/>
<ellipse cx="540" cy="700" rx="16" ry="10" fill="#2af2ba"/>
</g>
<path d="M446.5 853.9l0 0.2 0.6-0.3 1.9-1 1.3-0.4 2.6 0 1.3-0.3 0.6-0.8 1.7-1.1 1.6-2.6 0.5-1.9-0.3-1.9 0.9-3.2 0.1-1.2-1.3-1.4-0.5-1.1-0.1-0.6 0.6-1.9 0.1-1.9-0.7-2.5-1.3-1.9 1-1.9-0.3-1.9 0-1.9 0.8-1.9 0.1-0.6-0.5-1.3 0.2-0.6 0.6-0.4 0.5-0.8 0-1.9 0.2-0.7 0.5-0.4 1.3-0.2 0.7-0.5 1.2 0.8 0.7 0.1 0-0.4 0.6-0.6 1.5-0.6 0-2.6 0.5-1.2 0.1-0.7-0.8-0.4-0.6 0.4-2.2 1.9-0.3 0.7-0.2 1.9-0.5 0.5-0.7-0.1-1.3-0.7-0.6 0-0.6-0.4-0.3-1.2-1.2-1.9 0-0.7 0.2-0.9 0.6-0.3 0.8 0 0.5-0.3 0.2-0.3-0.4-1.9 0.7-2.6-0.8-5-0.9-1.9-0.1-1.3-1.4-5-1.4-2.5-0.5-1.3-0.8-5.6 0.6-5.1 1.3-4.4 0.5-3.8 2.3-5.6 0.5-2.6 1.9-4.4 2.1-3.8 0.7-1 1.4-1.5 0.1-0.6-0.7-0.6-1.5-0.8-0.4-0.5 0.1-0.6 0.3-0.5 0.7-0.3 0.6 0 1.3 0.6 0.6-0.4 0.2-0.7-0.3-1.2 0-0.7 0.8-1.9-0.3-1.8 0.5-0.7 1.7-0.8 0.6-1.1 0-0.6-1.9-1.5-0.6-0.2-0.7 0-1.9-0.9-1.9 0.1-0.8-0.7 0-0.6 0.4-0.6 1-0.8 0.7 0 1.3 0.8 0.6-0.1 0.6-0.3 0.5-0.9 0.3-1.9 0.6-1.2-0.6-2.5-0.6-1.3-0.1-2.5-0.6-2.5-0.7-0.2-2.6 0-1.3-0.8-1.3-0.4-0.9-0.5-0.7-0.7-0.3-0.6 0.9-3.8 0.5-0.6 1.6-0.6 0.3-0.7-0.1-1.2 0.2-0.7 1.7-3.1-0.2-0.6-0.5-0.7-0.1-0.6 0.5-1.2-0.1-0.7-0.8-0.6-2.6-0.6-0.3-0.7 0.2-0.6 1.7-1.9 1.4-3.1 0.8-0.4 1.3 0 0.4-0.3 0.1-0.6-0.7-1.9 0.3-1.9 0-0.6-0.7-1.3 0.7-1.2 2.6-1.3-0.2-0.6-0.6-0.5-1.5-0.8-1.3-1.9 0.1-0.6 0.3-0.6-0.4-1.9 0.1-3.8-0.8-1.3 0.2-0.6 3.3-2.3 0.7 0 1.2 0.6 0.7 0.1 0.7-0.3 0.5-0.7 0-0.6-0.4-0.6-3.4-1.8-2.5-0.3-0.6-0.4-0.2-0.6 0.2-0.6 0.6-0.6 1.2-0.7 0.4-0.6 0-1.9 0.4-1.9-1.1-1.9 0.1-1.9-0.6-1.3 0.1-0.6 0.5-1.2 0.3-2.6-1-1.9-0.3-1.9 0.2-0.6 0.4-0.5 1.3-0.6 0.5-0.8-0.1-0.6-1-1.5-0.4-1.6-0.9-1-1-1.6-0.9-0.6-0.5-0.6-0.3-0.7 0-0.6 1.3-1.2 0.6-1.3 0.8-0.4 1.9-0.4 0.6-0.3 0.7-1.4-0.4-1.3 0-1.2-2-2.6 0.1-1.2-0.9-1.3-0.2-0.6 0-0.6 0.7-1.9-0.3-3.2-0.4-0.6-1.2-0.6-0.3-0.7 0.3-1.2-0.7-1.3-14.5 0 0 246.3zM508.2 765.1l0.8 0.6 0.6-0.1 1.3-1.1 1.2-0.7 1.5-1.8 2.2-1.9 0.8-1.3 1.3-1.3 0.3-0.6-0.1-0.6-0.6-1.3-0.9-3-1.2-1.5-0.4-1.1 0.3-0.7 1.6-1.9 0.2-0.6-0.6-3.1 0.4-2.6 1-1.2 0.2-0.7 0.1-1.2 0.2-0.6 1.3-1.3-0.3-2.5 0.1-0.7 1.1-1.9 0-1.2 0.4-1.3 1.4-1.2 1.2-1.7 1.5-0.8 0.2-0.7 0.1-1.2 0.2-0.7 0.6-0.7 2.2-1.2 1.2-1.9 0.1-0.6-0.3-0.9-0.7-0.5-0.6-0.2-1 0.4-0.9 0.8-0.4-4.6-1.5-0.9-1.3-1.2-1.3-0.5-0.6-0.6-0.8-1.2-1.1-0.9-1.3-1.6-2.2-1.9-1-1.5-0.6 0.1-0.7 0.6-0.6 0.3-0.6 0-0.7-0.4-2.6-4.2-0.2-1.2-0.4-0.4-0.6-0.2-1.3 0.1-1.5 0.5-0.6 0.6-0.4 1.3-0.6 1.2-0.7 0.5-3.2 0.3-1.3-0.7-1.2-0.2-1.9-1.1-2.6 0.1-0.6 0.3-0.2 0.8 0.8 1.9-0.3 0.6-1 0.4-1.3-0.1-0.6 0.2-1.3 1.2-0.3 0.8 0.3 1.9-0.2 0.7-1 1.8-1.4 0.7-0.1 0.6 0.3 1.3-0.1 0.3-0.2 0.3-1.1 0.2-0.7 0.4-0.8 1.9-1.2 1.9-0.5 1.4-1.9 0.4-1.3 0.8-1.2 0.1-0.4 0.5-0.1 0.6 0.6 1.9-0.3 2.5 0.1 0.6 0.8 1.9-1 2.5-0.1 0.7 1 0.8 0.6 1.7 0.9 1.3 0.3 0.6 0 1.3-0.5 1.8 0 1.1 0.7 0.8 0.7 1.9 0.5 0.6 1.3 0.7 0.4 0.6 0.1 0.6-0.6 1.3-0.1 0.6 0.8 2.3 1 1.5 0.3 1.5 1.3 1.7 0.8 2.5 0.9 1.2 0.8 2.2 0.6 0.4 0.7 0.2 1.2-0.3 1.3-0.6 0.7-1.1 0.6-0.5 1.1 1 0.8 0.4 1.3-0.5 0.6 0.2 1.3 0.9 3.5 0.3 1.2 0.6 0.6 0.6 0.6 1.3 0.5 0.4 0.6 0 0.7-0.3 0.6-0.5 0.7-0.2 0.6 0.4 0.2 1.4 0.9 1.3z" fill="#00f275" fill-rule="evenodd"/>
<path d="M446.5 848.9l1.3-1.3 1.7-1.2 0.4-0.7 0-3.1 0.8-4.4-0.4-2.5 0.1-1.3-0.9-1.9 0-0.6 0.8-2.5 0.2-1.3-0.5-1.9 0-5 0.7-2.6-0.5-2.5 0.7-1.9 0.5-3.1-0.1-3.2-0.5-1.8 0.2-5.7-0.4-1.9 1-8.2-0.6-1.9-0.2-5.7 0.9-8.1 0.7-3.2 0.8-2.5 0.5-3.2 0.9-2.5 0.8-3.1 0.3-2.6 0.7-1.9 0.4-5 0.4-1.9-0.9-5-0.7-2.5 0.1-3.8-0.3-1.9-0.2-2.5-0.7-3.2 0.3-5 0-5.7-1.3-2.5-0.7-3.8-0.6-2.5-0.6-5.1 0.1-1.2-0.7-1.9 0.6-1.3 0.9-0.6 0.4-0.6-0.4-1.3-0.1-2.5 0.4-3.8-0.6-2.5-0.1-3.8 0.5-1.2 2-2.6 0.5-1.8 0-1.3-0.6-2.5 0.4-3.2-0.1-0.6-1.6-5.1-0.4-3.1 1.1-3.8 0.8-1.2 0-3.2 1.1-2.5-0.2-1.3 0-1.9-0.8-1.8-0.1-0.7 0.5-2.5-0.5-1.9 1-1.9 0.5-1.9-0.1-0.8-0.8-1.7-0.4-1.9 0-0.6 0.6-1.9-0.1-1.3-0.5-1.2-1.2-1.3-0.5-2.5-0.1-0.6 0.6-1.9-0.2-1.9 0.3-1.9 0.4-1.3 0.1-2.5-0.1-1.2-0.9-1.9 0.1-1.9-0.5-1.3 0.8-2.5-7.2 0 0 241.3zM502.8 753.8l1.1 0.4 0.6-0.3 2.2-2 0.9-1.3 1-2.5 1.3-1.9 0.2-1.9 1.5-2.5 3.4-7.6 0.4-3.1 0.8-1.3 1.5-4.4 2.1-3.1 0.4-1.9-0.2-1.3-2-3.8-2.3-2.5-2.3-2.8-2.5-1.3-1.9-0.7-1.3-1.6-0.6-0.5-1.3-0.3-1.3 0-4.9 1.5-0.8 0.7-1 1.2-1.6 1.3-2.5 1.4-1.3 1.9-1.7 1.7-0.9 0.7-1.9 0.9-0.5 0.9-0.3 3.8-1.6 5.7 0.2 3.8-0.2 2.5 0.2 2.5 1.7 4.4 1.3 4.4 0.5 1.3 1.1 1.3 0.6 1.2 0.9 1.2 0.6 0.4 1.9 0 1.9-0.3 0.7 0.1 1.9 1.1 2.3 0.7 1.7 1.9z" fill="#0ee700" fill-rule="evenodd"/>
<path d="M446.5 841.3l0 0.5 0.4-1.1 0.2-1.3-0.6-5 0.3-3.8-0.2-2.5 0.6-3.1 0.2-5.1-0.4-5.7 0.7-3.1 0.2-1.9-0.5-3.8-0.9-1.9 0.9-2.5 0.2-1.2 0.2-3.9 0.3-2.5 0-2.5 0.3-2.5-0.1-4.4 0.5-4.4 1.5-6.3 0.3-2.5 0.7-1.9 0.6-3.2 0.8-2.5 0-1.9 0.5-1.9 0.3-3.1-0.1-1.9 0.2-1.9-0.3-1.9-0.2-4.4-0.9-2.5 0.5-7.6-0.1-1.2-0.2-0.7-1.1-1.9-0.4-3.7-1.6-4.4-0.9-1.8-0.1-0.8 0.5-3.8-0.1-1.8 0.2-1.9-0.3-2.5-0.6-1.9 0.2-3.8-0.5-4.4 1.1-3.8 0.1-5.7 0.5-2.5-0.2-1.3 0.2-1.8 0-1.9 0.4-2.6-0.1-1.8 0.2-1.3-0.5-2.5 0.1-5.7-0.4-4.4 0.2-2.5-0.6-5.1 0.2-1.2 1-1.9 0.4-1.3-0.1-0.6-0.7-1.3-0.3-1.2-0.2-5.1 0.5-3.1 0-2.5-0.7-2.6 0.3-5.6-0.4-3.2 0-1.9-0.3-2.5-0.1-3.8 0.2-1.9-1-3.1 0.1-1.9-0.6-1.9 0-2.5 0.2-1.9-0.7 0 0 233.7zM499.2 745.6l2.8 0.5 0.6-0.1 1.1-0.4 4.5-5.1 1.7-2.5 0.7-1.2 1.2-3.2 1.5-5 1.6-7-1.3-3.1-1.4-2.5-2.6-3.5-0.6-0.5-3.2-1.3-1.3-0.3-2.5 0-1.3 0.4-2.6 2.1-1.9 1.3-3.8 3.6-1.9 2.6-0.9 3.1-0.6 3.8-0.1 2.5 0 4.4 0.7 3.2 0.9 2.3 1.1 1.5 2.2 1.9 1.8 1.9 0.6 0.3 3 0.3z" fill="#92f500" fill-rule="evenodd"/>
<path d="M446.5 783.4l0.8-7 1.2-3.1 0.4-3.2 0.6-1.9 0.3-1.8 1.1-3.2 0.7-10.1-0.5-6.3-0.5-3.1 0-2.5-0.3-5.1-1.2-5.7-2.6-6.8 0 59.8zM498.6 741.2l1.4 0.4 2-0.1 1.9-1 3.2-2.4 2-3.2 1-2.6 1.4-4.4 0.1-4.4-0.8-3.8-0.9-2.5-0.9-1.4-1.3-1.4-1.3-0.9-1.2-0.4-1.3-0.3-1.3 0.1-1.9 0.6-1.3 0.7-2.5 2.3-1.3 1.6-1.3 1.2-1.7 3-0.5 1.2-0.8 3.8-0.4 4.4 0.2 1 0.9 2.2 0.7 2.5 1 1.1 1.9 1.3 3 1.4z" fill="#defc00" fill-rule="evenodd"/>
<path d="M446.5 773.3l0 0.5 0.4-1.1 0.9-4.5 0.2-1.8 0.8-2.6 1.2-10-1.3-13.9 0.1-2.5-1.3-6.3-1-2.5 0 44.7zM498.8 738.6l1.2 0.2 2-0.3 2.5-1.1 1.3-0.9 1.7-2.3 1.5-3.4 0.7-2.2 0.2-1.3 0-3.1-0.4-2.6-0.8-2.5-1-1.9-0.6-0.9-1.3-0.8-1.3-0.4-1.3-0.1-2.5 0.4-2.6 2-2.8 3.6-1.9 4.4-0.4 4.4 0.1 1.3 0.3 1.2 1.2 2.6 1.2 1.9 1.5 1.2 1.5 0.6z" fill="#ffdd00" fill-rule="evenodd"/>
<path d="M446.5 766.4l0 0.5 0.8-3.7 0.6-4.4 0.7-3.2 0.1-1.8-0.6-8.9-0.8-5.6 0-1.9-0.8-4.5 0 33.5zM498.7 736.1l1.3 0.5 1.3-0.2 1.9-0.7 1.3-0.7 1.4-1.4 2.3-4.4 0.3-1.9 0.2-3.1-0.8-3.2-0.8-1.8-0.7-0.9-1.2-0.9-1.3-0.4-1.3-0.1-1.3 0.2-2.2 1.4-2.7 3.8-1.4 3.1-0.4 3.8 0.4 2.5 1.2 2.3 0.7 0.9 1.8 1.2z" fill="#ffa000" fill-rule="evenodd"/>
<path d="M446.5 760.1l1-4.5 0.1-1.8-0.6-8.9-0.5-2.5 0 17.7zM499.1 734.2l1.6 0.6 1.3-0.3 1.2-0.6 2-1.9 1.4-2.2 0.6-1.2 0.4-4.4-0.5-1.9-0.5-1.3-0.8-1.1-0.6-0.5-1.3-0.6-1.3-0.2-0.6 0.1-2 1-1.7 1.9-1.1 1.9-0.5 1.3-0.6 3.8 0.4 2.5 0.4 0.9 0.6 0.9 1.6 1.3z" fill="#ff6000" fill-rule="evenodd"/>
<path d="M499.7 732.3l1.6 0.6 1.3-0.3 0.6-0.5 1.3-1.4 1.6-2.8 0.3-3.1-0.4-1.9-0.8-1.3-1.3-0.9-0.7-0.2-1.2 0.1-1.9 1-1.3 1.9-0.7 1.7-0.4 2.7 0.2 1.9 0.4 1.3 0.5 0.6 0.9 0.6z" fill="#fd2300" fill-rule="evenodd"/>
<path d="M500.3 730.4l1 0.4 1.3-0.3 1.3-1.3 0.7-1.3 0.3-1.2 0-1.9-0.5-1.3-0.5-0.7-0.7-0.3-1.2 0-0.7 0.4-0.6 0.7-1 1.8-0.5 1.9 0.1 1.3 0.4 1.2 0.6 0.6z" fill="#eb0000" fill-rule="evenodd"/>
<path d="M458.5 781.5l0.7 0.1 2.6-0.2 3.2 0.6 0.6-0.2 3.2-1.7 1.3-0.9 0.3-0.9 0.2-1.9 0.8-0.9 1.2-0.7 1.3-0.2-0.6-0.5-0.4-0.8 0.1-3.2 0.3-1 1.9-2.7 0.2-0.7 0.2-3.7 0.9-2.6-0.6-1.2-0.4-1.9-2.2-2.6-0.7-0.5-1.9-0.3-2.5-1.1-0.7-0.1-0.6 0.2-1.9 1.5-1.3 1.7-1.9 1.8-0.5 1.3-1.4 1.9-2.6 6.2-0.2 3.8-0.9 2.6-0.9 3.7 0.1 1.5 0.7 2.1 0.6 0.5 1.8 1zM535.8 743.7l0.6 0.4 0.6 0.1 5.1-0.7 0.7-0.1 1.9-1.3 1-0.9 0.3-0.6 0-2 1.3-2.5 0.1-0.6-0.7-2.5-0.9-0.7-0.3-0.6 0.1-1.3-0.3-0.7-0.6-0.8-0.7-0.3-1.2 0.4-0.5-0.4-0.2-1.4-1.3-0.3-0.1-0.2 0.3-1.3-0.2-0.6-0.6-0.6-0.6-0.3-0.7-0.1-0.6 0.3-0.5 0.7-0.5 1.2 0.3 2.6-1.6 1.2-0.6 1.3-0.9 0.6-0.4 0.6-0.3 1.3 0 1.3-0.9 3.1-0.3 0.5-0.7 0.4-1.3 0-0.5 0.4-0.5 0.6-0.2 0.6 0.3 0.7 2.2 0.5 1.3 1.1 0.6 0.2 1.3-0.1 0.7 0.8z" fill="#00d8ff" fill-rule="evenodd"/>
<path d="M459.1 777.1l1.4 0.3 2.6-0.1 1.3-0.3 2.5-1.7 1.3-1.4 1.5-3.1 0.5-2.6 1.3-3.7 0.4-1.9-0.2-1.3-0.8-1.9-1.6-1.2-1.1-0.5-0.7 0-3.1 1.1-2 1.3-1.1 1.2-1.4 3.5-0.9 2.8-0.1 3.2-0.8 5 0.2 0.6 0.8 0.7z" fill="#0099ff" fill-rule="evenodd"/>
<path d="M463.1 771.4l0.6 0.2 0.7-0.3 1.5-1.2 0.9-1.2 1.3-2.5 0.5-1.9-0.4-1.3-0.7-0.6-2.5-0.6-0.6 0.1-0.7 0.3-0.6 0.9-1.5 3.1-0.3 1.8 0 0.7 0.5 1 1.3 1.5z" fill="#0056ff" fill-rule="evenodd"/>
<path d="M446.5 854.1l3.8-1.7 2.6 0 1.3-0.3 0.6-0.8 1.7-1.1 1.6-2.6 0.5-1.9-0.3-1.9 0.9-3.2 0.1-1.2-1.3-1.4-0.5-1.1-0.1-0.6 0.6-1.9 0.1-1.9-0.7-2.5-1.3-1.9 1-1.9-0.3-1.9 0-1.9 0.8-1.9 0.1-0.6-0.5-1.3 0.2-0.6 0.6-0.4 0.5-0.8 0-1.9 0.2-0.7 0.5-0.4 1.3-0.2 0.7-0.5 1.2 0.8 0.7 0.1 0-0.4 0.6-0.6 1.5-0.6 0-2.6 0.5-1.2 0.1-0.7-0.8-0.4-0.6 0.4-2.2 1.9-0.3 0.7-0.2 1.9-0.5 0.5-0.7-0.1-1.3-0.7-0.6 0-0.6-0.4-0.3-1.2-1.2-1.9 0-0.7 0.2-0.9 0.6-0.3 0.8 0 0.5-0.3 0.2-0.3-0.4-1.9 0.7-2.6-0.8-5-0.9-1.9-0.1-1.3-1.4-5-1.4-2.5-0.5-1.3-0.8-5.6 0.6-5.1 1.3-4.4 0.5-3.8 2.3-5.6 0.5-2.6 1.9-4.4 2.1-3.8 0.7-1 1.4-1.5 0.1-0.6-0.7-0.6-1.5-0.8-0.4-0.5 0.1-0.6 0.3-0.5 0.7-0.3 0.6 0 1.3 0.6 0.6-0.4 0.2-0.7-0.3-1.2 0-0.7 0.8-1.9-0.3-1.8 0.5-0.7 1.7-0.8 0.6-1.1 0-0.6-1.9-1.5-0.6-0.2-0.7 0-1.9-0.9-1.9 0.1-0.8-0.7 0-0.6 0.4-0.6 1-0.8 0.7 0 1.3 0.8 0.6-0.1 0.6-0.3 0.5-0.9 0.3-1.9 0.6-1.2-0.6-2.5-0.6-1.3-0.1-2.5-0.6-2.5-0.7-0.2-2.6 0-1.3-0.8-1.3-0.4-0.9-0.5-0.7-0.7-0.3-0.6 0.9-3.8 0.5-0.6 1.6-0.6 0.3-0.7-0.1-1.2 0.2-0.7 1.7-3.1-0.2-0.6-0.5-0.7-0.1-0.6 0.5-1.2-0.1-0.7-0.8-0.6-2.6-0.6-0.3-0.7 0.2-0.6 1.7-1.9 1.4-3.1 0.8-0.4 1.3 0 0.4-0.3 0.1-0.6-0.7-1.9 0.3-1.9 0-0.6-0.7-1.3 0.7-1.2 2.6-1.3-0.2-0.6-0.6-0.5-1.5-0.8-1.3-1.9 0.1-0.6 0.3-0.6-0.4-1.9 0.1-3.8-0.8-1.3 0.2-0.6 3.3-2.3 0.7 0 1.2 0.6 0.7 0.1 0.7-0.3 0.5-0.7 0-0.6-0.4-0.6-3.4-1.8-2.5-0.3-0.6-0.4-0.2-0.6 0.2-0.6 0.6-0.6 1.2-0.7 0.4-0.6 0-1.9 0.4-1.9-1.1-1.9 0.1-1.9-0.6-1.3 0.1-0.6 0.5-1.2 0.3-2.6-1-1.9-0.3-1.9 0.2-0.6 0.4-0.5 1.3-0.6 0.5-0.8-0.1-0.6-1-1.5-0.4-1.6-0.9-1-1-1.6-0.9-0.6-0.5-0.6-0.3-0.7 0-0.6 1.3-1.2 0.6-1.3 0.8-0.4 1.9-0.4 0.6-0.3 0.7-1.4-0.4-1.3 0-1.2-2-2.6 0.1-1.2-0.9-1.3-0.2-0.6 0-0.6 0.7-1.9-0.3-3.2-0.4-0.6-1.2-0.6-0.3-0.7 0.3-1.2-0.7-1.3M508.2 765.1l0.8 0.6 0.6-0.1 1.3-1.1 1.2-0.7 1.5-1.8 2.2-1.9 0.8-1.3 1.3-1.3 0.3-0.6-0.1-0.6-0.6-1.3-0.9-3-1.2-1.5-0.4-1.1 0.3-0.7 1.6-1.9 0.2-0.6-0.6-3.1 0.4-2.6 1-1.2 0.2-0.7 0.1-1.2 0.2-0.6 1.3-1.3-0.3-2.5 0.1-0.7 1.1-1.9 0-1.2 0.4-1.3 1.4-1.2 1.2-1.7 1.5-0.8 0.2-0.7 0.1-1.2 0.2-0.7 0.6-0.7 2.2-1.2 1.2-1.9 0.1-0.6-0.3-0.9-0.7-0.5-0.6-0.2-1 0.4-0.9 0.8-0.4-4.6-1.5-0.9-1.3-1.2-1.3-0.5-0.6-0.6-0.8-1.2-1.1-0.9-1.3-1.6-2.2-1.9-1-1.5-0.6 0.1-0.7 0.6-0.6 0.3-0.6 0-0.7-0.4-2.6-4.2-0.2-1.2-0.4-0.4-0.6-0.2-1.3 0.1-1.5 0.5-0.6 0.6-0.4 1.3-0.6 1.2-0.7 0.5-3.2 0.3-1.3-0.7-1.2-0.2-1.9-1.1-2.6 0.1-0.6 0.3-0.2 0.8 0.8 1.9-0.3 0.6-1 0.4-1.3-0.1-0.6 0.2-1.3 1.2-0.3 0.8 0.3 1.9-0.2 0.7-1 1.8-1.4 0.7-0.1 0.6 0.3 1.3-0.1 0.3-0.2 0.3-1.1 0.2-0.7 0.4-0.8 1.9-1.2 1.9-0.5 1.4-1.9 0.4-1.3 0.8-1.2 0.1-0.4 0.5-0.1 0.6 0.6 1.9-0.3 2.5 0.1 0.6 0.8 1.9-1 2.5-0.1 0.7 1 0.8 0.6 1.7 0.9 1.3 0.3 0.6 0 1.3-0.5 1.8 0 1.1 0.7 0.8 0.7 1.9 0.5 0.6 1.3 0.7 0.4 0.6 0.1 0.6-0.6 1.3-0.1 0.6 0.8 2.3 1 1.5 0.3 1.5 1.3 1.7 0.8 2.5 0.9 1.2 0.8 2.2 0.6 0.4 0.7 0.2 1.2-0.3 1.3-0.6 0.7-1.1 0.6-0.5 1.1 1 0.8 0.4 1.3-0.5 0.6 0.2 1.3 0.9 3.5 0.3 1.2 0.6 0.6 0.6 0.6 1.3 0.5 0.4 0.6 0 0.7-0.3 0.6-0.5 0.7-0.2 0.6 0.4 0.2 1.4 0.9 1.3M446.5 848.9l1.3-1.3 1.7-1.2 0.4-0.7 0-3.1 0.8-4.4-0.4-2.5 0.1-1.3-0.9-1.9 0-0.6 0.8-2.5 0.2-1.3-0.5-1.9 0-5 0.7-2.6-0.5-2.5 0.7-1.9 0.5-3.1-0.1-3.2-0.5-1.8 0.2-5.7-0.4-1.9 1-8.2-0.6-1.9-0.2-5.7 0.9-8.1 0.7-3.2 0.8-2.5 0.5-3.2 0.9-2.5 0.8-3.1 0.3-2.6 0.7-1.9 0.4-5 0.4-1.9-0.9-5-0.7-2.5 0.1-3.8-0.3-1.9-0.2-2.5-0.7-3.2 0.3-5 0-5.7-1.3-2.5-0.7-3.8-0.6-2.5-0.6-5.1 0.1-1.2-0.7-1.9 0.6-1.3 0.9-0.6 0.4-0.6-0.4-1.3-0.1-2.5 0.4-3.8-0.6-2.5-0.1-3.8 0.5-1.2 2-2.6 0.5-1.8 0-1.3-0.6-2.5 0.4-3.2-0.1-0.6-1.6-5.1-0.4-3.1 1.1-3.8 0.8-1.2 0-3.2 1.1-2.5-0.2-1.3 0-1.9-0.8-1.8-0.1-0.7 0.5-2.5-0.5-1.9 1-1.9 0.5-1.9-0.1-0.8-0.8-1.7-0.4-1.9 0-0.6 0.6-1.9-0.1-1.3-0.5-1.2-1.2-1.3-0.5-2.5-0.1-0.6 0.6-1.9-0.2-1.9 0.3-1.9 0.4-1.3 0.1-2.5-0.1-1.2-0.9-1.9 0.1-1.9-0.5-1.3 0.8-2.5M502.8 753.8l1.1 0.4 0.6-0.3 2.2-2 0.9-1.3 1-2.5 1.3-1.9 0.2-1.9 1.5-2.5 3.4-7.6 0.4-3.1 0.8-1.3 1.5-4.4 2.1-3.1 0.4-1.9-0.2-1.3-2-3.8-2.3-2.5-2.3-2.8-2.5-1.3-1.9-0.7-1.3-1.6-0.6-0.5-1.3-0.3-1.3 0-4.9 1.5-0.8 0.7-1 1.2-1.6 1.3-2.5 1.4-1.3 1.9-1.7 1.7-0.9 0.7-1.9 0.9-0.5 0.9-0.3 3.8-1.6 5.7 0.2 3.8-0.2 2.5 0.2 2.5 1.7 4.4 1.3 4.4 0.5 1.3 1.1 1.3 0.6 1.2 0.9 1.2 0.6 0.4 1.9 0 1.9-0.3 0.7 0.1 1.9 1.1 2.3 0.7 1.7 1.9M446.5 841.8l0.4-1.1 0.2-1.3-0.6-5 0.3-3.8-0.2-2.5 0.6-3.1 0.2-5.1-0.4-5.7 0.7-3.1 0.2-1.9-0.5-3.8-0.9-1.9 0.9-2.5 0.2-1.2 0.2-3.9 0.3-2.5 0-2.5 0.3-2.5-0.1-4.4 0.5-4.4 1.5-6.3 0.3-2.5 0.7-1.9 0.6-3.2 0.8-2.5 0-1.9 0.5-1.9 0.3-3.1-0.1-1.9 0.2-1.9-0.3-1.9-0.2-4.4-0.9-2.5 0.5-7.6-0.1-1.2-0.2-0.7-1.1-1.9-0.4-3.7-1.6-4.4-0.9-1.8-0.1-0.8 0.5-3.8-0.1-1.8 0.2-1.9-0.3-2.5-0.6-1.9 0.2-3.8-0.5-4.4 1.1-3.8 0.1-5.7 0.5-2.5-0.2-1.3 0.2-1.8 0-1.9 0.4-2.6-0.1-1.8 0.2-1.3-0.5-2.5 0.1-5.7-0.4-4.4 0.2-2.5-0.6-5.1 0.2-1.2 1-1.9 0.4-1.3-0.1-0.6-0.7-1.3-0.3-1.2-0.2-5.1 0.5-3.1 0-2.5-0.7-2.6 0.3-5.6-0.4-3.2 0-1.9-0.3-2.5-0.1-3.8 0.2-1.9-1-3.1 0.1-1.9-0.6-1.9 0-2.5 0.2-1.9M499.2 745.6l2.8 0.5 0.6-0.1 1.1-0.4 4.5-5.1 1.7-2.5 0.7-1.2 1.2-3.2 1.5-5 1.6-7-1.3-3.1-1.4-2.5-2.6-3.5-0.6-0.5-3.2-1.3-1.3-0.3-2.5 0-1.3 0.4-2.6 2.1-1.9 1.3-3.8 3.6-1.9 2.6-0.9 3.1-0.6 3.8-0.1 2.5 0 4.4 0.7 3.2 0.9 2.3 1.1 1.5 2.2 1.9 1.8 1.9 0.6 0.3 3 0.3M446.5 783.8l0.8-7.4 1.2-3.1 0.4-3.2 0.6-1.9 0.3-1.8 1.1-3.2 0.7-10.1-0.5-6.3-0.5-3.1 0-2.5-0.3-5.1-1.2-5.7-2.6-6.8M498.6 741.2l1.4 0.4 2-0.1 1.9-1 3.2-2.4 2-3.2 1-2.6 1.4-4.4 0.1-4.4-0.8-3.8-0.9-2.5-0.9-1.4-1.3-1.4-1.3-0.9-1.2-0.4-1.3-0.3-1.3 0.1-1.9 0.6-1.3 0.7-2.5 2.3-1.3 1.6-1.3 1.2-1.7 3-0.5 1.2-0.8 3.8-0.4 4.4 0.2 1 0.9 2.2 0.7 2.5 1 1.1 1.9 1.3 3 1.4M446.5 773.8l0.4-1.1 0.8-3.8 0.3-2.5 0.8-2.6 1.2-10-1.3-13.9 0.1-2.5-1.3-6.3-1-2.5M498.8 738.6l1.2 0.2 2-0.3 2.5-1.1 1.3-0.9 1.7-2.3 1.5-3.4 0.7-2.2 0.2-1.3 0-3.1-0.4-2.6-0.8-2.5-1-1.9-0.6-0.9-1.3-0.8-1.3-0.4-1.3-0.1-2.5 0.4-2.6 2-2.8 3.6-1.9 4.4-0.4 4.4 0.1 1.3 0.3 1.2 1.2 2.6 1.2 1.9 1.5 1.2 1.5 0.6M446.5 766.9l0.9-4.3 0.5-3.8 0.7-3.2 0.1-1.8-0.6-8.9-0.8-5.6 0-1.9-0.8-4.5M498.7 736.1l1.3 0.5 1.3-0.2 1.9-0.7 1.3-0.7 1.4-1.4 2.3-4.4 0.3-1.9 0.2-3.1-0.8-3.2-0.8-1.8-0.7-0.9-1.2-0.9-1.3-0.4-1.3-0.1-1.3 0.2-2.2 1.4-2.7 3.8-1.4 3.1-0.4 3.8 0.4 2.5 1.2 2.3 0.7 0.9 1.8 1.2M446.5 760.5l1-4.9 0.1-1.8-0.6-8.9-0.5-2.5M499.1 734.2l1.6 0.6 1.3-0.3 1.2-0.6 2-1.9 1.4-2.2 0.6-1.2 0.4-4.4-0.5-1.9-0.5-1.3-0.8-1.1-0.6-0.5-1.3-0.6-1.3-0.2-0.6 0.1-2 1-1.7 1.9-1.1 1.9-0.5 1.3-0.6 3.8 0.4 2.5 0.4 0.9 0.6 0.9 1.6 1.3M499.7 732.3l1.6 0.6 1.3-0.3 0.6-0.5 1.3-1.4 1.6-2.8 0.3-3.1-0.4-1.9-0.8-1.3-1.3-0.9-0.7-0.2-1.2 0.1-1.9 1-1.3 1.9-0.7 1.7-0.4 2.7 0.2 1.9 0.4 1.3 0.5 0.6 0.9 0.6M500.3 730.4l1 0.4 1.3-0.3 1.3-1.3 0.7-1.3 0.3-1.2 0-1.9-0.5-1.3-0.5-0.7-0.7-0.3-1.2 0-0.7 0.4-0.6 0.7-1 1.8-0.5 1.9 0.1 1.3 0.4 1.2 0.6 0.6M458.6 781.5l-1.9-1-0.6-0.5-0.7-2.1-0.1-1.5 0.9-3.7 0.9-2.6 0.2-3.8 2.6-6.2 1.4-1.9 0.5-1.3 1.9-1.8 1.3-1.7 1.9-1.5 0.6-0.2 0.7 0.1 2.5 1.1 1.9 0.3 0.7 0.5 2.2 2.6 0.4 1.9 0.6 1.2-0.9 2.6-0.2 3.7-0.2 0.7-1.9 2.7-0.3 1-0.1 3.2 0.4 0.8 0.6 0.5-1.3 0.2-1.2 0.7-0.8 0.9-0.2 1.9-0.3 0.9-1.3 0.9-3.2 1.7-0.6 0.2-3.2-0.6-3.2 0.1M536.4 744.1l-1.3-1.2-1.3 0.1-0.6-0.2-1.3-1.1-2.2-0.5-0.3-0.7 0.2-0.6 0.5-0.6 0.5-0.4 1.3 0 0.7-0.4 0.3-0.5 0.9-3.1 0-1.3 0.3-1.3 0.4-0.6 0.9-0.6 0.6-1.3 1.6-1.2-0.3-2.6 0.5-1.2 0.5-0.7 0.6-0.3 0.7 0.1 0.6 0.3 0.6 0.6 0.2 0.6-0.3 1.3 0.1 0.2 1.3 0.3 0.2 1.4 0.5 0.4 1.2-0.4 0.7 0.3 0.6 0.8 0.3 0.7-0.1 1.3 0.3 0.6 0.9 0.7 0.7 2.5-0.1 0.6-1.3 2.5 0 2-0.3 0.6-1 0.9-1.9 1.3-2 0.2-1.2 0.3-2.6 0.3-0.6-0.1M459.2 777.2l-0.9-0.8-0.2-0.6 0.8-5 0.1-3.2 0.9-2.8 1.4-3.5 1.1-1.2 2-1.3 3.1-1.1 0.7 0 1.1 0.5 1.6 1.2 0.8 1.9 0.2 1.3-0.4 1.9-1.3 3.7-0.5 2.6-1.5 3.1-1.3 1.4-2.5 1.7-1.3 0.3-2.6 0.1-1.3-0.2M463.1 771.4l-1.3-1.5-0.5-1 0-0.7 0.3-1.8 1.5-3.1 0.6-0.9 0.7-0.3 0.6-0.1 2.5 0.6 0.7 0.6 0.4 1.3-0.5 1.9-1.3 2.5-0.9 1.2-1.5 1.2-0.7 0.3-0.6-0.2" fill="none" stroke="#050505" stroke-width="0.85" stroke-linejoin="round"/>
</g>
<path d="M446.5 733.6H684" stroke="#111" stroke-width="1.6"/>
<path d="M446.5 733.6L566.9 614.6" stroke="#111" stroke-width="1.6"/>
<path d="M574.4 607.2L569.4 618.5L563.1 612.1z" fill="#111"/>
<path d="M446.5 733.6L566.9 852.6" stroke="#111" stroke-width="1.6"/>
<path d="M574.4 860L563.1 855.1L569.4 848.7z" fill="#111"/>
<rect x="467.9" y="608.4" width="16.2" height="33.5" fill="#fff"/>
<text transform="translate(476.2 636) scale(1 1)" font-size="28" text-anchor="middle" font-weight="bold">f</text>
<path d="M446.5 859.4v-4.2M510.2 859.4v-4.2M574 859.4v-4.2M637.8 859.4v-4.2M467.8 859.4v-2.6M489 859.4v-2.6M531.5 859.4v-2.6M552.8 859.4v-2.6M595.2 859.4v-2.6M616.5 859.4v-2.6M659 859.4v-2.6M680.2 859.4v-2.6M446.5 607.8v3.3M489 607.8v3.3M531.5 607.8v3.3M574 607.8v3.3M616.5 607.8v3.3M659 607.8v3.3M460.7 607.8v2.2M474.8 607.8v2.2M503.2 607.8v2.2M517.3 607.8v2.2M545.7 607.8v2.2M559.8 607.8v2.2M588.2 607.8v2.2M602.3 607.8v2.2M630.7 607.8v2.2M644.8 607.8v2.2M673.2 607.8v2.2M446.5 817.6h4.2M684 817.6h-4.2M446.5 733.6h4.2M684 733.6h-4.2M446.5 649.6h4.2M684 649.6h-4.2M446.5 838.6h2.6M684 838.6h-2.6M446.5 796.6h2.6M684 796.6h-2.6M446.5 775.6h2.6M684 775.6h-2.6M446.5 754.6h2.6M684 754.6h-2.6M446.5 712.6h2.6M684 712.6h-2.6M446.5 691.6h2.6M684 691.6h-2.6M446.5 670.6h2.6M684 670.6h-2.6M446.5 628.6h2.6M684 628.6h-2.6" stroke="#111" stroke-width="1.3" fill="none"/>
<rect x="446.5" y="607.8" width="237.5" height="251.6" fill="none" stroke="#111" stroke-width="1.5"/>
<text transform="translate(437.9 824.6) scale(0.99 1)" font-size="19.7" text-anchor="end" >−4</text>
<text transform="translate(437.9 740.6) scale(0.99 1)" font-size="19.7" text-anchor="end" >0</text>
<text transform="translate(437.9 656.6) scale(0.99 1)" font-size="19.7" text-anchor="end" >4</text>
<g clip-path="url(#clipMg)">
<rect x="446.5" y="872.6" width="237.5" height="251.6" fill="#00ffe4"/>
<g filter="url(#blur)">
<ellipse cx="592.7" cy="1017.1" rx="6.1" ry="13.7" fill="#00ffe4"/>
<ellipse cx="676.5" cy="972.8" rx="9.4" ry="19.3" fill="#00ffed"/>
<ellipse cx="659.3" cy="991.8" rx="7.1" ry="19.8" fill="#00ffeb"/>
<ellipse cx="461.8" cy="995.8" rx="16.7" ry="7" fill="#00ffe6"/>
<ellipse cx="564.9" cy="1089.6" rx="16.9" ry="13.6" fill="#00ffe6"/>
<ellipse cx="491" cy="1067.1" rx="14.5" ry="9.9" fill="#00ffe9"/>
<ellipse cx="683.3" cy="952.3" rx="12.7" ry="11.2" fill="#00ffe8"/>
<ellipse cx="606.7" cy="1016.7" rx="8.4" ry="8" fill="#00ffe6"/>
<ellipse cx="509.6" cy="1114.8" rx="12.4" ry="15" fill="#00ffe4"/>
<ellipse cx="536.5" cy="1033.9" rx="13.5" ry="11" fill="#00ffdb"/>
<ellipse cx="570.2" cy="999.7" rx="8.7" ry="16" fill="#00ffe8"/>
<ellipse cx="564.5" cy="936.9" rx="18.8" ry="14.2" fill="#00ffdf"/>
<ellipse cx="460.3" cy="1010.8" rx="17.4" ry="8.1" fill="#00ffe1"/>
<ellipse cx="651.9" cy="1014.4" rx="6.1" ry="8.6" fill="#00ffe5"/>
<ellipse cx="512.6" cy="1106.2" rx="13.6" ry="14.9" fill="#00ffe6"/>
<ellipse cx="628" cy="912.6" rx="15.4" ry="8.3" fill="#00ffeb"/>
<ellipse cx="670.9" cy="968.8" rx="9.1" ry="10.1" fill="#00ffe0"/>
<ellipse cx="664.6" cy="918.1" rx="19" ry="9.2" fill="#00ffe6"/>
<ellipse cx="595" cy="914.9" rx="9.3" ry="18.8" fill="#00ffea"/>
<ellipse cx="471" cy="1001.3" rx="9" ry="6.7" fill="#00ffea"/>
<ellipse cx="506.1" cy="881.5" rx="10.7" ry="15.4" fill="#00ffeb"/>
<ellipse cx="496.8" cy="925.5" rx="16.8" ry="14.8" fill="#00ffde"/>
<ellipse cx="531.7" cy="937.6" rx="14.8" ry="7.6" fill="#00ffde"/>
<ellipse cx="457.7" cy="883.6" rx="15.1" ry="10.4" fill="#00ffe8"/>
<ellipse cx="674.7" cy="974.9" rx="17.5" ry="9.5" fill="#00ffdb"/>
<ellipse cx="591.8" cy="916" rx="7.3" ry="16.1" fill="#00ffe0"/>
<ellipse cx="641.6" cy="1041.2" rx="8.9" ry="6.8" fill="#00ffec"/>
<ellipse cx="640.5" cy="873" rx="11" ry="8.6" fill="#00ffe5"/>
<ellipse cx="613.4" cy="1108" rx="11" ry="14.3" fill="#00ffec"/>
<ellipse cx="679.6" cy="885.6" rx="11.6" ry="15.1" fill="#00ffe1"/>
<ellipse cx="634" cy="1116.1" rx="15" ry="15.3" fill="#00ffe4"/>
<ellipse cx="652.6" cy="872.8" rx="6.6" ry="18.8" fill="#00ffdb"/>
<ellipse cx="632.8" cy="910.2" rx="10.5" ry="7.5" fill="#00ffdd"/>
<ellipse cx="487.2" cy="880.8" rx="8.1" ry="11.8" fill="#00ffe4"/>
</g>
<path d="M446.5 1101.7l0 0.3 0.9-0.9 0.5-1.3 0-1.9 0.4-3.1 1.1-2.5 0.3-4.4-0.4-3.2 0.2-2.5 0.8-3.5 0.9-1.5-1-4.5-0.3-3.7-0.7-2.6-0.1-6.9 0.8-5.7-0.5-2.5 0.1-2.5-0.4-2.5 0.1-1.9-1.2-5 0.6-6.3 1.5-5.7 1.4-3.2 0.7-2.5 0.1-1.3-0.3-7.5 0.2-0.8 0.6-0.5 0.7 0 6.4 2.7 1.9 0.4 2.3-0.5 1.2-0.7 0.5-0.6 0.2-1.3-0.1-0.6-1.3-2.5-0.5-1.3-0.7-1.2-1-0.9-2.5-1.2-1.9-2-2.8-1.6-1-1.3-2-1.4-0.7-1.1-0.6-3.1 0.4-0.7 0.9-0.6 0.7-0.2 0.7 0.2-0.1 2 0.7 0.1 1.2-1.1 1.3 0.4 0.8-0.1-0.1-0.7-0.5-0.6-0.2-2.5 0.6-3.8-0.9-2.5-1.1-1.9-0.5-2.5 0.5-1.9 1.7-4.4 0.3-2 0.9-2.4 0.4-4.4-0.1-2.6-0.3-0.6-1.5-1.2-0.5-0.7-1.2-2.5-0.2-5 0.3-1.3 0.8-1.9 0-0.6-0.5-1-0.6-0.5-1.3-0.3-5.1-0.1-1.3-0.6-0.6-0.6 0 157.4zM516.5 1027.4l0.8 0.3 1-0.3 0.8-0.6 0.5-1.3 1.5-0.3 0.2-0.3 0.5-1.9 0.6-1.3 1.9-0.4 0.6-0.7 0.3-0.8 0-1.2 0.2-1.3-0.7-1.9 0.1-0.6 0.7-1.9 0.5-0.6 1.4-0.7 0.5-0.6-0.1-0.6-1.6-1.8-0.9-2-1.6-1.9-0.6-1.3-0.1-0.6 0.8-1.2 0.2-1.9-0.4-0.4-2.5-0.9-1.3-1.3-1.3-1-0.6-0.8-0.2-2.6-0.7-1.9 0.4-4.4 2.2-6.3 0.6-1.2 2.2-3.1 3.2-5.8 1.6-2.5 3.4-6 1.2-1.5 0.2-0.7 0-1.9 0.3-1.2-0.1-1.9 0.9-3.1-0.7-0.7-2.4-0.3-1.9-1.2-0.6 0.1-1.3 0.8-0.6-0.1-2-0.4-1.9-1.2-0.6-0.1-1.3 0.2-3.2 1.5-2.5 2.6-1.3 1.8-0.6 0.2-1.3-0.3-0.7 0.2-0.5 0.6 0.1 1.9-0.2 0.2-0.6-0.5-0.4-0.9-0.9-1.3-0.6-0.2-2.3 0.8-0.2 0.7-0.1 1.8-0.6 1-0.7 0.4-1.6 0.5-0.3 0.4 0.2 1.5-0.2 0.7-1.4 1.9-0.3 1.2-0.4 0.6-3 3.1-1 2-0.9 0.4-1.6 0.2-1.6 1.8-0.6 1.7-1.3 0.9-0.3 0.7-0.3 1.2-1.4 3.2-1.2 3.7-2.5 2.2-1.9 1.9-1.3 1-0.7 0.2-3.1 0.2-2.6 1-1.3 0.1-3.8-0.2-1.3 0.2-0.6 0.5-0.9 1.8 0.1 0.6 0.3 0.6 1.1 0.9 1.3 0.3 1.3 0.1 1.9 0.4 0.6-0.3 0.7-0.8 0.6-0.5 0.7 0.1 1.2 0.6 0.7 0.1 2.5 0.1 1.9-0.5 1 0.2 0.9 0.4 0.6 0.8 0 1.3 0.2 1.9-1 1.9-0.1 0.6 0.1 0.6 2.8 2.2 0.6 0.8 2.5 5.2 2.6 3.8 0.7 1.9 0.6 0.8 2.4 1.1 1.8 1.8 0.9 0.5 3.2 0.4 1.9-0.4 1.9 0.7 1.1 0.7 0.5 0.7 0.4 1.2 0.6 0.7 0.6 0 0.6-0.7 0.7-0.2 1.9 0.4 1.9-0.1 1.3 1.1 1.4 0.7 1 1.3z" fill="#00f48d" fill-rule="evenodd"/>
<path d="M446.5 1094.2l0 0.5 0.6-2.4 0.7-17.7-0.2-4.4-0.3-3.1 0-7.6-0.2-1.9 0-3.1 0.4-5.1-0.4-2.5 0-3.1-0.3-3.8 0.2-5.1 1.2-7.5 1.8-4.4 0.3-2.6 0-5.6-1.1-5.1 0-1.2 0.5-0.6 0.6-0.3 1.3 0.2 1.3 0.6 3.2 2.1 1.9 0.9 1.9 0.5 1.3 0 0.4-0.3 0.4-0.6 0.1-0.6-0.5-1.9-1.1-1.6-3.8-3.4-5.1-3.5-2.4-2.2-0.7-1.3-0.5-1.9-0.2-1.2 0.1-1.3 1.6-4.4 0.5-2.5 0-3.2-0.6-3.8 0.3-5-1.1-4.4 0.6-3.2-0.3-1.8 0.2-5.1-0.3-2.5 0.7-5-0.1-1.3-0.5-1.3-1-1.2-1.4-1.3 0 148.1zM502.2 1014.8l1 0.3 2 0 4.4-1.2 1.7-1 0.9-1.3 1.9-1.7 0.6-1.2 0.6-3.4 0.4-4.4-0.1-1.2-0.8-1.9-0.2-1.3 1-9.4 3.3-8.9 2.7-4.4 0.8-1.9 3.1-5.6 0.5-2.5 0.4-3.8-0.4-1.3-1.2-1.3-0.5-0.2-1.9-0.5-1.3 0-1.9 1.3-2.6 1.1-1.2 1-2 0.7-3.2 2.6-2.5 1.7-1.3 1.4-2.6 4.2-1.8 1.6-1.3 1.5-1.9 0.8-2.2 1.8-3.3 5-2.2 2-2.3 4.3-2.4 2.5-0.3 0.6 0.3 1.3 1 1.9 0.9 2.5 2.1 7.6 1.2 1.9 0.5 1.9 0.6 1.2 1.3 1.3 1 0.5 5.2 2 2 1.9z" fill="#00e706" fill-rule="evenodd"/>
<path d="M446.5 1077.8l0-8.3 0 8.3zM446.5 1031.2l0.6-7.7 0.8-2.4-0.2-1.9 0.6-1.9 0-0.6-0.7-3.8-0.7-2.5-0.1-3.2 0.3-1.9 0.7-0.8 0.6-0.2 3.2 0.6 0.6 0.2 2 2 1.9 1.4 1.9 0.5 0.6-0.5-1.1-1.9-1.4-1.6-5.8-3.2-1-0.9-1.5-2.3-0.9-3.3-0.2-2.6 0.6-5 0.3-5.1-0.3-3.1 0.3-3.8-0.6-6.9 0.3-6.3-0.2-6.9 0.2-5.1-0.4-1.9-0.4-0.8 0 83.4zM501.1 1008.5l2.1 0 2-0.6 1.3 0 4-2.6 1.2-1.2 0.5-2.5 0.3-6.3 0.7-3.8 0.5-4.4 1.4-3.2 1.6-5 0.8-1.9 1.3-1.9 0.9-3.2 0.2-2.5 1-1.9-0.1-1.2-1-1.2-1-0.7-0.9 0-2.5 0.6-4.4 2.5-5.2 5-2.6 3.1-4.3 2.6-1.1 1.9-2.4 3.2-1.6 1.9-0.8 1.5-1.5 2.3-0.6 2.5 0.2 1.2 0 2.6 0.4 2.5 1.8 5.6 1 1.6 2.6 2.5 0.7 0.4 3.5 0.6z" fill="#81f300" fill-rule="evenodd"/>
<path d="M499.6 1004.7l2.4 0.3 1.9-0.2 3.2-1.2 1.2-0.7 0.8-0.7 0.5-1 0.8-2.2 0.5-3.7 0.8-3.8 0.3-1.9 0-3.2 0.8-1.9 0.4-2.5 1.6-5 0.8-3.8 0-1.3-0.2-0.4-0.7-0.4-1.3 0-2.5 1.1-1.3 1.4-1.3 0.9-2.5 3-1.9 1.1-1.3 1.4-1.3 0.6-1.9 1.5-1.9 2.3-1.5 1.4-1.7 3.2-0.9 2.5-0.2 2.5 0.4 3.1 0.3 1.3 1.1 2.4 1.2 2.1 1.3 0.9 2.1 0.9z" fill="#d6fb00" fill-rule="evenodd"/>
<path d="M500.1 1002.8l1.9 0.1 3.2-0.9 1.9-1.1 1.1-1.2 0.7-1.3 1-4.4 0.7-5-0.7-5.1-0.1-2.5-0.2-0.4-0.6-0.4-1.3 0-2.5 0.6-3.2 1.7-4.5 3.5-0.9 1.3-0.6 1.3-0.7 1.8-0.4 1.9 0.2 3.8 0.2 1.3 0.9 1.9 1.3 1.4 1.3 1.1 1.3 0.6z" fill="#ffe300" fill-rule="evenodd"/>
<path d="M499.6 1000.9l1.7 0.5 1.9-0.2 1-0.3 2.5-1.9 1.1-1.9 1-3.7 0.3-4.4-0.3-1.3-0.6-1.3-1.1-1.1-1.3-0.7-1.9-0.2-1.9 0.6-2 1.1-1.2 1-1.1 1.2-0.6 1.3-0.9 3.1 0.3 3.8 1 2.5 1.1 1.3 1 0.6z" fill="#ffa400" fill-rule="evenodd"/>
<path d="M500 999.7l2 0.4 1.9-0.3 1.7-1.4 1.2-1.9 0.9-3.1 0.1-3.2-0.3-1.2-0.4-1.2-0.7-0.7-0.6-0.3-1.9-0.5-1.9 0.4-2 1.1-1.2 1.2-0.7 1.1-0.7 2.6 0 2.6 0.3 1.2 0.9 1.9 1.4 1.3z" fill="#ff6200" fill-rule="evenodd"/>
<path d="M500.6 998.4l1.4 0.4 1.2-0.1 0.7-0.3 1.3-1.2 0.7-1.3 0.6-1.9 0.1-2.5-0.4-1.9-0.4-0.7-0.8-0.6-1.1-0.3-1.9 0.3-2 1.2-1 1.3-0.6 1.9 0.1 2.6 0.9 2.1 1.2 1z" fill="#fd2400" fill-rule="evenodd"/>
<path d="M501.6 997.1l1 0.1 1.3-0.6 0.6-0.9 0.5-1.1 0.4-1.9-0.2-1.2-0.7-1.2-0.6-0.4-1.3-0.1-1.3 0.3-0.8 0.7-0.7 1.3-0.3 1.3 0.3 1.9 0.7 1.2 1.1 0.6z" fill="#eb0000" fill-rule="evenodd"/>
<path d="M451.7 1040l1.2 0.4 0.6 0 3.2-1 1.9-0.9 1.9-0.6 2.1-1.7 3-1.6 1.9-0.4 1.3-0.9 1.6-2.8 2.9-3.3 3.8-2.4 0.9-1.8 1.3-1.9 1.1-2.5 0.9-3.8 0-1.3-0.4-1.1-1.3-0.6-1.2-1-1.9-0.7-1.3 0-1.9 0.6-1.3 0.1-0.6 0.5-2.2 2.9-1 0.8-2.8 1-4.9 1.3-3.8 2.6-1.5 1.8-1.2 2.5-2.1 3.2-0.7 1.9-0.9 4.4 0.5 2.5 0.2 2.5 0.7 1.3zM522.2 990.8l0.8 0.3 1.3 0 1.9-0.6 2.1-2.2 2.3-1.3 1.8-1.8 1.9-1.3 0.5-0.6 0.5-1.3 1.2-1.9 1.8-2.3 0.6-2.8 0.6-1.2 2.1-1.9 0.9-1.2 0.5-1.3 1.4-1.9 0-0.6-0.4-0.9-3.2-3.7-0.6-0.3-2.5 0.1-1.9 0.2-2 0.8-1.9 1.9-1.9 1.5-2.2 3.5-2.5 3.2-1.7 3.2-2.6 3.7-0.6 1.3-1.2 4.4 0 1.3 0.6 2.2 0.6 0.7 1.8 0.8z" fill="#00caff" fill-rule="evenodd"/>
<path d="M454.7 1034.9l3.3 0.1 1.2-0.3 7.1-3.8 3.5-3.5 1.6-1.9 3.8-3.7 0.5-0.7 0.5-1.3 0.3-1.9-0.2-1.2-0.5-0.8-0.6-0.6-0.6-0.3-0.7 0-3.2 1.3-7 1.8-3.8 2.3-2.6 3-3.9 5.2-0.6 3.2-0.1 1.3 0.7 1.2 1.3 0.6zM522.9 987.7l1.4 0 2-0.6 2.7-1.9 2.9-3.2 2.3-4.4 1.6-2.2 0.7-2.2 1.1-2.5 0.4-1.9-0.2-1.9-0.2-0.6-0.6-0.4-0.6 0-1.9 0.5-1.3 0.6-2.6 2-3.1 3.5-1.3 1.6-3.6 6-1.1 2.5-0.4 3.3 0.6 1.1 1.2 0.7z" fill="#008aff" fill-rule="evenodd"/>
<path d="M458.3 1031.2l0.9 0.2 1.3 0 2.6-1.2 2.5-1.6 3-2.5 1.7-1.9 2.1-3.1 0.3-0.7-0.1-0.6-0.6-0.5-0.6-0.1-3.2-0.2-1.9 0.1-1.9 0.6-3.2 1.9-0.7 0.8-3.2 5.6-0.3 1.3 0.2 1.2 1.1 0.7zM524 984.5l0.9 0.6 1.3-0.4 1.3-0.9 2.7-3 3.1-6.3 0.4-1.9-0.5-0.8-1.3-0.2-1.3 0.4-1.9 1.6-1.2 1.3-1.4 2.1-2.3 4.4-0.3 1.9 0.5 1.2z" fill="#0043ff" fill-rule="evenodd"/>
<path d="M446.5 1102l0.9-0.9 0.5-1.3 0-1.9 0.4-3.1 1.1-2.5 0.3-4.4-0.4-3.2 0.2-2.5 0.8-3.5 0.9-1.5-1-4.5-0.3-3.7-0.7-2.6-0.1-6.9 0.8-5.7-0.5-2.5 0.1-2.5-0.4-2.5 0.1-1.9-1.2-5 0.6-6.3 1.5-5.7 1.4-3.2 0.7-2.5 0.1-1.3-0.3-7.5 0.2-0.8 0.6-0.5 0.7 0 6.4 2.7 1.9 0.4 2.3-0.5 1.2-0.7 0.5-0.6 0.2-1.3-0.1-0.6-1.3-2.5-0.5-1.3-0.7-1.2-1-0.9-2.5-1.2-1.9-2-2.8-1.6-1-1.3-2-1.4-0.7-1.1-0.6-3.1 0.4-0.7 0.9-0.6 0.7-0.2 0.7 0.2-0.1 2 0.7 0.1 1.2-1.1 1.3 0.4 0.8-0.1-0.1-0.7-0.5-0.6-0.2-2.5 0.6-3.8-0.9-2.5-1.1-1.9-0.5-2.5 0.5-1.9 1.7-4.4 0.3-2 0.9-2.4 0.4-4.4-0.1-2.6-0.3-0.6-1.5-1.2-0.5-0.7-1.2-2.5-0.2-5 0.3-1.3 0.8-1.9 0-0.6-0.5-1-0.6-0.5-1.3-0.3-5.1-0.1-1.3-0.6-0.6-0.6M516.5 1027.4l0.8 0.3 1-0.3 0.8-0.6 0.5-1.3 1.5-0.3 0.2-0.3 0.5-1.9 0.6-1.3 1.9-0.4 0.6-0.7 0.3-0.8 0-1.2 0.2-1.3-0.7-1.9 0.1-0.6 0.7-1.9 0.5-0.6 1.4-0.7 0.5-0.6-0.1-0.6-1.6-1.8-0.9-2-1.6-1.9-0.6-1.3-0.1-0.6 0.8-1.2 0.2-1.9-0.4-0.4-2.5-0.9-1.3-1.3-1.3-1-0.6-0.8-0.2-2.6-0.7-1.9 0.4-4.4 2.2-6.3 0.6-1.2 2.2-3.1 3.2-5.8 1.6-2.5 3.4-6 1.2-1.5 0.2-0.7 0-1.9 0.3-1.2-0.1-1.9 0.9-3.1-0.7-0.7-2.4-0.3-1.9-1.2-0.6 0.1-1.3 0.8-0.6-0.1-2-0.4-1.9-1.2-0.6-0.1-1.3 0.2-3.2 1.5-2.5 2.6-1.3 1.8-0.6 0.2-1.3-0.3-0.7 0.2-0.5 0.6 0.1 1.9-0.2 0.2-0.6-0.5-0.4-0.9-0.9-1.3-0.6-0.2-2.3 0.8-0.2 0.7-0.1 1.8-0.6 1-0.7 0.4-1.6 0.5-0.3 0.4 0.2 1.5-0.2 0.7-1.4 1.9-0.3 1.2-0.4 0.6-3 3.1-1 2-0.9 0.4-1.6 0.2-1.6 1.8-0.6 1.7-1.3 0.9-0.3 0.7-0.3 1.2-1.4 3.2-1.2 3.7-2.5 2.2-1.9 1.9-1.3 1-0.7 0.2-3.1 0.2-2.6 1-1.3 0.1-3.8-0.2-1.3 0.2-0.6 0.5-0.9 1.8 0.1 0.6 0.3 0.6 1.1 0.9 1.3 0.3 1.3 0.1 1.9 0.4 0.6-0.3 0.7-0.8 0.6-0.5 0.7 0.1 1.2 0.6 0.7 0.1 2.5 0.1 1.9-0.5 1 0.2 0.9 0.4 0.6 0.8 0 1.3 0.2 1.9-1 1.9-0.1 0.6 0.1 0.6 2.8 2.2 0.6 0.8 2.5 5.2 2.6 3.8 0.7 1.9 0.6 0.8 2.4 1.1 1.8 1.8 0.9 0.5 3.2 0.4 1.9-0.4 1.9 0.7 1.1 0.7 0.5 0.7 0.4 1.2 0.6 0.7 0.6 0 0.6-0.7 0.7-0.2 1.9 0.4 1.9-0.1 1.3 1.1 1.4 0.7 1 1.3M446.5 1094.7l0.6-2.4 0.7-17.7-0.2-4.4-0.3-3.1 0-7.6-0.2-1.9 0-3.1 0.4-5.1-0.4-2.5 0-3.1-0.3-3.8 0.2-5.1 1.2-7.5 1.8-4.4 0.3-2.6 0-5.6-1.1-5.1 0-1.2 0.5-0.6 0.6-0.3 1.3 0.2 1.3 0.6 3.2 2.1 1.9 0.9 1.9 0.5 1.3 0 0.4-0.3 0.4-0.6 0.1-0.6-0.5-1.9-1.1-1.6-3.8-3.4-5.1-3.5-2.4-2.2-0.7-1.3-0.5-1.9-0.2-1.2 0.1-1.3 1.6-4.4 0.5-2.5 0-3.2-0.6-3.8 0.3-5-1.1-4.4 0.6-3.2-0.3-1.8 0.2-5.1-0.3-2.5 0.7-5-0.1-1.3-0.5-1.3-1-1.2-1.4-1.3M502.2 1014.8l1 0.3 2 0 4.4-1.2 1.7-1 0.9-1.3 1.9-1.7 0.6-1.2 0.6-3.4 0.4-4.4-0.1-1.2-0.8-1.9-0.2-1.3 1-9.4 3.3-8.9 2.7-4.4 0.8-1.9 3.1-5.6 0.5-2.5 0.4-3.8-0.4-1.3-1.2-1.3-0.5-0.2-1.9-0.5-1.3 0-1.9 1.3-2.6 1.1-1.2 1-2 0.7-3.2 2.6-2.5 1.7-1.3 1.4-2.6 4.2-1.8 1.6-1.3 1.5-1.9 0.8-2.2 1.8-3.3 5-2.2 2-2.3 4.3-2.4 2.5-0.3 0.6 0.3 1.3 1 1.9 0.9 2.5 2.1 7.6 1.2 1.9 0.5 1.9 0.6 1.2 1.3 1.3 1 0.5 5.2 2 2 1.9M446.5 1078.4l0-8.9M446.5 1031.4l0.6-7.9 0.8-2.4-0.2-1.9 0.6-1.9 0-0.6-0.7-3.8-0.7-2.5-0.1-3.2 0.3-1.9 0.7-0.8 0.6-0.2 3.2 0.6 0.6 0.2 2 2 1.9 1.4 1.9 0.5 0.6-0.5-1.1-1.9-1.4-1.6-5.8-3.2-1-0.9-1.5-2.3-0.9-3.3-0.2-2.6 0.6-5 0.3-5.1-0.3-3.1 0.3-3.8-0.6-6.9 0.3-6.3-0.2-6.9 0.2-5.1-0.4-1.9-0.4-0.8M501.1 1008.5l2.1 0 2-0.6 1.3 0 4-2.6 1.2-1.2 0.5-2.5 0.3-6.3 0.7-3.8 0.5-4.4 1.4-3.2 1.6-5 0.8-1.9 1.3-1.9 0.9-3.2 0.2-2.5 1-1.9-0.1-1.2-1-1.2-1-0.7-0.9 0-2.5 0.6-4.4 2.5-5.2 5-2.6 3.1-4.3 2.6-1.1 1.9-2.4 3.2-1.6 1.9-0.8 1.5-1.5 2.3-0.6 2.5 0.2 1.2 0 2.6 0.4 2.5 1.8 5.6 1 1.6 2.6 2.5 0.7 0.4 3.5 0.6M499.6 1004.7l2.4 0.3 1.9-0.2 3.2-1.2 1.2-0.7 0.8-0.7 0.5-1 0.8-2.2 0.5-3.7 0.8-3.8 0.3-1.9 0-3.2 0.8-1.9 0.4-2.5 1.6-5 0.8-3.8 0-1.3-0.2-0.4-0.7-0.4-1.3 0-2.5 1.1-1.3 1.4-1.3 0.9-2.5 3-1.9 1.1-1.3 1.4-1.3 0.6-1.9 1.5-1.9 2.3-1.5 1.4-1.7 3.2-0.9 2.5-0.2 2.5 0.4 3.1 0.3 1.3 1.1 2.4 1.2 2.1 1.3 0.9 2.1 0.9M500.1 1002.8l1.9 0.1 3.2-0.9 1.9-1.1 1.1-1.2 0.7-1.3 1-4.4 0.7-5-0.7-5.1-0.1-2.5-0.2-0.4-0.6-0.4-1.3 0-2.5 0.6-3.2 1.7-4.5 3.5-0.9 1.3-0.6 1.3-0.7 1.8-0.4 1.9 0.2 3.8 0.2 1.3 0.9 1.9 1.3 1.4 1.3 1.1 1.3 0.6M499.6 1000.9l1.7 0.5 1.9-0.2 1-0.3 2.5-1.9 1.1-1.9 1-3.7 0.3-4.4-0.3-1.3-0.6-1.3-1.1-1.1-1.3-0.7-1.9-0.2-1.9 0.6-2 1.1-1.2 1-1.1 1.2-0.6 1.3-0.9 3.1 0.3 3.8 1 2.5 1.1 1.3 1 0.6M500 999.7l2 0.4 1.9-0.3 1.7-1.4 1.2-1.9 0.9-3.1 0.1-3.2-0.3-1.2-0.4-1.2-0.7-0.7-0.6-0.3-1.9-0.5-1.9 0.4-2 1.1-1.2 1.2-0.7 1.1-0.7 2.6 0 2.6 0.3 1.2 0.9 1.9 1.4 1.3M500.6 998.4l1.4 0.4 1.2-0.1 0.7-0.3 1.3-1.2 0.7-1.3 0.6-1.9 0.1-2.5-0.4-1.9-0.4-0.7-0.8-0.6-1.1-0.3-1.9 0.3-2 1.2-1 1.3-0.6 1.9 0.1 2.6 0.9 2.1 1.2 1M501.6 997.1l1 0.1 1.3-0.6 0.6-0.9 0.5-1.1 0.4-1.9-0.2-1.2-0.7-1.2-0.6-0.4-1.3-0.1-1.3 0.3-0.8 0.7-0.7 1.3-0.3 1.3 0.3 1.9 0.7 1.2 1.1 0.6M452.2 1040.2l-0.6-0.3-0.6-1.2-0.2-2.5-0.5-1.9 0.1-1.9 1.2-4.4 2.4-3.8 1.2-2.5 0.9-1.3 2.4-1.8 2-1.3 4.9-1.3 2.8-1 1-0.8 2.2-2.9 0.6-0.5 1.3-0.1 1.9-0.6 1.3 0 1.9 0.7 1.2 1 1.3 0.6 0.4 1.1 0 1.3-0.9 3.8-1.1 2.5-1.3 1.9-0.9 1.8-3.8 2.4-2.9 3.3-1.6 2.8-1.3 0.9-1.9 0.4-3 1.6-2.1 1.7-1.9 0.6-1.9 0.9-3.2 1-1.3-0.2M522.4 990.9l-2-0.9-0.6-0.7-0.6-2.2 0-1.3 1.5-5 1.1-1.9 2.1-3.2 1-1.9 2.9-3.8 2.2-3.5 1.9-1.5 1.9-1.9 2-0.8 1.9-0.2 2.5-0.1 0.6 0.3 3.2 3.7 0.4 0.9 0 0.6-1.4 1.9-0.5 1.3-0.9 1.2-2.1 1.9-0.6 1.2-0.6 2.8-1.8 2.3-1.2 1.9-0.5 1.3-0.5 0.6-1.9 1.3-1.8 1.8-2.3 1.3-2.1 2.2-1.9 0.6-1.9-0.2M454.8 1035l-1.4-0.7-0.7-1.2 0.1-1.3 0.6-3.2 3.9-5.2 2.6-3 3.8-2.3 7-1.8 3.2-1.3 0.7 0 0.6 0.3 0.6 0.6 0.5 0.8 0.2 1.2-0.3 1.9-0.5 1.3-0.5 0.7-3.8 3.7-1.6 1.9-3.5 3.5-7.1 3.8-1.2 0.3-3.2 0M523 987.8l-1.3-0.8-0.6-1.1 0.4-3.3 1.1-2.5 3.6-6 1.3-1.6 3.1-3.5 2.6-2 1.3-0.6 1.9-0.5 0.6 0 0.6 0.4 0.2 0.6 0.2 1.9-0.4 1.9-1.1 2.5-0.7 2.2-1.6 2.2-2.3 4.4-2.5 2.8-2.6 1.9-1.9 0.9-1.9 0.2M458.6 1031.3l-1.4-0.8-0.2-0.6 0.1-1.3 0.5-1.2 1.2-1.9 1.7-3.1 0.7-0.8 3.2-1.9 1.9-0.6 1.9-0.1 3.2 0.2 0.6 0.1 0.6 0.5 0.1 0.6-0.3 0.7-1.6 2.5-1.6 1.9-1.7 1.5-2.5 2-2.6 1.5-2.5 1-1.3-0.2M524.3 984.9l-0.7-1-0.1-0.6 0.3-1.9 2.3-4.4 1.3-1.9 1.3-1.5 1.9-1.6 1.3-0.4 1.3 0.2 0.5 0.8-0.4 1.9-2.7 5.6-3.3 3.8-1.7 1.1-0.7 0.1-0.6-0.2" fill="none" stroke="#050505" stroke-width="0.85" stroke-linejoin="round"/>
</g>
<path d="M446.5 998.4H684" stroke="#111" stroke-width="1.6"/>
<path d="M446.5 998.4L566.9 879.4" stroke="#111" stroke-width="1.6"/>
<path d="M574.4 872L569.4 883.3L563.1 876.9z" fill="#111"/>
<path d="M446.5 998.4L566.9 1117.4" stroke="#111" stroke-width="1.6"/>
<path d="M574.4 1124.8L563.1 1119.9L569.4 1113.5z" fill="#111"/>
<rect x="447" y="873.2" width="21.2" height="33" fill="#fff"/>
<text transform="translate(457.8 891.5) scale(1 1)" font-size="28" text-anchor="middle" font-weight="bold">g</text>
<path d="M446.5 1124.2v-4.2M446.5 872.6v3.3M510.2 1124.2v-4.2M510.2 872.6v3.3M574 1124.2v-4.2M574 872.6v3.3M637.8 1124.2v-4.2M637.8 872.6v3.3M467.8 1124.2v-2.6M467.8 872.6v2.2M489 1124.2v-2.6M489 872.6v2.2M531.5 1124.2v-2.6M531.5 872.6v2.2M552.8 1124.2v-2.6M552.8 872.6v2.2M595.2 1124.2v-2.6M595.2 872.6v2.2M616.5 1124.2v-2.6M616.5 872.6v2.2M659 1124.2v-2.6M659 872.6v2.2M680.2 1124.2v-2.6M680.2 872.6v2.2M446.5 1082.4h4.2M684 1082.4h-4.2M446.5 998.4h4.2M684 998.4h-4.2M446.5 914.4h4.2M684 914.4h-4.2M446.5 1103.4h2.6M684 1103.4h-2.6M446.5 1061.4h2.6M684 1061.4h-2.6M446.5 1040.4h2.6M684 1040.4h-2.6M446.5 1019.4h2.6M684 1019.4h-2.6M446.5 977.4h2.6M684 977.4h-2.6M446.5 956.4h2.6M684 956.4h-2.6M446.5 935.4h2.6M684 935.4h-2.6M446.5 893.4h2.6M684 893.4h-2.6" stroke="#111" stroke-width="1.3" fill="none"/>
<rect x="446.5" y="872.6" width="237.5" height="251.6" fill="none" stroke="#111" stroke-width="1.5"/>
<text transform="translate(437.9 1089.4) scale(0.99 1)" font-size="19.7" text-anchor="end" >−4</text>
<text transform="translate(437.9 1005.4) scale(0.99 1)" font-size="19.7" text-anchor="end" >0</text>
<text transform="translate(437.9 921.4) scale(0.99 1)" font-size="19.7" text-anchor="end" >4</text>
<text transform="translate(446.5 1147.8) scale(0.99 1)" font-size="19.7" text-anchor="middle" >0</text>
<text transform="translate(510.25 1147.8) scale(0.99 1)" font-size="19.7" text-anchor="middle" >3</text>
<text transform="translate(574 1147.8) scale(0.99 1)" font-size="19.7" text-anchor="middle" >6</text>
<text transform="translate(637.75 1147.8) scale(0.99 1)" font-size="19.7" text-anchor="middle" >9</text>
<text transform="translate(565 1177.4) scale(0.99 1)" font-size="19.7" text-anchor="middle"><tspan font-family='Liberation Serif, DejaVu Serif, serif' font-style="italic" font-size="19.7">μ</tspan><tspan font-style="italic" font-size="15" dy="5.3">0</tspan><tspan font-style="italic" dy="-5.3">H</tspan><tspan font-style="italic" font-size="15" dy="5.3">C</tspan><tspan dy="-5.3"> (mT)</tspan></text>
<text transform="translate(396.3 733.9) rotate(-90) scale(0.99 1)" font-size="19.7" text-anchor="middle"><tspan font-family='Liberation Serif, DejaVu Serif, serif' font-style="italic" font-size="19.7">μ</tspan><tspan font-style="italic" font-size="15" dy="5.3">0</tspan><tspan font-style="italic" dy="-5.3">H</tspan><tspan font-style="italic" font-size="15" dy="5.3">B</tspan><tspan dy="-5.3"> (mT)</tspan></text>
</svg>
</body></html>
